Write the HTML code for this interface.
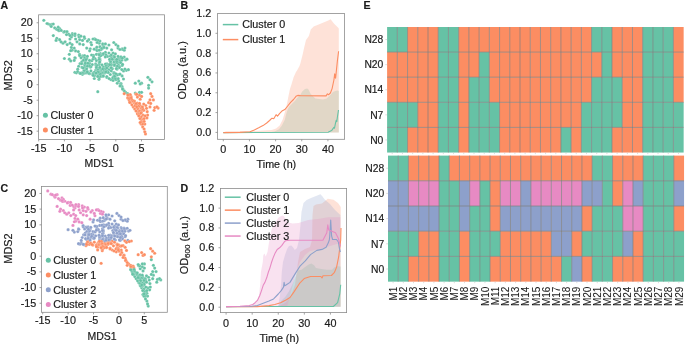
<!DOCTYPE html>
<html><head><meta charset="utf-8"><style>
html,body{margin:0;padding:0;background:#fff;}
body{width:685px;height:345px;overflow:hidden;}
svg{display:block;will-change:transform;}
text{font-family:"Liberation Sans", sans-serif;stroke:#1a1a1a;stroke-width:0.18px;}
</style></head><body>
<svg width="685" height="345" viewBox="0 0 685 345" font-family='"Liberation Sans", sans-serif' fill="#1a1a1a">
<rect width="685" height="345" fill="#fff"/>
<text x="0.50" y="8.60" font-size="10.6" text-anchor="start" font-weight="bold" >A</text>
<text x="180.50" y="9.00" font-size="10.6" text-anchor="start" font-weight="bold" >B</text>
<text x="0.60" y="191.60" font-size="10.6" text-anchor="start" font-weight="bold" >C</text>
<text x="180.50" y="192.00" font-size="10.6" text-anchor="start" font-weight="bold" >D</text>
<text x="363.60" y="8.70" font-size="10.6" text-anchor="start" font-weight="bold" >E</text>
<circle cx="117.41" cy="67.82" r="1.6" fill="#66c2a5" stroke="#ffffff" stroke-width="0.3" stroke-opacity="0.6"/>
<circle cx="122.10" cy="86.70" r="1.6" fill="#66c2a5" stroke="#ffffff" stroke-width="0.3" stroke-opacity="0.6"/>
<circle cx="107.50" cy="56.40" r="1.6" fill="#66c2a5" stroke="#ffffff" stroke-width="0.3" stroke-opacity="0.6"/>
<circle cx="98.52" cy="70.46" r="1.6" fill="#66c2a5" stroke="#ffffff" stroke-width="0.3" stroke-opacity="0.6"/>
<circle cx="142.70" cy="126.90" r="1.6" fill="#fc8d62" stroke="#ffffff" stroke-width="0.3" stroke-opacity="0.6"/>
<circle cx="87.40" cy="71.60" r="1.6" fill="#66c2a5" stroke="#ffffff" stroke-width="0.3" stroke-opacity="0.6"/>
<circle cx="70.00" cy="39.00" r="1.6" fill="#66c2a5" stroke="#ffffff" stroke-width="0.3" stroke-opacity="0.6"/>
<circle cx="122.10" cy="48.80" r="1.6" fill="#66c2a5" stroke="#ffffff" stroke-width="0.3" stroke-opacity="0.6"/>
<circle cx="110.98" cy="63.90" r="1.6" fill="#66c2a5" stroke="#ffffff" stroke-width="0.3" stroke-opacity="0.6"/>
<circle cx="74.90" cy="35.60" r="1.6" fill="#66c2a5" stroke="#ffffff" stroke-width="0.3" stroke-opacity="0.6"/>
<circle cx="125.60" cy="92.30" r="1.6" fill="#66c2a5" stroke="#ffffff" stroke-width="0.3" stroke-opacity="0.6"/>
<circle cx="99.90" cy="59.00" r="1.6" fill="#66c2a5" stroke="#ffffff" stroke-width="0.3" stroke-opacity="0.6"/>
<circle cx="116.02" cy="60.57" r="1.6" fill="#66c2a5" stroke="#ffffff" stroke-width="0.3" stroke-opacity="0.6"/>
<circle cx="118.00" cy="48.10" r="1.6" fill="#66c2a5" stroke="#ffffff" stroke-width="0.3" stroke-opacity="0.6"/>
<circle cx="93.37" cy="55.31" r="1.6" fill="#66c2a5" stroke="#ffffff" stroke-width="0.3" stroke-opacity="0.6"/>
<circle cx="103.01" cy="47.99" r="1.6" fill="#66c2a5" stroke="#ffffff" stroke-width="0.3" stroke-opacity="0.6"/>
<circle cx="124.20" cy="57.10" r="1.6" fill="#66c2a5" stroke="#ffffff" stroke-width="0.3" stroke-opacity="0.6"/>
<circle cx="111.70" cy="57.10" r="1.6" fill="#66c2a5" stroke="#ffffff" stroke-width="0.3" stroke-opacity="0.6"/>
<circle cx="129.82" cy="101.59" r="1.6" fill="#fc8d62" stroke="#ffffff" stroke-width="0.3" stroke-opacity="0.6"/>
<circle cx="67.20" cy="44.60" r="1.6" fill="#66c2a5" stroke="#ffffff" stroke-width="0.3" stroke-opacity="0.6"/>
<circle cx="63.70" cy="32.10" r="1.6" fill="#66c2a5" stroke="#ffffff" stroke-width="0.3" stroke-opacity="0.6"/>
<circle cx="113.81" cy="73.39" r="1.6" fill="#66c2a5" stroke="#ffffff" stroke-width="0.3" stroke-opacity="0.6"/>
<circle cx="99.90" cy="46.70" r="1.6" fill="#66c2a5" stroke="#ffffff" stroke-width="0.3" stroke-opacity="0.6"/>
<circle cx="116.09" cy="62.97" r="1.6" fill="#66c2a5" stroke="#ffffff" stroke-width="0.3" stroke-opacity="0.6"/>
<circle cx="137.20" cy="103.20" r="1.6" fill="#fc8d62" stroke="#ffffff" stroke-width="0.3" stroke-opacity="0.6"/>
<circle cx="110.35" cy="56.12" r="1.6" fill="#66c2a5" stroke="#ffffff" stroke-width="0.3" stroke-opacity="0.6"/>
<circle cx="140.02" cy="106.48" r="1.6" fill="#fc8d62" stroke="#ffffff" stroke-width="0.3" stroke-opacity="0.6"/>
<circle cx="79.59" cy="54.38" r="1.6" fill="#66c2a5" stroke="#ffffff" stroke-width="0.3" stroke-opacity="0.6"/>
<circle cx="150.00" cy="99.90" r="1.6" fill="#fc8d62" stroke="#ffffff" stroke-width="0.3" stroke-opacity="0.6"/>
<circle cx="146.90" cy="117.90" r="1.6" fill="#fc8d62" stroke="#ffffff" stroke-width="0.3" stroke-opacity="0.6"/>
<circle cx="130.50" cy="95.00" r="1.6" fill="#fc8d62" stroke="#ffffff" stroke-width="0.3" stroke-opacity="0.6"/>
<circle cx="95.70" cy="70.30" r="1.6" fill="#66c2a5" stroke="#ffffff" stroke-width="0.3" stroke-opacity="0.6"/>
<circle cx="69.30" cy="59.20" r="1.6" fill="#66c2a5" stroke="#ffffff" stroke-width="0.3" stroke-opacity="0.6"/>
<circle cx="153.40" cy="99.90" r="1.6" fill="#fc8d62" stroke="#ffffff" stroke-width="0.3" stroke-opacity="0.6"/>
<circle cx="82.50" cy="74.30" r="1.6" fill="#66c2a5" stroke="#ffffff" stroke-width="0.3" stroke-opacity="0.6"/>
<circle cx="91.78" cy="60.73" r="1.6" fill="#66c2a5" stroke="#ffffff" stroke-width="0.3" stroke-opacity="0.6"/>
<circle cx="78.67" cy="66.25" r="1.6" fill="#66c2a5" stroke="#ffffff" stroke-width="0.3" stroke-opacity="0.6"/>
<circle cx="128.40" cy="95.70" r="1.6" fill="#fc8d62" stroke="#ffffff" stroke-width="0.3" stroke-opacity="0.6"/>
<circle cx="133.30" cy="106.90" r="1.6" fill="#fc8d62" stroke="#ffffff" stroke-width="0.3" stroke-opacity="0.6"/>
<circle cx="77.00" cy="41.80" r="1.6" fill="#66c2a5" stroke="#ffffff" stroke-width="0.3" stroke-opacity="0.6"/>
<circle cx="81.80" cy="61.80" r="1.6" fill="#66c2a5" stroke="#ffffff" stroke-width="0.3" stroke-opacity="0.6"/>
<circle cx="143.00" cy="115.20" r="1.6" fill="#fc8d62" stroke="#ffffff" stroke-width="0.3" stroke-opacity="0.6"/>
<circle cx="100.42" cy="53.68" r="1.6" fill="#66c2a5" stroke="#ffffff" stroke-width="0.3" stroke-opacity="0.6"/>
<circle cx="63.00" cy="43.20" r="1.6" fill="#66c2a5" stroke="#ffffff" stroke-width="0.3" stroke-opacity="0.6"/>
<circle cx="125.60" cy="59.90" r="1.6" fill="#66c2a5" stroke="#ffffff" stroke-width="0.3" stroke-opacity="0.6"/>
<circle cx="127.70" cy="97.80" r="1.6" fill="#fc8d62" stroke="#ffffff" stroke-width="0.3" stroke-opacity="0.6"/>
<circle cx="56.80" cy="38.30" r="1.6" fill="#66c2a5" stroke="#ffffff" stroke-width="0.3" stroke-opacity="0.6"/>
<circle cx="79.70" cy="43.90" r="1.6" fill="#66c2a5" stroke="#ffffff" stroke-width="0.3" stroke-opacity="0.6"/>
<circle cx="113.10" cy="59.20" r="1.6" fill="#66c2a5" stroke="#ffffff" stroke-width="0.3" stroke-opacity="0.6"/>
<circle cx="118.56" cy="65.21" r="1.6" fill="#66c2a5" stroke="#ffffff" stroke-width="0.3" stroke-opacity="0.6"/>
<circle cx="111.57" cy="58.25" r="1.6" fill="#66c2a5" stroke="#ffffff" stroke-width="0.3" stroke-opacity="0.6"/>
<circle cx="75.60" cy="39.00" r="1.6" fill="#66c2a5" stroke="#ffffff" stroke-width="0.3" stroke-opacity="0.6"/>
<circle cx="92.30" cy="64.60" r="1.6" fill="#66c2a5" stroke="#ffffff" stroke-width="0.3" stroke-opacity="0.6"/>
<circle cx="77.73" cy="69.16" r="1.6" fill="#66c2a5" stroke="#ffffff" stroke-width="0.3" stroke-opacity="0.6"/>
<circle cx="86.00" cy="73.00" r="1.6" fill="#66c2a5" stroke="#ffffff" stroke-width="0.3" stroke-opacity="0.6"/>
<circle cx="139.50" cy="95.19" r="1.6" fill="#fc8d62" stroke="#ffffff" stroke-width="0.3" stroke-opacity="0.6"/>
<circle cx="144.10" cy="129.00" r="1.6" fill="#fc8d62" stroke="#ffffff" stroke-width="0.3" stroke-opacity="0.6"/>
<circle cx="106.92" cy="77.48" r="1.6" fill="#66c2a5" stroke="#ffffff" stroke-width="0.3" stroke-opacity="0.6"/>
<circle cx="70.70" cy="60.90" r="1.6" fill="#66c2a5" stroke="#ffffff" stroke-width="0.3" stroke-opacity="0.6"/>
<circle cx="142.00" cy="124.10" r="1.6" fill="#fc8d62" stroke="#ffffff" stroke-width="0.3" stroke-opacity="0.6"/>
<circle cx="114.03" cy="72.69" r="1.6" fill="#66c2a5" stroke="#ffffff" stroke-width="0.3" stroke-opacity="0.6"/>
<circle cx="84.60" cy="38.30" r="1.6" fill="#66c2a5" stroke="#ffffff" stroke-width="0.3" stroke-opacity="0.6"/>
<circle cx="110.89" cy="79.55" r="1.6" fill="#66c2a5" stroke="#ffffff" stroke-width="0.3" stroke-opacity="0.6"/>
<circle cx="65.10" cy="41.80" r="1.6" fill="#66c2a5" stroke="#ffffff" stroke-width="0.3" stroke-opacity="0.6"/>
<circle cx="84.58" cy="67.01" r="1.6" fill="#66c2a5" stroke="#ffffff" stroke-width="0.3" stroke-opacity="0.6"/>
<circle cx="105.18" cy="71.66" r="1.6" fill="#66c2a5" stroke="#ffffff" stroke-width="0.3" stroke-opacity="0.6"/>
<circle cx="82.66" cy="55.93" r="1.6" fill="#66c2a5" stroke="#ffffff" stroke-width="0.3" stroke-opacity="0.6"/>
<circle cx="99.67" cy="76.22" r="1.6" fill="#66c2a5" stroke="#ffffff" stroke-width="0.3" stroke-opacity="0.6"/>
<circle cx="79.70" cy="55.70" r="1.6" fill="#66c2a5" stroke="#ffffff" stroke-width="0.3" stroke-opacity="0.6"/>
<circle cx="72.29" cy="33.67" r="1.6" fill="#66c2a5" stroke="#ffffff" stroke-width="0.3" stroke-opacity="0.6"/>
<circle cx="86.70" cy="48.10" r="1.6" fill="#66c2a5" stroke="#ffffff" stroke-width="0.3" stroke-opacity="0.6"/>
<circle cx="90.20" cy="48.80" r="1.6" fill="#66c2a5" stroke="#ffffff" stroke-width="0.3" stroke-opacity="0.6"/>
<circle cx="104.70" cy="73.10" r="1.6" fill="#66c2a5" stroke="#ffffff" stroke-width="0.3" stroke-opacity="0.6"/>
<circle cx="51.90" cy="24.40" r="1.6" fill="#66c2a5" stroke="#ffffff" stroke-width="0.3" stroke-opacity="0.6"/>
<circle cx="115.90" cy="79.70" r="1.6" fill="#66c2a5" stroke="#ffffff" stroke-width="0.3" stroke-opacity="0.6"/>
<circle cx="138.10" cy="109.00" r="1.6" fill="#fc8d62" stroke="#ffffff" stroke-width="0.3" stroke-opacity="0.6"/>
<circle cx="101.30" cy="71.70" r="1.6" fill="#66c2a5" stroke="#ffffff" stroke-width="0.3" stroke-opacity="0.6"/>
<circle cx="108.90" cy="69.70" r="1.6" fill="#66c2a5" stroke="#ffffff" stroke-width="0.3" stroke-opacity="0.6"/>
<circle cx="75.60" cy="50.90" r="1.6" fill="#66c2a5" stroke="#ffffff" stroke-width="0.3" stroke-opacity="0.6"/>
<circle cx="152.00" cy="81.80" r="1.6" fill="#66c2a5" stroke="#ffffff" stroke-width="0.3" stroke-opacity="0.6"/>
<circle cx="141.60" cy="83.20" r="1.6" fill="#66c2a5" stroke="#ffffff" stroke-width="0.3" stroke-opacity="0.6"/>
<circle cx="117.13" cy="69.06" r="1.6" fill="#66c2a5" stroke="#ffffff" stroke-width="0.3" stroke-opacity="0.6"/>
<circle cx="74.20" cy="48.10" r="1.6" fill="#66c2a5" stroke="#ffffff" stroke-width="0.3" stroke-opacity="0.6"/>
<circle cx="111.34" cy="54.92" r="1.6" fill="#66c2a5" stroke="#ffffff" stroke-width="0.3" stroke-opacity="0.6"/>
<circle cx="118.70" cy="74.50" r="1.6" fill="#66c2a5" stroke="#ffffff" stroke-width="0.3" stroke-opacity="0.6"/>
<circle cx="107.14" cy="71.72" r="1.6" fill="#66c2a5" stroke="#ffffff" stroke-width="0.3" stroke-opacity="0.6"/>
<circle cx="72.23" cy="34.95" r="1.6" fill="#66c2a5" stroke="#ffffff" stroke-width="0.3" stroke-opacity="0.6"/>
<circle cx="119.30" cy="59.90" r="1.6" fill="#66c2a5" stroke="#ffffff" stroke-width="0.3" stroke-opacity="0.6"/>
<circle cx="94.30" cy="78.50" r="1.6" fill="#66c2a5" stroke="#ffffff" stroke-width="0.3" stroke-opacity="0.6"/>
<circle cx="113.80" cy="62.00" r="1.6" fill="#66c2a5" stroke="#ffffff" stroke-width="0.3" stroke-opacity="0.6"/>
<circle cx="90.31" cy="67.12" r="1.6" fill="#66c2a5" stroke="#ffffff" stroke-width="0.3" stroke-opacity="0.6"/>
<circle cx="50.50" cy="24.90" r="1.6" fill="#66c2a5" stroke="#ffffff" stroke-width="0.3" stroke-opacity="0.6"/>
<circle cx="144.80" cy="124.10" r="1.6" fill="#fc8d62" stroke="#ffffff" stroke-width="0.3" stroke-opacity="0.6"/>
<circle cx="141.04" cy="124.02" r="1.6" fill="#fc8d62" stroke="#ffffff" stroke-width="0.3" stroke-opacity="0.6"/>
<circle cx="134.00" cy="102.70" r="1.6" fill="#fc8d62" stroke="#ffffff" stroke-width="0.3" stroke-opacity="0.6"/>
<circle cx="111.26" cy="67.70" r="1.6" fill="#66c2a5" stroke="#ffffff" stroke-width="0.3" stroke-opacity="0.6"/>
<circle cx="117.30" cy="74.90" r="1.6" fill="#66c2a5" stroke="#ffffff" stroke-width="0.3" stroke-opacity="0.6"/>
<circle cx="154.10" cy="110.30" r="1.6" fill="#fc8d62" stroke="#ffffff" stroke-width="0.3" stroke-opacity="0.6"/>
<circle cx="102.73" cy="73.19" r="1.6" fill="#66c2a5" stroke="#ffffff" stroke-width="0.3" stroke-opacity="0.6"/>
<circle cx="142.02" cy="119.49" r="1.6" fill="#fc8d62" stroke="#ffffff" stroke-width="0.3" stroke-opacity="0.6"/>
<circle cx="85.40" cy="70.08" r="1.6" fill="#66c2a5" stroke="#ffffff" stroke-width="0.3" stroke-opacity="0.6"/>
<circle cx="138.21" cy="114.07" r="1.6" fill="#fc8d62" stroke="#ffffff" stroke-width="0.3" stroke-opacity="0.6"/>
<circle cx="122.66" cy="49.40" r="1.6" fill="#66c2a5" stroke="#ffffff" stroke-width="0.3" stroke-opacity="0.6"/>
<circle cx="111.60" cy="49.79" r="1.6" fill="#66c2a5" stroke="#ffffff" stroke-width="0.3" stroke-opacity="0.6"/>
<circle cx="130.50" cy="102.70" r="1.6" fill="#fc8d62" stroke="#ffffff" stroke-width="0.3" stroke-opacity="0.6"/>
<circle cx="100.97" cy="49.67" r="1.6" fill="#66c2a5" stroke="#ffffff" stroke-width="0.3" stroke-opacity="0.6"/>
<circle cx="68.60" cy="34.20" r="1.6" fill="#66c2a5" stroke="#ffffff" stroke-width="0.3" stroke-opacity="0.6"/>
<circle cx="127.94" cy="98.07" r="1.6" fill="#fc8d62" stroke="#ffffff" stroke-width="0.3" stroke-opacity="0.6"/>
<circle cx="83.90" cy="73.16" r="1.6" fill="#66c2a5" stroke="#ffffff" stroke-width="0.3" stroke-opacity="0.6"/>
<circle cx="119.36" cy="62.20" r="1.6" fill="#66c2a5" stroke="#ffffff" stroke-width="0.3" stroke-opacity="0.6"/>
<circle cx="113.10" cy="80.40" r="1.6" fill="#66c2a5" stroke="#ffffff" stroke-width="0.3" stroke-opacity="0.6"/>
<circle cx="135.30" cy="83.20" r="1.6" fill="#66c2a5" stroke="#ffffff" stroke-width="0.3" stroke-opacity="0.6"/>
<circle cx="53.30" cy="35.60" r="1.6" fill="#66c2a5" stroke="#ffffff" stroke-width="0.3" stroke-opacity="0.6"/>
<circle cx="98.95" cy="79.34" r="1.6" fill="#66c2a5" stroke="#ffffff" stroke-width="0.3" stroke-opacity="0.6"/>
<circle cx="88.34" cy="65.03" r="1.6" fill="#66c2a5" stroke="#ffffff" stroke-width="0.3" stroke-opacity="0.6"/>
<circle cx="94.67" cy="74.94" r="1.6" fill="#66c2a5" stroke="#ffffff" stroke-width="0.3" stroke-opacity="0.6"/>
<circle cx="95.71" cy="72.34" r="1.6" fill="#66c2a5" stroke="#ffffff" stroke-width="0.3" stroke-opacity="0.6"/>
<circle cx="75.23" cy="58.10" r="1.6" fill="#66c2a5" stroke="#ffffff" stroke-width="0.3" stroke-opacity="0.6"/>
<circle cx="114.06" cy="56.07" r="1.6" fill="#66c2a5" stroke="#ffffff" stroke-width="0.3" stroke-opacity="0.6"/>
<circle cx="97.78" cy="76.03" r="1.6" fill="#66c2a5" stroke="#ffffff" stroke-width="0.3" stroke-opacity="0.6"/>
<circle cx="83.70" cy="56.58" r="1.6" fill="#66c2a5" stroke="#ffffff" stroke-width="0.3" stroke-opacity="0.6"/>
<circle cx="145.80" cy="105.50" r="1.6" fill="#fc8d62" stroke="#ffffff" stroke-width="0.3" stroke-opacity="0.6"/>
<circle cx="94.98" cy="73.55" r="1.6" fill="#66c2a5" stroke="#ffffff" stroke-width="0.3" stroke-opacity="0.6"/>
<circle cx="101.15" cy="69.51" r="1.6" fill="#66c2a5" stroke="#ffffff" stroke-width="0.3" stroke-opacity="0.6"/>
<circle cx="70.00" cy="43.20" r="1.6" fill="#66c2a5" stroke="#ffffff" stroke-width="0.3" stroke-opacity="0.6"/>
<circle cx="141.22" cy="116.97" r="1.6" fill="#fc8d62" stroke="#ffffff" stroke-width="0.3" stroke-opacity="0.6"/>
<circle cx="113.81" cy="76.18" r="1.6" fill="#66c2a5" stroke="#ffffff" stroke-width="0.3" stroke-opacity="0.6"/>
<circle cx="137.20" cy="111.60" r="1.6" fill="#fc8d62" stroke="#ffffff" stroke-width="0.3" stroke-opacity="0.6"/>
<circle cx="132.26" cy="101.17" r="1.6" fill="#fc8d62" stroke="#ffffff" stroke-width="0.3" stroke-opacity="0.6"/>
<circle cx="85.57" cy="63.48" r="1.6" fill="#66c2a5" stroke="#ffffff" stroke-width="0.3" stroke-opacity="0.6"/>
<circle cx="120.32" cy="60.81" r="1.6" fill="#66c2a5" stroke="#ffffff" stroke-width="0.3" stroke-opacity="0.6"/>
<circle cx="152.00" cy="96.40" r="1.6" fill="#fc8d62" stroke="#ffffff" stroke-width="0.3" stroke-opacity="0.6"/>
<circle cx="147.60" cy="115.10" r="1.6" fill="#fc8d62" stroke="#ffffff" stroke-width="0.3" stroke-opacity="0.6"/>
<circle cx="126.30" cy="70.30" r="1.6" fill="#66c2a5" stroke="#ffffff" stroke-width="0.3" stroke-opacity="0.6"/>
<circle cx="89.50" cy="73.70" r="1.6" fill="#66c2a5" stroke="#ffffff" stroke-width="0.3" stroke-opacity="0.6"/>
<circle cx="110.30" cy="61.30" r="1.6" fill="#66c2a5" stroke="#ffffff" stroke-width="0.3" stroke-opacity="0.6"/>
<circle cx="116.72" cy="68.84" r="1.6" fill="#66c2a5" stroke="#ffffff" stroke-width="0.3" stroke-opacity="0.6"/>
<circle cx="84.60" cy="55.70" r="1.6" fill="#66c2a5" stroke="#ffffff" stroke-width="0.3" stroke-opacity="0.6"/>
<circle cx="85.08" cy="58.50" r="1.6" fill="#66c2a5" stroke="#ffffff" stroke-width="0.3" stroke-opacity="0.6"/>
<circle cx="79.70" cy="39.70" r="1.6" fill="#66c2a5" stroke="#ffffff" stroke-width="0.3" stroke-opacity="0.6"/>
<circle cx="147.20" cy="111.70" r="1.6" fill="#fc8d62" stroke="#ffffff" stroke-width="0.3" stroke-opacity="0.6"/>
<circle cx="84.67" cy="64.73" r="1.6" fill="#66c2a5" stroke="#ffffff" stroke-width="0.3" stroke-opacity="0.6"/>
<circle cx="107.01" cy="63.86" r="1.6" fill="#66c2a5" stroke="#ffffff" stroke-width="0.3" stroke-opacity="0.6"/>
<circle cx="119.88" cy="49.49" r="1.6" fill="#66c2a5" stroke="#ffffff" stroke-width="0.3" stroke-opacity="0.6"/>
<circle cx="107.98" cy="64.72" r="1.6" fill="#66c2a5" stroke="#ffffff" stroke-width="0.3" stroke-opacity="0.6"/>
<circle cx="105.40" cy="52.30" r="1.6" fill="#66c2a5" stroke="#ffffff" stroke-width="0.3" stroke-opacity="0.6"/>
<circle cx="89.57" cy="63.29" r="1.6" fill="#66c2a5" stroke="#ffffff" stroke-width="0.3" stroke-opacity="0.6"/>
<circle cx="54.70" cy="27.90" r="1.6" fill="#66c2a5" stroke="#ffffff" stroke-width="0.3" stroke-opacity="0.6"/>
<circle cx="108.00" cy="66.27" r="1.6" fill="#66c2a5" stroke="#ffffff" stroke-width="0.3" stroke-opacity="0.6"/>
<circle cx="102.17" cy="72.82" r="1.6" fill="#66c2a5" stroke="#ffffff" stroke-width="0.3" stroke-opacity="0.6"/>
<circle cx="141.14" cy="108.62" r="1.6" fill="#fc8d62" stroke="#ffffff" stroke-width="0.3" stroke-opacity="0.6"/>
<circle cx="114.50" cy="73.50" r="1.6" fill="#66c2a5" stroke="#ffffff" stroke-width="0.3" stroke-opacity="0.6"/>
<circle cx="110.54" cy="61.69" r="1.6" fill="#66c2a5" stroke="#ffffff" stroke-width="0.3" stroke-opacity="0.6"/>
<circle cx="96.40" cy="54.30" r="1.6" fill="#66c2a5" stroke="#ffffff" stroke-width="0.3" stroke-opacity="0.6"/>
<circle cx="113.10" cy="53.00" r="1.6" fill="#66c2a5" stroke="#ffffff" stroke-width="0.3" stroke-opacity="0.6"/>
<circle cx="154.80" cy="107.60" r="1.6" fill="#fc8d62" stroke="#ffffff" stroke-width="0.3" stroke-opacity="0.6"/>
<circle cx="78.68" cy="35.04" r="1.6" fill="#66c2a5" stroke="#ffffff" stroke-width="0.3" stroke-opacity="0.6"/>
<circle cx="122.80" cy="88.80" r="1.6" fill="#66c2a5" stroke="#ffffff" stroke-width="0.3" stroke-opacity="0.6"/>
<circle cx="140.20" cy="99.20" r="1.6" fill="#fc8d62" stroke="#ffffff" stroke-width="0.3" stroke-opacity="0.6"/>
<circle cx="48.40" cy="24.00" r="1.6" fill="#66c2a5" stroke="#ffffff" stroke-width="0.3" stroke-opacity="0.6"/>
<circle cx="139.33" cy="114.04" r="1.6" fill="#fc8d62" stroke="#ffffff" stroke-width="0.3" stroke-opacity="0.6"/>
<circle cx="74.90" cy="72.30" r="1.6" fill="#66c2a5" stroke="#ffffff" stroke-width="0.3" stroke-opacity="0.6"/>
<circle cx="96.33" cy="68.91" r="1.6" fill="#66c2a5" stroke="#ffffff" stroke-width="0.3" stroke-opacity="0.6"/>
<circle cx="99.20" cy="43.20" r="1.6" fill="#66c2a5" stroke="#ffffff" stroke-width="0.3" stroke-opacity="0.6"/>
<circle cx="111.70" cy="64.80" r="1.6" fill="#66c2a5" stroke="#ffffff" stroke-width="0.3" stroke-opacity="0.6"/>
<circle cx="96.40" cy="49.50" r="1.6" fill="#66c2a5" stroke="#ffffff" stroke-width="0.3" stroke-opacity="0.6"/>
<circle cx="86.70" cy="68.80" r="1.6" fill="#66c2a5" stroke="#ffffff" stroke-width="0.3" stroke-opacity="0.6"/>
<circle cx="141.30" cy="121.30" r="1.6" fill="#fc8d62" stroke="#ffffff" stroke-width="0.3" stroke-opacity="0.6"/>
<circle cx="137.73" cy="108.73" r="1.6" fill="#fc8d62" stroke="#ffffff" stroke-width="0.3" stroke-opacity="0.6"/>
<circle cx="84.93" cy="58.03" r="1.6" fill="#66c2a5" stroke="#ffffff" stroke-width="0.3" stroke-opacity="0.6"/>
<circle cx="85.41" cy="62.15" r="1.6" fill="#66c2a5" stroke="#ffffff" stroke-width="0.3" stroke-opacity="0.6"/>
<circle cx="99.90" cy="41.10" r="1.6" fill="#66c2a5" stroke="#ffffff" stroke-width="0.3" stroke-opacity="0.6"/>
<circle cx="140.00" cy="105.30" r="1.6" fill="#fc8d62" stroke="#ffffff" stroke-width="0.3" stroke-opacity="0.6"/>
<circle cx="94.30" cy="75.70" r="1.6" fill="#66c2a5" stroke="#ffffff" stroke-width="0.3" stroke-opacity="0.6"/>
<circle cx="137.40" cy="113.80" r="1.6" fill="#fc8d62" stroke="#ffffff" stroke-width="0.3" stroke-opacity="0.6"/>
<circle cx="90.90" cy="42.50" r="1.6" fill="#66c2a5" stroke="#ffffff" stroke-width="0.3" stroke-opacity="0.6"/>
<circle cx="96.40" cy="73.00" r="1.6" fill="#66c2a5" stroke="#ffffff" stroke-width="0.3" stroke-opacity="0.6"/>
<circle cx="138.80" cy="81.10" r="1.6" fill="#66c2a5" stroke="#ffffff" stroke-width="0.3" stroke-opacity="0.6"/>
<circle cx="106.80" cy="48.10" r="1.6" fill="#66c2a5" stroke="#ffffff" stroke-width="0.3" stroke-opacity="0.6"/>
<circle cx="148.60" cy="88.10" r="1.6" fill="#66c2a5" stroke="#ffffff" stroke-width="0.3" stroke-opacity="0.6"/>
<circle cx="59.60" cy="28.60" r="1.6" fill="#66c2a5" stroke="#ffffff" stroke-width="0.3" stroke-opacity="0.6"/>
<circle cx="90.90" cy="66.70" r="1.6" fill="#66c2a5" stroke="#ffffff" stroke-width="0.3" stroke-opacity="0.6"/>
<circle cx="86.70" cy="58.50" r="1.6" fill="#66c2a5" stroke="#ffffff" stroke-width="0.3" stroke-opacity="0.6"/>
<circle cx="113.76" cy="64.75" r="1.6" fill="#66c2a5" stroke="#ffffff" stroke-width="0.3" stroke-opacity="0.6"/>
<circle cx="107.93" cy="72.28" r="1.6" fill="#66c2a5" stroke="#ffffff" stroke-width="0.3" stroke-opacity="0.6"/>
<circle cx="58.90" cy="30.70" r="1.6" fill="#66c2a5" stroke="#ffffff" stroke-width="0.3" stroke-opacity="0.6"/>
<circle cx="88.80" cy="63.90" r="1.6" fill="#66c2a5" stroke="#ffffff" stroke-width="0.3" stroke-opacity="0.6"/>
<circle cx="82.50" cy="40.40" r="1.6" fill="#66c2a5" stroke="#ffffff" stroke-width="0.3" stroke-opacity="0.6"/>
<circle cx="108.20" cy="72.40" r="1.6" fill="#66c2a5" stroke="#ffffff" stroke-width="0.3" stroke-opacity="0.6"/>
<circle cx="118.86" cy="57.45" r="1.6" fill="#66c2a5" stroke="#ffffff" stroke-width="0.3" stroke-opacity="0.6"/>
<circle cx="124.20" cy="90.90" r="1.6" fill="#66c2a5" stroke="#ffffff" stroke-width="0.3" stroke-opacity="0.6"/>
<circle cx="130.90" cy="96.30" r="1.6" fill="#fc8d62" stroke="#ffffff" stroke-width="0.3" stroke-opacity="0.6"/>
<circle cx="137.40" cy="97.10" r="1.6" fill="#fc8d62" stroke="#ffffff" stroke-width="0.3" stroke-opacity="0.6"/>
<circle cx="117.30" cy="83.20" r="1.6" fill="#66c2a5" stroke="#ffffff" stroke-width="0.3" stroke-opacity="0.6"/>
<circle cx="105.89" cy="54.93" r="1.6" fill="#66c2a5" stroke="#ffffff" stroke-width="0.3" stroke-opacity="0.6"/>
<circle cx="101.46" cy="76.11" r="1.6" fill="#66c2a5" stroke="#ffffff" stroke-width="0.3" stroke-opacity="0.6"/>
<circle cx="104.28" cy="70.75" r="1.6" fill="#66c2a5" stroke="#ffffff" stroke-width="0.3" stroke-opacity="0.6"/>
<circle cx="131.90" cy="104.80" r="1.6" fill="#fc8d62" stroke="#ffffff" stroke-width="0.3" stroke-opacity="0.6"/>
<circle cx="97.80" cy="40.40" r="1.6" fill="#66c2a5" stroke="#ffffff" stroke-width="0.3" stroke-opacity="0.6"/>
<circle cx="99.82" cy="60.24" r="1.6" fill="#66c2a5" stroke="#ffffff" stroke-width="0.3" stroke-opacity="0.6"/>
<circle cx="103.04" cy="45.04" r="1.6" fill="#66c2a5" stroke="#ffffff" stroke-width="0.3" stroke-opacity="0.6"/>
<circle cx="99.20" cy="75.20" r="1.6" fill="#66c2a5" stroke="#ffffff" stroke-width="0.3" stroke-opacity="0.6"/>
<circle cx="109.73" cy="64.66" r="1.6" fill="#66c2a5" stroke="#ffffff" stroke-width="0.3" stroke-opacity="0.6"/>
<circle cx="158.10" cy="108.10" r="1.6" fill="#fc8d62" stroke="#ffffff" stroke-width="0.3" stroke-opacity="0.6"/>
<circle cx="79.00" cy="37.00" r="1.6" fill="#66c2a5" stroke="#ffffff" stroke-width="0.3" stroke-opacity="0.6"/>
<circle cx="119.52" cy="66.83" r="1.6" fill="#66c2a5" stroke="#ffffff" stroke-width="0.3" stroke-opacity="0.6"/>
<circle cx="123.50" cy="71.00" r="1.6" fill="#66c2a5" stroke="#ffffff" stroke-width="0.3" stroke-opacity="0.6"/>
<circle cx="83.90" cy="70.90" r="1.6" fill="#66c2a5" stroke="#ffffff" stroke-width="0.3" stroke-opacity="0.6"/>
<circle cx="106.80" cy="76.60" r="1.6" fill="#66c2a5" stroke="#ffffff" stroke-width="0.3" stroke-opacity="0.6"/>
<circle cx="98.43" cy="73.82" r="1.6" fill="#66c2a5" stroke="#ffffff" stroke-width="0.3" stroke-opacity="0.6"/>
<circle cx="142.73" cy="122.62" r="1.6" fill="#fc8d62" stroke="#ffffff" stroke-width="0.3" stroke-opacity="0.6"/>
<circle cx="127.70" cy="93.70" r="1.6" fill="#66c2a5" stroke="#ffffff" stroke-width="0.3" stroke-opacity="0.6"/>
<circle cx="103.30" cy="66.90" r="1.6" fill="#66c2a5" stroke="#ffffff" stroke-width="0.3" stroke-opacity="0.6"/>
<circle cx="150.70" cy="93.70" r="1.6" fill="#fc8d62" stroke="#ffffff" stroke-width="0.3" stroke-opacity="0.6"/>
<circle cx="138.92" cy="113.09" r="1.6" fill="#fc8d62" stroke="#ffffff" stroke-width="0.3" stroke-opacity="0.6"/>
<circle cx="75.08" cy="33.79" r="1.6" fill="#66c2a5" stroke="#ffffff" stroke-width="0.3" stroke-opacity="0.6"/>
<circle cx="96.13" cy="70.06" r="1.6" fill="#66c2a5" stroke="#ffffff" stroke-width="0.3" stroke-opacity="0.6"/>
<circle cx="98.68" cy="54.00" r="1.6" fill="#66c2a5" stroke="#ffffff" stroke-width="0.3" stroke-opacity="0.6"/>
<circle cx="108.90" cy="53.00" r="1.6" fill="#66c2a5" stroke="#ffffff" stroke-width="0.3" stroke-opacity="0.6"/>
<circle cx="99.20" cy="69.70" r="1.6" fill="#66c2a5" stroke="#ffffff" stroke-width="0.3" stroke-opacity="0.6"/>
<circle cx="97.80" cy="72.40" r="1.6" fill="#66c2a5" stroke="#ffffff" stroke-width="0.3" stroke-opacity="0.6"/>
<circle cx="99.20" cy="77.80" r="1.6" fill="#66c2a5" stroke="#ffffff" stroke-width="0.3" stroke-opacity="0.6"/>
<circle cx="148.60" cy="102.70" r="1.6" fill="#fc8d62" stroke="#ffffff" stroke-width="0.3" stroke-opacity="0.6"/>
<circle cx="82.07" cy="67.42" r="1.6" fill="#66c2a5" stroke="#ffffff" stroke-width="0.3" stroke-opacity="0.6"/>
<circle cx="99.20" cy="57.80" r="1.6" fill="#66c2a5" stroke="#ffffff" stroke-width="0.3" stroke-opacity="0.6"/>
<circle cx="99.06" cy="68.43" r="1.6" fill="#66c2a5" stroke="#ffffff" stroke-width="0.3" stroke-opacity="0.6"/>
<circle cx="129.70" cy="100.72" r="1.6" fill="#fc8d62" stroke="#ffffff" stroke-width="0.3" stroke-opacity="0.6"/>
<circle cx="74.90" cy="57.80" r="1.6" fill="#66c2a5" stroke="#ffffff" stroke-width="0.3" stroke-opacity="0.6"/>
<circle cx="102.56" cy="54.71" r="1.6" fill="#66c2a5" stroke="#ffffff" stroke-width="0.3" stroke-opacity="0.6"/>
<circle cx="124.26" cy="50.16" r="1.6" fill="#66c2a5" stroke="#ffffff" stroke-width="0.3" stroke-opacity="0.6"/>
<circle cx="111.31" cy="70.90" r="1.6" fill="#66c2a5" stroke="#ffffff" stroke-width="0.3" stroke-opacity="0.6"/>
<circle cx="83.06" cy="72.99" r="1.6" fill="#66c2a5" stroke="#ffffff" stroke-width="0.3" stroke-opacity="0.6"/>
<circle cx="130.06" cy="94.56" r="1.6" fill="#fc8d62" stroke="#ffffff" stroke-width="0.3" stroke-opacity="0.6"/>
<circle cx="124.90" cy="69.00" r="1.6" fill="#66c2a5" stroke="#ffffff" stroke-width="0.3" stroke-opacity="0.6"/>
<circle cx="94.20" cy="72.36" r="1.6" fill="#66c2a5" stroke="#ffffff" stroke-width="0.3" stroke-opacity="0.6"/>
<circle cx="56.10" cy="40.40" r="1.6" fill="#66c2a5" stroke="#ffffff" stroke-width="0.3" stroke-opacity="0.6"/>
<circle cx="115.90" cy="59.90" r="1.6" fill="#66c2a5" stroke="#ffffff" stroke-width="0.3" stroke-opacity="0.6"/>
<circle cx="141.36" cy="111.03" r="1.6" fill="#fc8d62" stroke="#ffffff" stroke-width="0.3" stroke-opacity="0.6"/>
<circle cx="103.69" cy="46.97" r="1.6" fill="#66c2a5" stroke="#ffffff" stroke-width="0.3" stroke-opacity="0.6"/>
<circle cx="76.39" cy="72.79" r="1.6" fill="#66c2a5" stroke="#ffffff" stroke-width="0.3" stroke-opacity="0.6"/>
<circle cx="71.40" cy="37.00" r="1.6" fill="#66c2a5" stroke="#ffffff" stroke-width="0.3" stroke-opacity="0.6"/>
<circle cx="121.04" cy="83.53" r="1.6" fill="#66c2a5" stroke="#ffffff" stroke-width="0.3" stroke-opacity="0.6"/>
<circle cx="118.00" cy="56.40" r="1.6" fill="#66c2a5" stroke="#ffffff" stroke-width="0.3" stroke-opacity="0.6"/>
<circle cx="108.90" cy="45.00" r="1.6" fill="#66c2a5" stroke="#ffffff" stroke-width="0.3" stroke-opacity="0.6"/>
<circle cx="117.30" cy="62.70" r="1.6" fill="#66c2a5" stroke="#ffffff" stroke-width="0.3" stroke-opacity="0.6"/>
<circle cx="64.40" cy="58.50" r="1.6" fill="#66c2a5" stroke="#ffffff" stroke-width="0.3" stroke-opacity="0.6"/>
<circle cx="139.50" cy="111.00" r="1.6" fill="#fc8d62" stroke="#ffffff" stroke-width="0.3" stroke-opacity="0.6"/>
<circle cx="127.85" cy="95.05" r="1.6" fill="#fc8d62" stroke="#ffffff" stroke-width="0.3" stroke-opacity="0.6"/>
<circle cx="134.40" cy="101.10" r="1.6" fill="#fc8d62" stroke="#ffffff" stroke-width="0.3" stroke-opacity="0.6"/>
<circle cx="91.55" cy="44.76" r="1.6" fill="#66c2a5" stroke="#ffffff" stroke-width="0.3" stroke-opacity="0.6"/>
<circle cx="139.69" cy="113.86" r="1.6" fill="#fc8d62" stroke="#ffffff" stroke-width="0.3" stroke-opacity="0.6"/>
<circle cx="115.40" cy="53.86" r="1.6" fill="#66c2a5" stroke="#ffffff" stroke-width="0.3" stroke-opacity="0.6"/>
<circle cx="134.70" cy="109.00" r="1.6" fill="#fc8d62" stroke="#ffffff" stroke-width="0.3" stroke-opacity="0.6"/>
<circle cx="53.30" cy="24.00" r="1.6" fill="#66c2a5" stroke="#ffffff" stroke-width="0.3" stroke-opacity="0.6"/>
<circle cx="109.57" cy="59.38" r="1.6" fill="#66c2a5" stroke="#ffffff" stroke-width="0.3" stroke-opacity="0.6"/>
<circle cx="96.40" cy="60.60" r="1.6" fill="#66c2a5" stroke="#ffffff" stroke-width="0.3" stroke-opacity="0.6"/>
<circle cx="74.20" cy="60.40" r="1.6" fill="#66c2a5" stroke="#ffffff" stroke-width="0.3" stroke-opacity="0.6"/>
<circle cx="148.60" cy="85.30" r="1.6" fill="#66c2a5" stroke="#ffffff" stroke-width="0.3" stroke-opacity="0.6"/>
<circle cx="88.63" cy="73.22" r="1.6" fill="#66c2a5" stroke="#ffffff" stroke-width="0.3" stroke-opacity="0.6"/>
<circle cx="97.80" cy="76.40" r="1.6" fill="#66c2a5" stroke="#ffffff" stroke-width="0.3" stroke-opacity="0.6"/>
<circle cx="94.19" cy="49.22" r="1.6" fill="#66c2a5" stroke="#ffffff" stroke-width="0.3" stroke-opacity="0.6"/>
<circle cx="89.42" cy="65.91" r="1.6" fill="#66c2a5" stroke="#ffffff" stroke-width="0.3" stroke-opacity="0.6"/>
<circle cx="127.00" cy="59.20" r="1.6" fill="#66c2a5" stroke="#ffffff" stroke-width="0.3" stroke-opacity="0.6"/>
<circle cx="138.80" cy="115.90" r="1.6" fill="#fc8d62" stroke="#ffffff" stroke-width="0.3" stroke-opacity="0.6"/>
<circle cx="122.10" cy="75.90" r="1.6" fill="#66c2a5" stroke="#ffffff" stroke-width="0.3" stroke-opacity="0.6"/>
<circle cx="122.10" cy="65.50" r="1.6" fill="#66c2a5" stroke="#ffffff" stroke-width="0.3" stroke-opacity="0.6"/>
<circle cx="115.90" cy="44.60" r="1.6" fill="#66c2a5" stroke="#ffffff" stroke-width="0.3" stroke-opacity="0.6"/>
<circle cx="99.18" cy="59.37" r="1.6" fill="#66c2a5" stroke="#ffffff" stroke-width="0.3" stroke-opacity="0.6"/>
<circle cx="97.03" cy="50.54" r="1.6" fill="#66c2a5" stroke="#ffffff" stroke-width="0.3" stroke-opacity="0.6"/>
<circle cx="123.50" cy="79.00" r="1.6" fill="#66c2a5" stroke="#ffffff" stroke-width="0.3" stroke-opacity="0.6"/>
<circle cx="101.88" cy="48.44" r="1.6" fill="#66c2a5" stroke="#ffffff" stroke-width="0.3" stroke-opacity="0.6"/>
<circle cx="106.10" cy="70.30" r="1.6" fill="#66c2a5" stroke="#ffffff" stroke-width="0.3" stroke-opacity="0.6"/>
<circle cx="132.60" cy="100.60" r="1.6" fill="#fc8d62" stroke="#ffffff" stroke-width="0.3" stroke-opacity="0.6"/>
<circle cx="94.66" cy="38.79" r="1.6" fill="#66c2a5" stroke="#ffffff" stroke-width="0.3" stroke-opacity="0.6"/>
<circle cx="105.40" cy="64.10" r="1.6" fill="#66c2a5" stroke="#ffffff" stroke-width="0.3" stroke-opacity="0.6"/>
<circle cx="145.10" cy="115.90" r="1.6" fill="#fc8d62" stroke="#ffffff" stroke-width="0.3" stroke-opacity="0.6"/>
<circle cx="100.60" cy="55.70" r="1.6" fill="#66c2a5" stroke="#ffffff" stroke-width="0.3" stroke-opacity="0.6"/>
<circle cx="114.50" cy="57.10" r="1.6" fill="#66c2a5" stroke="#ffffff" stroke-width="0.3" stroke-opacity="0.6"/>
<circle cx="112.24" cy="68.71" r="1.6" fill="#66c2a5" stroke="#ffffff" stroke-width="0.3" stroke-opacity="0.6"/>
<circle cx="104.97" cy="72.17" r="1.6" fill="#66c2a5" stroke="#ffffff" stroke-width="0.3" stroke-opacity="0.6"/>
<circle cx="97.49" cy="70.36" r="1.6" fill="#66c2a5" stroke="#ffffff" stroke-width="0.3" stroke-opacity="0.6"/>
<circle cx="122.52" cy="89.04" r="1.6" fill="#66c2a5" stroke="#ffffff" stroke-width="0.3" stroke-opacity="0.6"/>
<circle cx="115.90" cy="73.80" r="1.6" fill="#66c2a5" stroke="#ffffff" stroke-width="0.3" stroke-opacity="0.6"/>
<circle cx="115.18" cy="77.39" r="1.6" fill="#66c2a5" stroke="#ffffff" stroke-width="0.3" stroke-opacity="0.6"/>
<circle cx="87.40" cy="56.30" r="1.6" fill="#66c2a5" stroke="#ffffff" stroke-width="0.3" stroke-opacity="0.6"/>
<circle cx="141.33" cy="112.61" r="1.6" fill="#fc8d62" stroke="#ffffff" stroke-width="0.3" stroke-opacity="0.6"/>
<circle cx="90.90" cy="70.90" r="1.6" fill="#66c2a5" stroke="#ffffff" stroke-width="0.3" stroke-opacity="0.6"/>
<circle cx="99.20" cy="64.60" r="1.6" fill="#66c2a5" stroke="#ffffff" stroke-width="0.3" stroke-opacity="0.6"/>
<circle cx="120.70" cy="83.90" r="1.6" fill="#66c2a5" stroke="#ffffff" stroke-width="0.3" stroke-opacity="0.6"/>
<circle cx="121.83" cy="60.17" r="1.6" fill="#66c2a5" stroke="#ffffff" stroke-width="0.3" stroke-opacity="0.6"/>
<circle cx="80.08" cy="63.54" r="1.6" fill="#66c2a5" stroke="#ffffff" stroke-width="0.3" stroke-opacity="0.6"/>
<circle cx="121.40" cy="57.80" r="1.6" fill="#66c2a5" stroke="#ffffff" stroke-width="0.3" stroke-opacity="0.6"/>
<circle cx="97.10" cy="42.50" r="1.6" fill="#66c2a5" stroke="#ffffff" stroke-width="0.3" stroke-opacity="0.6"/>
<circle cx="98.44" cy="72.74" r="1.6" fill="#66c2a5" stroke="#ffffff" stroke-width="0.3" stroke-opacity="0.6"/>
<circle cx="81.58" cy="63.73" r="1.6" fill="#66c2a5" stroke="#ffffff" stroke-width="0.3" stroke-opacity="0.6"/>
<circle cx="129.10" cy="99.90" r="1.6" fill="#fc8d62" stroke="#ffffff" stroke-width="0.3" stroke-opacity="0.6"/>
<circle cx="109.11" cy="78.56" r="1.6" fill="#66c2a5" stroke="#ffffff" stroke-width="0.3" stroke-opacity="0.6"/>
<circle cx="113.80" cy="42.50" r="1.6" fill="#66c2a5" stroke="#ffffff" stroke-width="0.3" stroke-opacity="0.6"/>
<circle cx="120.67" cy="85.18" r="1.6" fill="#66c2a5" stroke="#ffffff" stroke-width="0.3" stroke-opacity="0.6"/>
<circle cx="100.97" cy="73.86" r="1.6" fill="#66c2a5" stroke="#ffffff" stroke-width="0.3" stroke-opacity="0.6"/>
<circle cx="93.00" cy="39.00" r="1.6" fill="#66c2a5" stroke="#ffffff" stroke-width="0.3" stroke-opacity="0.6"/>
<circle cx="72.10" cy="50.20" r="1.6" fill="#66c2a5" stroke="#ffffff" stroke-width="0.3" stroke-opacity="0.6"/>
<circle cx="99.20" cy="62.70" r="1.6" fill="#66c2a5" stroke="#ffffff" stroke-width="0.3" stroke-opacity="0.6"/>
<circle cx="150.70" cy="103.40" r="1.6" fill="#fc8d62" stroke="#ffffff" stroke-width="0.3" stroke-opacity="0.6"/>
<circle cx="116.75" cy="61.48" r="1.6" fill="#66c2a5" stroke="#ffffff" stroke-width="0.3" stroke-opacity="0.6"/>
<circle cx="100.86" cy="76.16" r="1.6" fill="#66c2a5" stroke="#ffffff" stroke-width="0.3" stroke-opacity="0.6"/>
<circle cx="70.00" cy="35.60" r="1.6" fill="#66c2a5" stroke="#ffffff" stroke-width="0.3" stroke-opacity="0.6"/>
<circle cx="112.82" cy="77.65" r="1.6" fill="#66c2a5" stroke="#ffffff" stroke-width="0.3" stroke-opacity="0.6"/>
<circle cx="139.50" cy="92.30" r="1.6" fill="#66c2a5" stroke="#ffffff" stroke-width="0.3" stroke-opacity="0.6"/>
<circle cx="120.70" cy="62.70" r="1.6" fill="#66c2a5" stroke="#ffffff" stroke-width="0.3" stroke-opacity="0.6"/>
<circle cx="116.81" cy="59.43" r="1.6" fill="#66c2a5" stroke="#ffffff" stroke-width="0.3" stroke-opacity="0.6"/>
<circle cx="56.68" cy="29.36" r="1.6" fill="#66c2a5" stroke="#ffffff" stroke-width="0.3" stroke-opacity="0.6"/>
<circle cx="112.22" cy="59.27" r="1.6" fill="#66c2a5" stroke="#ffffff" stroke-width="0.3" stroke-opacity="0.6"/>
<circle cx="89.50" cy="60.40" r="1.6" fill="#66c2a5" stroke="#ffffff" stroke-width="0.3" stroke-opacity="0.6"/>
<circle cx="128.40" cy="69.70" r="1.6" fill="#66c2a5" stroke="#ffffff" stroke-width="0.3" stroke-opacity="0.6"/>
<circle cx="104.00" cy="47.40" r="1.6" fill="#66c2a5" stroke="#ffffff" stroke-width="0.3" stroke-opacity="0.6"/>
<circle cx="143.70" cy="110.30" r="1.6" fill="#fc8d62" stroke="#ffffff" stroke-width="0.3" stroke-opacity="0.6"/>
<circle cx="95.70" cy="39.70" r="1.6" fill="#66c2a5" stroke="#ffffff" stroke-width="0.3" stroke-opacity="0.6"/>
<circle cx="69.30" cy="54.30" r="1.6" fill="#66c2a5" stroke="#ffffff" stroke-width="0.3" stroke-opacity="0.6"/>
<circle cx="135.30" cy="104.80" r="1.6" fill="#fc8d62" stroke="#ffffff" stroke-width="0.3" stroke-opacity="0.6"/>
<circle cx="88.80" cy="39.70" r="1.6" fill="#66c2a5" stroke="#ffffff" stroke-width="0.3" stroke-opacity="0.6"/>
<circle cx="85.30" cy="63.20" r="1.6" fill="#66c2a5" stroke="#ffffff" stroke-width="0.3" stroke-opacity="0.6"/>
<circle cx="120.94" cy="56.90" r="1.6" fill="#66c2a5" stroke="#ffffff" stroke-width="0.3" stroke-opacity="0.6"/>
<circle cx="136.00" cy="111.00" r="1.6" fill="#fc8d62" stroke="#ffffff" stroke-width="0.3" stroke-opacity="0.6"/>
<circle cx="142.55" cy="124.00" r="1.6" fill="#fc8d62" stroke="#ffffff" stroke-width="0.3" stroke-opacity="0.6"/>
<circle cx="105.91" cy="66.14" r="1.6" fill="#66c2a5" stroke="#ffffff" stroke-width="0.3" stroke-opacity="0.6"/>
<circle cx="97.35" cy="70.23" r="1.6" fill="#66c2a5" stroke="#ffffff" stroke-width="0.3" stroke-opacity="0.6"/>
<circle cx="141.30" cy="108.10" r="1.6" fill="#fc8d62" stroke="#ffffff" stroke-width="0.3" stroke-opacity="0.6"/>
<circle cx="61.00" cy="41.80" r="1.6" fill="#66c2a5" stroke="#ffffff" stroke-width="0.3" stroke-opacity="0.6"/>
<circle cx="135.30" cy="93.00" r="1.6" fill="#66c2a5" stroke="#ffffff" stroke-width="0.3" stroke-opacity="0.6"/>
<circle cx="142.55" cy="107.47" r="1.6" fill="#fc8d62" stroke="#ffffff" stroke-width="0.3" stroke-opacity="0.6"/>
<circle cx="145.50" cy="133.90" r="1.6" fill="#fc8d62" stroke="#ffffff" stroke-width="0.3" stroke-opacity="0.6"/>
<circle cx="144.10" cy="121.30" r="1.6" fill="#fc8d62" stroke="#ffffff" stroke-width="0.3" stroke-opacity="0.6"/>
<circle cx="114.50" cy="65.50" r="1.6" fill="#66c2a5" stroke="#ffffff" stroke-width="0.3" stroke-opacity="0.6"/>
<circle cx="111.00" cy="67.80" r="1.6" fill="#66c2a5" stroke="#ffffff" stroke-width="0.3" stroke-opacity="0.6"/>
<circle cx="97.74" cy="69.18" r="1.6" fill="#66c2a5" stroke="#ffffff" stroke-width="0.3" stroke-opacity="0.6"/>
<circle cx="118.70" cy="81.10" r="1.6" fill="#66c2a5" stroke="#ffffff" stroke-width="0.3" stroke-opacity="0.6"/>
<circle cx="97.80" cy="91.70" r="1.6" fill="#66c2a5" stroke="#ffffff" stroke-width="0.3" stroke-opacity="0.6"/>
<circle cx="43.80" cy="20.30" r="1.6" fill="#66c2a5" stroke="#ffffff" stroke-width="0.3" stroke-opacity="0.6"/>
<circle cx="135.76" cy="94.06" r="1.6" fill="#fc8d62" stroke="#ffffff" stroke-width="0.3" stroke-opacity="0.6"/>
<circle cx="95.00" cy="58.50" r="1.6" fill="#66c2a5" stroke="#ffffff" stroke-width="0.3" stroke-opacity="0.6"/>
<circle cx="99.90" cy="73.70" r="1.6" fill="#66c2a5" stroke="#ffffff" stroke-width="0.3" stroke-opacity="0.6"/>
<circle cx="141.60" cy="92.30" r="1.6" fill="#66c2a5" stroke="#ffffff" stroke-width="0.3" stroke-opacity="0.6"/>
<circle cx="120.00" cy="86.00" r="1.6" fill="#66c2a5" stroke="#ffffff" stroke-width="0.3" stroke-opacity="0.6"/>
<circle cx="105.32" cy="56.94" r="1.6" fill="#66c2a5" stroke="#ffffff" stroke-width="0.3" stroke-opacity="0.6"/>
<circle cx="140.90" cy="113.10" r="1.6" fill="#fc8d62" stroke="#ffffff" stroke-width="0.3" stroke-opacity="0.6"/>
<circle cx="77.70" cy="71.60" r="1.6" fill="#66c2a5" stroke="#ffffff" stroke-width="0.3" stroke-opacity="0.6"/>
<circle cx="105.41" cy="68.63" r="1.6" fill="#66c2a5" stroke="#ffffff" stroke-width="0.3" stroke-opacity="0.6"/>
<circle cx="141.60" cy="96.40" r="1.6" fill="#fc8d62" stroke="#ffffff" stroke-width="0.3" stroke-opacity="0.6"/>
<circle cx="118.20" cy="78.70" r="1.6" fill="#66c2a5" stroke="#ffffff" stroke-width="0.3" stroke-opacity="0.6"/>
<circle cx="64.66" cy="31.54" r="1.6" fill="#66c2a5" stroke="#ffffff" stroke-width="0.3" stroke-opacity="0.6"/>
<circle cx="47.00" cy="23.50" r="1.6" fill="#66c2a5" stroke="#ffffff" stroke-width="0.3" stroke-opacity="0.6"/>
<circle cx="103.30" cy="53.70" r="1.6" fill="#66c2a5" stroke="#ffffff" stroke-width="0.3" stroke-opacity="0.6"/>
<circle cx="66.50" cy="34.60" r="1.6" fill="#66c2a5" stroke="#ffffff" stroke-width="0.3" stroke-opacity="0.6"/>
<circle cx="105.96" cy="71.97" r="1.6" fill="#66c2a5" stroke="#ffffff" stroke-width="0.3" stroke-opacity="0.6"/>
<circle cx="144.10" cy="118.60" r="1.6" fill="#fc8d62" stroke="#ffffff" stroke-width="0.3" stroke-opacity="0.6"/>
<circle cx="84.20" cy="36.81" r="1.6" fill="#66c2a5" stroke="#ffffff" stroke-width="0.3" stroke-opacity="0.6"/>
<circle cx="137.29" cy="105.30" r="1.6" fill="#fc8d62" stroke="#ffffff" stroke-width="0.3" stroke-opacity="0.6"/>
<circle cx="150.00" cy="79.70" r="1.6" fill="#66c2a5" stroke="#ffffff" stroke-width="0.3" stroke-opacity="0.6"/>
<circle cx="81.10" cy="57.80" r="1.6" fill="#66c2a5" stroke="#ffffff" stroke-width="0.3" stroke-opacity="0.6"/>
<circle cx="95.70" cy="63.90" r="1.6" fill="#66c2a5" stroke="#ffffff" stroke-width="0.3" stroke-opacity="0.6"/>
<circle cx="80.87" cy="36.21" r="1.6" fill="#66c2a5" stroke="#ffffff" stroke-width="0.3" stroke-opacity="0.6"/>
<circle cx="131.60" cy="99.23" r="1.6" fill="#fc8d62" stroke="#ffffff" stroke-width="0.3" stroke-opacity="0.6"/>
<circle cx="93.04" cy="74.25" r="1.6" fill="#66c2a5" stroke="#ffffff" stroke-width="0.3" stroke-opacity="0.6"/>
<circle cx="102.70" cy="43.90" r="1.6" fill="#66c2a5" stroke="#ffffff" stroke-width="0.3" stroke-opacity="0.6"/>
<circle cx="140.20" cy="83.90" r="1.6" fill="#66c2a5" stroke="#ffffff" stroke-width="0.3" stroke-opacity="0.6"/>
<circle cx="99.20" cy="54.90" r="1.6" fill="#66c2a5" stroke="#ffffff" stroke-width="0.3" stroke-opacity="0.6"/>
<circle cx="89.64" cy="50.84" r="1.6" fill="#66c2a5" stroke="#ffffff" stroke-width="0.3" stroke-opacity="0.6"/>
<circle cx="118.00" cy="46.00" r="1.6" fill="#66c2a5" stroke="#ffffff" stroke-width="0.3" stroke-opacity="0.6"/>
<circle cx="83.20" cy="44.60" r="1.6" fill="#66c2a5" stroke="#ffffff" stroke-width="0.3" stroke-opacity="0.6"/>
<circle cx="96.07" cy="65.42" r="1.6" fill="#66c2a5" stroke="#ffffff" stroke-width="0.3" stroke-opacity="0.6"/>
<circle cx="138.78" cy="106.25" r="1.6" fill="#fc8d62" stroke="#ffffff" stroke-width="0.3" stroke-opacity="0.6"/>
<circle cx="142.70" cy="108.88" r="1.6" fill="#fc8d62" stroke="#ffffff" stroke-width="0.3" stroke-opacity="0.6"/>
<circle cx="97.10" cy="65.50" r="1.6" fill="#66c2a5" stroke="#ffffff" stroke-width="0.3" stroke-opacity="0.6"/>
<circle cx="103.07" cy="76.27" r="1.6" fill="#66c2a5" stroke="#ffffff" stroke-width="0.3" stroke-opacity="0.6"/>
<circle cx="139.90" cy="118.60" r="1.6" fill="#fc8d62" stroke="#ffffff" stroke-width="0.3" stroke-opacity="0.6"/>
<circle cx="99.77" cy="61.97" r="1.6" fill="#66c2a5" stroke="#ffffff" stroke-width="0.3" stroke-opacity="0.6"/>
<circle cx="66.97" cy="31.60" r="1.6" fill="#66c2a5" stroke="#ffffff" stroke-width="0.3" stroke-opacity="0.6"/>
<circle cx="135.18" cy="105.86" r="1.6" fill="#fc8d62" stroke="#ffffff" stroke-width="0.3" stroke-opacity="0.6"/>
<circle cx="114.48" cy="64.97" r="1.6" fill="#66c2a5" stroke="#ffffff" stroke-width="0.3" stroke-opacity="0.6"/>
<circle cx="129.50" cy="98.40" r="1.6" fill="#fc8d62" stroke="#ffffff" stroke-width="0.3" stroke-opacity="0.6"/>
<circle cx="58.20" cy="27.20" r="1.6" fill="#66c2a5" stroke="#ffffff" stroke-width="0.3" stroke-opacity="0.6"/>
<circle cx="136.07" cy="103.63" r="1.6" fill="#fc8d62" stroke="#ffffff" stroke-width="0.3" stroke-opacity="0.6"/>
<circle cx="78.30" cy="51.60" r="1.6" fill="#66c2a5" stroke="#ffffff" stroke-width="0.3" stroke-opacity="0.6"/>
<circle cx="93.00" cy="73.70" r="1.6" fill="#66c2a5" stroke="#ffffff" stroke-width="0.3" stroke-opacity="0.6"/>
<circle cx="119.30" cy="67.60" r="1.6" fill="#66c2a5" stroke="#ffffff" stroke-width="0.3" stroke-opacity="0.6"/>
<circle cx="81.85" cy="72.88" r="1.6" fill="#66c2a5" stroke="#ffffff" stroke-width="0.3" stroke-opacity="0.6"/>
<circle cx="91.60" cy="55.00" r="1.6" fill="#66c2a5" stroke="#ffffff" stroke-width="0.3" stroke-opacity="0.6"/>
<circle cx="156.90" cy="106.90" r="1.6" fill="#fc8d62" stroke="#ffffff" stroke-width="0.3" stroke-opacity="0.6"/>
<circle cx="83.52" cy="60.18" r="1.6" fill="#66c2a5" stroke="#ffffff" stroke-width="0.3" stroke-opacity="0.6"/>
<circle cx="87.18" cy="71.92" r="1.6" fill="#66c2a5" stroke="#ffffff" stroke-width="0.3" stroke-opacity="0.6"/>
<circle cx="96.40" cy="67.40" r="1.6" fill="#66c2a5" stroke="#ffffff" stroke-width="0.3" stroke-opacity="0.6"/>
<circle cx="96.81" cy="47.19" r="1.6" fill="#66c2a5" stroke="#ffffff" stroke-width="0.3" stroke-opacity="0.6"/>
<circle cx="136.70" cy="106.90" r="1.6" fill="#fc8d62" stroke="#ffffff" stroke-width="0.3" stroke-opacity="0.6"/>
<circle cx="83.20" cy="68.10" r="1.6" fill="#66c2a5" stroke="#ffffff" stroke-width="0.3" stroke-opacity="0.6"/>
<circle cx="61.18" cy="30.44" r="1.6" fill="#66c2a5" stroke="#ffffff" stroke-width="0.3" stroke-opacity="0.6"/>
<circle cx="115.23" cy="78.58" r="1.6" fill="#66c2a5" stroke="#ffffff" stroke-width="0.3" stroke-opacity="0.6"/>
<circle cx="102.70" cy="69.00" r="1.6" fill="#66c2a5" stroke="#ffffff" stroke-width="0.3" stroke-opacity="0.6"/>
<circle cx="144.80" cy="131.80" r="1.6" fill="#fc8d62" stroke="#ffffff" stroke-width="0.3" stroke-opacity="0.6"/>
<circle cx="99.20" cy="50.20" r="1.6" fill="#66c2a5" stroke="#ffffff" stroke-width="0.3" stroke-opacity="0.6"/>
<circle cx="114.63" cy="76.30" r="1.6" fill="#66c2a5" stroke="#ffffff" stroke-width="0.3" stroke-opacity="0.6"/>
<circle cx="93.00" cy="59.00" r="1.6" fill="#66c2a5" stroke="#ffffff" stroke-width="0.3" stroke-opacity="0.6"/>
<circle cx="87.85" cy="63.18" r="1.6" fill="#66c2a5" stroke="#ffffff" stroke-width="0.3" stroke-opacity="0.6"/>
<circle cx="59.60" cy="39.70" r="1.6" fill="#66c2a5" stroke="#ffffff" stroke-width="0.3" stroke-opacity="0.6"/>
<circle cx="97.99" cy="70.04" r="1.6" fill="#66c2a5" stroke="#ffffff" stroke-width="0.3" stroke-opacity="0.6"/>
<circle cx="51.20" cy="26.50" r="1.6" fill="#66c2a5" stroke="#ffffff" stroke-width="0.3" stroke-opacity="0.6"/>
<circle cx="105.40" cy="43.90" r="1.6" fill="#66c2a5" stroke="#ffffff" stroke-width="0.3" stroke-opacity="0.6"/>
<circle cx="93.09" cy="75.28" r="1.6" fill="#66c2a5" stroke="#ffffff" stroke-width="0.3" stroke-opacity="0.6"/>
<circle cx="106.88" cy="68.00" r="1.6" fill="#66c2a5" stroke="#ffffff" stroke-width="0.3" stroke-opacity="0.6"/>
<circle cx="79.70" cy="73.00" r="1.6" fill="#66c2a5" stroke="#ffffff" stroke-width="0.3" stroke-opacity="0.6"/>
<circle cx="131.20" cy="97.80" r="1.6" fill="#fc8d62" stroke="#ffffff" stroke-width="0.3" stroke-opacity="0.6"/>
<circle cx="142.30" cy="106.90" r="1.6" fill="#fc8d62" stroke="#ffffff" stroke-width="0.3" stroke-opacity="0.6"/>
<circle cx="122.28" cy="58.14" r="1.6" fill="#66c2a5" stroke="#ffffff" stroke-width="0.3" stroke-opacity="0.6"/>
<circle cx="70.70" cy="50.70" r="1.6" fill="#66c2a5" stroke="#ffffff" stroke-width="0.3" stroke-opacity="0.6"/>
<circle cx="120.00" cy="74.20" r="1.6" fill="#66c2a5" stroke="#ffffff" stroke-width="0.3" stroke-opacity="0.6"/>
<circle cx="124.90" cy="48.10" r="1.6" fill="#66c2a5" stroke="#ffffff" stroke-width="0.3" stroke-opacity="0.6"/>
<circle cx="98.72" cy="72.04" r="1.6" fill="#66c2a5" stroke="#ffffff" stroke-width="0.3" stroke-opacity="0.6"/>
<circle cx="141.25" cy="121.96" r="1.6" fill="#fc8d62" stroke="#ffffff" stroke-width="0.3" stroke-opacity="0.6"/>
<circle cx="117.30" cy="66.20" r="1.6" fill="#66c2a5" stroke="#ffffff" stroke-width="0.3" stroke-opacity="0.6"/>
<circle cx="121.83" cy="69.55" r="1.6" fill="#66c2a5" stroke="#ffffff" stroke-width="0.3" stroke-opacity="0.6"/>
<circle cx="97.91" cy="72.04" r="1.6" fill="#66c2a5" stroke="#ffffff" stroke-width="0.3" stroke-opacity="0.6"/>
<circle cx="80.36" cy="73.39" r="1.6" fill="#66c2a5" stroke="#ffffff" stroke-width="0.3" stroke-opacity="0.6"/>
<circle cx="87.40" cy="41.10" r="1.6" fill="#66c2a5" stroke="#ffffff" stroke-width="0.3" stroke-opacity="0.6"/>
<circle cx="146.50" cy="108.30" r="1.6" fill="#fc8d62" stroke="#ffffff" stroke-width="0.3" stroke-opacity="0.6"/>
<circle cx="99.90" cy="67.40" r="1.6" fill="#66c2a5" stroke="#ffffff" stroke-width="0.3" stroke-opacity="0.6"/>
<circle cx="124.20" cy="93.70" r="1.6" fill="#fc8d62" stroke="#ffffff" stroke-width="0.3" stroke-opacity="0.6"/>
<circle cx="93.52" cy="56.97" r="1.6" fill="#66c2a5" stroke="#ffffff" stroke-width="0.3" stroke-opacity="0.6"/>
<circle cx="71.40" cy="47.40" r="1.6" fill="#66c2a5" stroke="#ffffff" stroke-width="0.3" stroke-opacity="0.6"/>
<circle cx="96.10" cy="73.07" r="1.6" fill="#66c2a5" stroke="#ffffff" stroke-width="0.3" stroke-opacity="0.6"/>
<circle cx="58.25" cy="29.84" r="1.6" fill="#66c2a5" stroke="#ffffff" stroke-width="0.3" stroke-opacity="0.6"/>
<circle cx="122.58" cy="64.46" r="1.6" fill="#66c2a5" stroke="#ffffff" stroke-width="0.3" stroke-opacity="0.6"/>
<circle cx="116.33" cy="68.58" r="1.6" fill="#66c2a5" stroke="#ffffff" stroke-width="0.3" stroke-opacity="0.6"/>
<circle cx="143.70" cy="104.10" r="1.6" fill="#fc8d62" stroke="#ffffff" stroke-width="0.3" stroke-opacity="0.6"/>
<circle cx="110.30" cy="74.50" r="1.6" fill="#66c2a5" stroke="#ffffff" stroke-width="0.3" stroke-opacity="0.6"/>
<circle cx="102.00" cy="64.80" r="1.6" fill="#66c2a5" stroke="#ffffff" stroke-width="0.3" stroke-opacity="0.6"/>
<circle cx="150.00" cy="106.90" r="1.6" fill="#fc8d62" stroke="#ffffff" stroke-width="0.3" stroke-opacity="0.6"/>
<circle cx="136.70" cy="94.30" r="1.6" fill="#fc8d62" stroke="#ffffff" stroke-width="0.3" stroke-opacity="0.6"/>
<circle cx="103.30" cy="75.90" r="1.6" fill="#66c2a5" stroke="#ffffff" stroke-width="0.3" stroke-opacity="0.6"/>
<circle cx="86.00" cy="59.70" r="1.6" fill="#66c2a5" stroke="#ffffff" stroke-width="0.3" stroke-opacity="0.6"/>
<circle cx="140.14" cy="122.49" r="1.6" fill="#fc8d62" stroke="#ffffff" stroke-width="0.3" stroke-opacity="0.6"/>
<circle cx="72.10" cy="44.60" r="1.6" fill="#66c2a5" stroke="#ffffff" stroke-width="0.3" stroke-opacity="0.6"/>
<circle cx="129.77" cy="102.44" r="1.6" fill="#fc8d62" stroke="#ffffff" stroke-width="0.3" stroke-opacity="0.6"/>
<circle cx="147.90" cy="77.30" r="1.6" fill="#66c2a5" stroke="#ffffff" stroke-width="0.3" stroke-opacity="0.6"/>
<circle cx="87.39" cy="66.19" r="1.6" fill="#66c2a5" stroke="#ffffff" stroke-width="0.3" stroke-opacity="0.6"/>
<circle cx="139.50" cy="103.40" r="1.6" fill="#fc8d62" stroke="#ffffff" stroke-width="0.3" stroke-opacity="0.6"/>
<rect x="38.60" y="14.80" width="125.90" height="124.60" fill="none" stroke="#8c8c8c" stroke-width="0.8"/>
<line x1="38.70" y1="139.40" x2="38.70" y2="141.40" stroke="#8c8c8c" stroke-width="0.8"/>
<text x="38.70" y="152.30" font-size="10.8" text-anchor="middle" font-weight="normal" >-15</text>
<line x1="64.40" y1="139.40" x2="64.40" y2="141.40" stroke="#8c8c8c" stroke-width="0.8"/>
<text x="64.40" y="152.30" font-size="10.8" text-anchor="middle" font-weight="normal" >-10</text>
<line x1="90.10" y1="139.40" x2="90.10" y2="141.40" stroke="#8c8c8c" stroke-width="0.8"/>
<text x="90.10" y="152.30" font-size="10.8" text-anchor="middle" font-weight="normal" >-5</text>
<line x1="115.80" y1="139.40" x2="115.80" y2="141.40" stroke="#8c8c8c" stroke-width="0.8"/>
<text x="115.80" y="152.30" font-size="10.8" text-anchor="middle" font-weight="normal" >0</text>
<line x1="141.50" y1="139.40" x2="141.50" y2="141.40" stroke="#8c8c8c" stroke-width="0.8"/>
<text x="141.50" y="152.30" font-size="10.8" text-anchor="middle" font-weight="normal" >5</text>
<line x1="36.60" y1="22.76" x2="38.60" y2="22.76" stroke="#8c8c8c" stroke-width="0.8"/>
<text x="32.80" y="26.26" font-size="10.8" text-anchor="end" font-weight="normal" >20</text>
<line x1="36.60" y1="38.25" x2="38.60" y2="38.25" stroke="#8c8c8c" stroke-width="0.8"/>
<text x="32.80" y="41.75" font-size="10.8" text-anchor="end" font-weight="normal" >15</text>
<line x1="36.60" y1="53.73" x2="38.60" y2="53.73" stroke="#8c8c8c" stroke-width="0.8"/>
<text x="32.80" y="57.23" font-size="10.8" text-anchor="end" font-weight="normal" >10</text>
<line x1="36.60" y1="69.22" x2="38.60" y2="69.22" stroke="#8c8c8c" stroke-width="0.8"/>
<text x="32.80" y="72.72" font-size="10.8" text-anchor="end" font-weight="normal" >5</text>
<line x1="36.60" y1="84.70" x2="38.60" y2="84.70" stroke="#8c8c8c" stroke-width="0.8"/>
<text x="32.80" y="88.20" font-size="10.8" text-anchor="end" font-weight="normal" >0</text>
<line x1="36.60" y1="100.19" x2="38.60" y2="100.19" stroke="#8c8c8c" stroke-width="0.8"/>
<text x="32.80" y="103.69" font-size="10.8" text-anchor="end" font-weight="normal" >-5</text>
<line x1="36.60" y1="115.67" x2="38.60" y2="115.67" stroke="#8c8c8c" stroke-width="0.8"/>
<text x="32.80" y="119.17" font-size="10.8" text-anchor="end" font-weight="normal" >-10</text>
<line x1="36.60" y1="131.16" x2="38.60" y2="131.16" stroke="#8c8c8c" stroke-width="0.8"/>
<text x="32.80" y="134.66" font-size="10.8" text-anchor="end" font-weight="normal" >-15</text>
<text x="99.20" y="166.80" font-size="10.5" text-anchor="middle" font-weight="normal" >MDS1</text>
<text transform="translate(11.7,75.3) rotate(-90)" font-size="10.9" text-anchor="middle">MDS2</text>
<circle cx="45.4" cy="115.2" r="2.5" fill="#66c2a5"/>
<circle cx="45.4" cy="130.1" r="2.5" fill="#fc8d62"/>
<text x="50.40" y="119.00" font-size="10.75" text-anchor="start" font-weight="normal" >Cluster 0</text>
<text x="50.40" y="133.90" font-size="10.75" text-anchor="start" font-weight="normal" >Cluster 1</text>
<circle cx="102.25" cy="250.77" r="1.6" fill="#fc8d62" stroke="#ffffff" stroke-width="0.3" stroke-opacity="0.6"/>
<circle cx="97.65" cy="249.92" r="1.6" fill="#fc8d62" stroke="#ffffff" stroke-width="0.3" stroke-opacity="0.6"/>
<circle cx="138.63" cy="265.68" r="1.6" fill="#66c2a5" stroke="#ffffff" stroke-width="0.3" stroke-opacity="0.6"/>
<circle cx="107.24" cy="218.42" r="1.6" fill="#8da0cb" stroke="#ffffff" stroke-width="0.3" stroke-opacity="0.6"/>
<circle cx="99.03" cy="241.61" r="1.6" fill="#fc8d62" stroke="#ffffff" stroke-width="0.3" stroke-opacity="0.6"/>
<circle cx="144.79" cy="296.11" r="1.6" fill="#66c2a5" stroke="#ffffff" stroke-width="0.3" stroke-opacity="0.6"/>
<circle cx="117.62" cy="228.24" r="1.6" fill="#8da0cb" stroke="#ffffff" stroke-width="0.3" stroke-opacity="0.6"/>
<circle cx="154.68" cy="253.26" r="1.6" fill="#fc8d62" stroke="#ffffff" stroke-width="0.3" stroke-opacity="0.6"/>
<circle cx="92.22" cy="210.62" r="1.6" fill="#e78ac3" stroke="#ffffff" stroke-width="0.3" stroke-opacity="0.6"/>
<circle cx="105.26" cy="236.04" r="1.6" fill="#8da0cb" stroke="#ffffff" stroke-width="0.3" stroke-opacity="0.6"/>
<circle cx="146.87" cy="293.27" r="1.6" fill="#66c2a5" stroke="#ffffff" stroke-width="0.3" stroke-opacity="0.6"/>
<circle cx="85.30" cy="233.00" r="1.6" fill="#8da0cb" stroke="#ffffff" stroke-width="0.3" stroke-opacity="0.6"/>
<circle cx="92.22" cy="235.13" r="1.6" fill="#8da0cb" stroke="#ffffff" stroke-width="0.3" stroke-opacity="0.6"/>
<circle cx="70.18" cy="205.45" r="1.6" fill="#e78ac3" stroke="#ffffff" stroke-width="0.3" stroke-opacity="0.6"/>
<circle cx="92.91" cy="231.59" r="1.6" fill="#8da0cb" stroke="#ffffff" stroke-width="0.3" stroke-opacity="0.6"/>
<circle cx="101.22" cy="243.38" r="1.6" fill="#fc8d62" stroke="#ffffff" stroke-width="0.3" stroke-opacity="0.6"/>
<circle cx="104.25" cy="220.72" r="1.6" fill="#8da0cb" stroke="#ffffff" stroke-width="0.3" stroke-opacity="0.6"/>
<circle cx="68.36" cy="202.35" r="1.6" fill="#e78ac3" stroke="#ffffff" stroke-width="0.3" stroke-opacity="0.6"/>
<circle cx="80.55" cy="212.75" r="1.6" fill="#e78ac3" stroke="#ffffff" stroke-width="0.3" stroke-opacity="0.6"/>
<circle cx="146.87" cy="301.07" r="1.6" fill="#66c2a5" stroke="#ffffff" stroke-width="0.3" stroke-opacity="0.6"/>
<circle cx="85.99" cy="245.67" r="1.6" fill="#fc8d62" stroke="#ffffff" stroke-width="0.3" stroke-opacity="0.6"/>
<circle cx="97.54" cy="220.27" r="1.6" fill="#8da0cb" stroke="#ffffff" stroke-width="0.3" stroke-opacity="0.6"/>
<circle cx="122.42" cy="233.41" r="1.6" fill="#8da0cb" stroke="#ffffff" stroke-width="0.3" stroke-opacity="0.6"/>
<circle cx="116.92" cy="213.45" r="1.6" fill="#8da0cb" stroke="#ffffff" stroke-width="0.3" stroke-opacity="0.6"/>
<circle cx="116.23" cy="251.84" r="1.6" fill="#fc8d62" stroke="#ffffff" stroke-width="0.3" stroke-opacity="0.6"/>
<circle cx="75.02" cy="207.88" r="1.6" fill="#e78ac3" stroke="#ffffff" stroke-width="0.3" stroke-opacity="0.6"/>
<circle cx="143.02" cy="255.39" r="1.6" fill="#fc8d62" stroke="#ffffff" stroke-width="0.3" stroke-opacity="0.6"/>
<circle cx="130.66" cy="269.47" r="1.6" fill="#66c2a5" stroke="#ffffff" stroke-width="0.3" stroke-opacity="0.6"/>
<circle cx="105.14" cy="219.47" r="1.6" fill="#8da0cb" stroke="#ffffff" stroke-width="0.3" stroke-opacity="0.6"/>
<circle cx="144.16" cy="282.87" r="1.6" fill="#66c2a5" stroke="#ffffff" stroke-width="0.3" stroke-opacity="0.6"/>
<circle cx="132.44" cy="270.08" r="1.6" fill="#66c2a5" stroke="#ffffff" stroke-width="0.3" stroke-opacity="0.6"/>
<circle cx="81.24" cy="242.93" r="1.6" fill="#8da0cb" stroke="#ffffff" stroke-width="0.3" stroke-opacity="0.6"/>
<circle cx="131.35" cy="267.34" r="1.6" fill="#fc8d62" stroke="#ffffff" stroke-width="0.3" stroke-opacity="0.6"/>
<circle cx="152.70" cy="271.60" r="1.6" fill="#66c2a5" stroke="#ffffff" stroke-width="0.3" stroke-opacity="0.6"/>
<circle cx="123.71" cy="256.69" r="1.6" fill="#fc8d62" stroke="#ffffff" stroke-width="0.3" stroke-opacity="0.6"/>
<circle cx="92.97" cy="234.51" r="1.6" fill="#8da0cb" stroke="#ffffff" stroke-width="0.3" stroke-opacity="0.6"/>
<circle cx="94.94" cy="215.75" r="1.6" fill="#e78ac3" stroke="#ffffff" stroke-width="0.3" stroke-opacity="0.6"/>
<circle cx="83.87" cy="244.74" r="1.6" fill="#8da0cb" stroke="#ffffff" stroke-width="0.3" stroke-opacity="0.6"/>
<circle cx="112.08" cy="215.99" r="1.6" fill="#8da0cb" stroke="#ffffff" stroke-width="0.3" stroke-opacity="0.6"/>
<circle cx="144.10" cy="293.27" r="1.6" fill="#66c2a5" stroke="#ffffff" stroke-width="0.3" stroke-opacity="0.6"/>
<circle cx="103.19" cy="245.06" r="1.6" fill="#fc8d62" stroke="#ffffff" stroke-width="0.3" stroke-opacity="0.6"/>
<circle cx="149.64" cy="289.83" r="1.6" fill="#66c2a5" stroke="#ffffff" stroke-width="0.3" stroke-opacity="0.6"/>
<circle cx="50.90" cy="194.21" r="1.6" fill="#e78ac3" stroke="#ffffff" stroke-width="0.3" stroke-opacity="0.6"/>
<circle cx="90.14" cy="229.66" r="1.6" fill="#8da0cb" stroke="#ffffff" stroke-width="0.3" stroke-opacity="0.6"/>
<circle cx="101.74" cy="245.18" r="1.6" fill="#fc8d62" stroke="#ffffff" stroke-width="0.3" stroke-opacity="0.6"/>
<circle cx="104.24" cy="245.22" r="1.6" fill="#fc8d62" stroke="#ffffff" stroke-width="0.3" stroke-opacity="0.6"/>
<circle cx="97.55" cy="243.70" r="1.6" fill="#fc8d62" stroke="#ffffff" stroke-width="0.3" stroke-opacity="0.6"/>
<circle cx="84.38" cy="207.08" r="1.6" fill="#e78ac3" stroke="#ffffff" stroke-width="0.3" stroke-opacity="0.6"/>
<circle cx="61.97" cy="197.96" r="1.6" fill="#e78ac3" stroke="#ffffff" stroke-width="0.3" stroke-opacity="0.6"/>
<circle cx="86.14" cy="227.06" r="1.6" fill="#8da0cb" stroke="#ffffff" stroke-width="0.3" stroke-opacity="0.6"/>
<circle cx="141.63" cy="287.80" r="1.6" fill="#66c2a5" stroke="#ffffff" stroke-width="0.3" stroke-opacity="0.6"/>
<circle cx="100.42" cy="213.45" r="1.6" fill="#e78ac3" stroke="#ffffff" stroke-width="0.3" stroke-opacity="0.6"/>
<circle cx="125.13" cy="247.29" r="1.6" fill="#fc8d62" stroke="#ffffff" stroke-width="0.3" stroke-opacity="0.6"/>
<circle cx="109.11" cy="226.05" r="1.6" fill="#8da0cb" stroke="#ffffff" stroke-width="0.3" stroke-opacity="0.6"/>
<circle cx="128.59" cy="263.90" r="1.6" fill="#fc8d62" stroke="#ffffff" stroke-width="0.3" stroke-opacity="0.6"/>
<circle cx="112.90" cy="235.90" r="1.6" fill="#8da0cb" stroke="#ffffff" stroke-width="0.3" stroke-opacity="0.6"/>
<circle cx="94.29" cy="242.22" r="1.6" fill="#fc8d62" stroke="#ffffff" stroke-width="0.3" stroke-opacity="0.6"/>
<circle cx="108.41" cy="242.99" r="1.6" fill="#fc8d62" stroke="#ffffff" stroke-width="0.3" stroke-opacity="0.6"/>
<circle cx="125.68" cy="220.44" r="1.6" fill="#8da0cb" stroke="#ffffff" stroke-width="0.3" stroke-opacity="0.6"/>
<circle cx="127.20" cy="265.32" r="1.6" fill="#fc8d62" stroke="#ffffff" stroke-width="0.3" stroke-opacity="0.6"/>
<circle cx="95.16" cy="231.92" r="1.6" fill="#8da0cb" stroke="#ffffff" stroke-width="0.3" stroke-opacity="0.6"/>
<circle cx="99.05" cy="243.68" r="1.6" fill="#fc8d62" stroke="#ffffff" stroke-width="0.3" stroke-opacity="0.6"/>
<circle cx="142.82" cy="277.07" r="1.6" fill="#66c2a5" stroke="#ffffff" stroke-width="0.3" stroke-opacity="0.6"/>
<circle cx="107.52" cy="242.07" r="1.6" fill="#fc8d62" stroke="#ffffff" stroke-width="0.3" stroke-opacity="0.6"/>
<circle cx="79.95" cy="244.14" r="1.6" fill="#8da0cb" stroke="#ffffff" stroke-width="0.3" stroke-opacity="0.6"/>
<circle cx="114.85" cy="228.24" r="1.6" fill="#8da0cb" stroke="#ffffff" stroke-width="0.3" stroke-opacity="0.6"/>
<circle cx="82.21" cy="205.90" r="1.6" fill="#e78ac3" stroke="#ffffff" stroke-width="0.3" stroke-opacity="0.6"/>
<circle cx="73.63" cy="214.16" r="1.6" fill="#e78ac3" stroke="#ffffff" stroke-width="0.3" stroke-opacity="0.6"/>
<circle cx="119.00" cy="231.08" r="1.6" fill="#8da0cb" stroke="#ffffff" stroke-width="0.3" stroke-opacity="0.6"/>
<circle cx="135.50" cy="272.31" r="1.6" fill="#66c2a5" stroke="#ffffff" stroke-width="0.3" stroke-opacity="0.6"/>
<circle cx="57.13" cy="206.47" r="1.6" fill="#e78ac3" stroke="#ffffff" stroke-width="0.3" stroke-opacity="0.6"/>
<circle cx="120.50" cy="239.10" r="1.6" fill="#8da0cb" stroke="#ffffff" stroke-width="0.3" stroke-opacity="0.6"/>
<circle cx="86.68" cy="239.39" r="1.6" fill="#8da0cb" stroke="#ffffff" stroke-width="0.3" stroke-opacity="0.6"/>
<circle cx="74.33" cy="232.09" r="1.6" fill="#8da0cb" stroke="#ffffff" stroke-width="0.3" stroke-opacity="0.6"/>
<circle cx="128.59" cy="231.08" r="1.6" fill="#8da0cb" stroke="#ffffff" stroke-width="0.3" stroke-opacity="0.6"/>
<circle cx="121.27" cy="250.12" r="1.6" fill="#fc8d62" stroke="#ffffff" stroke-width="0.3" stroke-opacity="0.6"/>
<circle cx="93.05" cy="221.90" r="1.6" fill="#8da0cb" stroke="#ffffff" stroke-width="0.3" stroke-opacity="0.6"/>
<circle cx="96.88" cy="228.11" r="1.6" fill="#8da0cb" stroke="#ffffff" stroke-width="0.3" stroke-opacity="0.6"/>
<circle cx="156.06" cy="271.60" r="1.6" fill="#66c2a5" stroke="#ffffff" stroke-width="0.3" stroke-opacity="0.6"/>
<circle cx="147.86" cy="287.80" r="1.6" fill="#66c2a5" stroke="#ffffff" stroke-width="0.3" stroke-opacity="0.6"/>
<circle cx="141.63" cy="252.55" r="1.6" fill="#fc8d62" stroke="#ffffff" stroke-width="0.3" stroke-opacity="0.6"/>
<circle cx="144.10" cy="279.90" r="1.6" fill="#66c2a5" stroke="#ffffff" stroke-width="0.3" stroke-opacity="0.6"/>
<circle cx="92.83" cy="237.17" r="1.6" fill="#8da0cb" stroke="#ffffff" stroke-width="0.3" stroke-opacity="0.6"/>
<circle cx="149.24" cy="280.10" r="1.6" fill="#66c2a5" stroke="#ffffff" stroke-width="0.3" stroke-opacity="0.6"/>
<circle cx="115.36" cy="230.44" r="1.6" fill="#8da0cb" stroke="#ffffff" stroke-width="0.3" stroke-opacity="0.6"/>
<circle cx="95.67" cy="235.84" r="1.6" fill="#8da0cb" stroke="#ffffff" stroke-width="0.3" stroke-opacity="0.6"/>
<circle cx="98.01" cy="209.70" r="1.6" fill="#e78ac3" stroke="#ffffff" stroke-width="0.3" stroke-opacity="0.6"/>
<circle cx="100.14" cy="218.20" r="1.6" fill="#8da0cb" stroke="#ffffff" stroke-width="0.3" stroke-opacity="0.6"/>
<circle cx="119.00" cy="215.58" r="1.6" fill="#8da0cb" stroke="#ffffff" stroke-width="0.3" stroke-opacity="0.6"/>
<circle cx="84.61" cy="228.95" r="1.6" fill="#8da0cb" stroke="#ffffff" stroke-width="0.3" stroke-opacity="0.6"/>
<circle cx="87.00" cy="231.36" r="1.6" fill="#8da0cb" stroke="#ffffff" stroke-width="0.3" stroke-opacity="0.6"/>
<circle cx="140.25" cy="268.76" r="1.6" fill="#66c2a5" stroke="#ffffff" stroke-width="0.3" stroke-opacity="0.6"/>
<circle cx="148.55" cy="277.27" r="1.6" fill="#66c2a5" stroke="#ffffff" stroke-width="0.3" stroke-opacity="0.6"/>
<circle cx="145.34" cy="279.26" r="1.6" fill="#66c2a5" stroke="#ffffff" stroke-width="0.3" stroke-opacity="0.6"/>
<circle cx="73.63" cy="206.47" r="1.6" fill="#e78ac3" stroke="#ffffff" stroke-width="0.3" stroke-opacity="0.6"/>
<circle cx="121.77" cy="252.55" r="1.6" fill="#fc8d62" stroke="#ffffff" stroke-width="0.3" stroke-opacity="0.6"/>
<circle cx="99.73" cy="238.68" r="1.6" fill="#8da0cb" stroke="#ffffff" stroke-width="0.3" stroke-opacity="0.6"/>
<circle cx="93.60" cy="219.84" r="1.6" fill="#8da0cb" stroke="#ffffff" stroke-width="0.3" stroke-opacity="0.6"/>
<circle cx="138.93" cy="275.38" r="1.6" fill="#66c2a5" stroke="#ffffff" stroke-width="0.3" stroke-opacity="0.6"/>
<circle cx="121.07" cy="227.53" r="1.6" fill="#8da0cb" stroke="#ffffff" stroke-width="0.3" stroke-opacity="0.6"/>
<circle cx="119.00" cy="245.16" r="1.6" fill="#fc8d62" stroke="#ffffff" stroke-width="0.3" stroke-opacity="0.6"/>
<circle cx="142.33" cy="266.82" r="1.6" fill="#66c2a5" stroke="#ffffff" stroke-width="0.3" stroke-opacity="0.6"/>
<circle cx="149.93" cy="283.55" r="1.6" fill="#66c2a5" stroke="#ffffff" stroke-width="0.3" stroke-opacity="0.6"/>
<circle cx="122.57" cy="238.10" r="1.6" fill="#8da0cb" stroke="#ffffff" stroke-width="0.3" stroke-opacity="0.6"/>
<circle cx="75.84" cy="205.81" r="1.6" fill="#e78ac3" stroke="#ffffff" stroke-width="0.3" stroke-opacity="0.6"/>
<circle cx="119.89" cy="230.60" r="1.6" fill="#8da0cb" stroke="#ffffff" stroke-width="0.3" stroke-opacity="0.6"/>
<circle cx="140.14" cy="277.07" r="1.6" fill="#66c2a5" stroke="#ffffff" stroke-width="0.3" stroke-opacity="0.6"/>
<circle cx="90.14" cy="219.13" r="1.6" fill="#e78ac3" stroke="#ffffff" stroke-width="0.3" stroke-opacity="0.6"/>
<circle cx="90.82" cy="237.46" r="1.6" fill="#8da0cb" stroke="#ffffff" stroke-width="0.3" stroke-opacity="0.6"/>
<circle cx="125.54" cy="260.60" r="1.6" fill="#fc8d62" stroke="#ffffff" stroke-width="0.3" stroke-opacity="0.6"/>
<circle cx="105.43" cy="244.17" r="1.6" fill="#fc8d62" stroke="#ffffff" stroke-width="0.3" stroke-opacity="0.6"/>
<circle cx="106.93" cy="217.98" r="1.6" fill="#8da0cb" stroke="#ffffff" stroke-width="0.3" stroke-opacity="0.6"/>
<circle cx="102.49" cy="226.02" r="1.6" fill="#8da0cb" stroke="#ffffff" stroke-width="0.3" stroke-opacity="0.6"/>
<circle cx="127.89" cy="219.13" r="1.6" fill="#8da0cb" stroke="#ffffff" stroke-width="0.3" stroke-opacity="0.6"/>
<circle cx="142.51" cy="285.74" r="1.6" fill="#66c2a5" stroke="#ffffff" stroke-width="0.3" stroke-opacity="0.6"/>
<circle cx="124.08" cy="255.02" r="1.6" fill="#fc8d62" stroke="#ffffff" stroke-width="0.3" stroke-opacity="0.6"/>
<circle cx="131.35" cy="241.01" r="1.6" fill="#fc8d62" stroke="#ffffff" stroke-width="0.3" stroke-opacity="0.6"/>
<circle cx="105.81" cy="225.83" r="1.6" fill="#8da0cb" stroke="#ffffff" stroke-width="0.3" stroke-opacity="0.6"/>
<circle cx="133.43" cy="266.63" r="1.6" fill="#fc8d62" stroke="#ffffff" stroke-width="0.3" stroke-opacity="0.6"/>
<circle cx="88.86" cy="241.39" r="1.6" fill="#fc8d62" stroke="#ffffff" stroke-width="0.3" stroke-opacity="0.6"/>
<circle cx="135.17" cy="272.89" r="1.6" fill="#66c2a5" stroke="#ffffff" stroke-width="0.3" stroke-opacity="0.6"/>
<circle cx="104.57" cy="243.03" r="1.6" fill="#fc8d62" stroke="#ffffff" stroke-width="0.3" stroke-opacity="0.6"/>
<circle cx="68.79" cy="212.75" r="1.6" fill="#e78ac3" stroke="#ffffff" stroke-width="0.3" stroke-opacity="0.6"/>
<circle cx="142.95" cy="294.48" r="1.6" fill="#66c2a5" stroke="#ffffff" stroke-width="0.3" stroke-opacity="0.6"/>
<circle cx="102.49" cy="249.21" r="1.6" fill="#fc8d62" stroke="#ffffff" stroke-width="0.3" stroke-opacity="0.6"/>
<circle cx="139.56" cy="265.92" r="1.6" fill="#66c2a5" stroke="#ffffff" stroke-width="0.3" stroke-opacity="0.6"/>
<circle cx="99.65" cy="240.20" r="1.6" fill="#8da0cb" stroke="#ffffff" stroke-width="0.3" stroke-opacity="0.6"/>
<circle cx="94.29" cy="213.45" r="1.6" fill="#e78ac3" stroke="#ffffff" stroke-width="0.3" stroke-opacity="0.6"/>
<circle cx="129.97" cy="230.37" r="1.6" fill="#8da0cb" stroke="#ffffff" stroke-width="0.3" stroke-opacity="0.6"/>
<circle cx="142.84" cy="278.26" r="1.6" fill="#66c2a5" stroke="#ffffff" stroke-width="0.3" stroke-opacity="0.6"/>
<circle cx="127.27" cy="221.21" r="1.6" fill="#8da0cb" stroke="#ffffff" stroke-width="0.3" stroke-opacity="0.6"/>
<circle cx="79.17" cy="221.96" r="1.6" fill="#e78ac3" stroke="#ffffff" stroke-width="0.3" stroke-opacity="0.6"/>
<circle cx="121.07" cy="219.13" r="1.6" fill="#8da0cb" stroke="#ffffff" stroke-width="0.3" stroke-opacity="0.6"/>
<circle cx="125.13" cy="258.23" r="1.6" fill="#fc8d62" stroke="#ffffff" stroke-width="0.3" stroke-opacity="0.6"/>
<circle cx="103.19" cy="238.68" r="1.6" fill="#8da0cb" stroke="#ffffff" stroke-width="0.3" stroke-opacity="0.6"/>
<circle cx="100.67" cy="241.55" r="1.6" fill="#fc8d62" stroke="#ffffff" stroke-width="0.3" stroke-opacity="0.6"/>
<circle cx="103.19" cy="212.04" r="1.6" fill="#e78ac3" stroke="#ffffff" stroke-width="0.3" stroke-opacity="0.6"/>
<circle cx="82.20" cy="237.51" r="1.6" fill="#8da0cb" stroke="#ffffff" stroke-width="0.3" stroke-opacity="0.6"/>
<circle cx="55.05" cy="197.25" r="1.6" fill="#e78ac3" stroke="#ffffff" stroke-width="0.3" stroke-opacity="0.6"/>
<circle cx="66.72" cy="214.16" r="1.6" fill="#e78ac3" stroke="#ffffff" stroke-width="0.3" stroke-opacity="0.6"/>
<circle cx="138.86" cy="282.84" r="1.6" fill="#66c2a5" stroke="#ffffff" stroke-width="0.3" stroke-opacity="0.6"/>
<circle cx="90.83" cy="242.93" r="1.6" fill="#fc8d62" stroke="#ffffff" stroke-width="0.3" stroke-opacity="0.6"/>
<circle cx="64.91" cy="201.24" r="1.6" fill="#e78ac3" stroke="#ffffff" stroke-width="0.3" stroke-opacity="0.6"/>
<circle cx="157.44" cy="279.40" r="1.6" fill="#66c2a5" stroke="#ffffff" stroke-width="0.3" stroke-opacity="0.6"/>
<circle cx="117.74" cy="247.69" r="1.6" fill="#fc8d62" stroke="#ffffff" stroke-width="0.3" stroke-opacity="0.6"/>
<circle cx="117.60" cy="236.21" r="1.6" fill="#8da0cb" stroke="#ffffff" stroke-width="0.3" stroke-opacity="0.6"/>
<circle cx="85.99" cy="211.33" r="1.6" fill="#e78ac3" stroke="#ffffff" stroke-width="0.3" stroke-opacity="0.6"/>
<circle cx="140.05" cy="274.94" r="1.6" fill="#66c2a5" stroke="#ffffff" stroke-width="0.3" stroke-opacity="0.6"/>
<circle cx="130.66" cy="265.32" r="1.6" fill="#fc8d62" stroke="#ffffff" stroke-width="0.3" stroke-opacity="0.6"/>
<circle cx="106.31" cy="247.66" r="1.6" fill="#fc8d62" stroke="#ffffff" stroke-width="0.3" stroke-opacity="0.6"/>
<circle cx="112.29" cy="249.98" r="1.6" fill="#fc8d62" stroke="#ffffff" stroke-width="0.3" stroke-opacity="0.6"/>
<circle cx="150.63" cy="248.70" r="1.6" fill="#fc8d62" stroke="#ffffff" stroke-width="0.3" stroke-opacity="0.6"/>
<circle cx="112.08" cy="241.01" r="1.6" fill="#fc8d62" stroke="#ffffff" stroke-width="0.3" stroke-opacity="0.6"/>
<circle cx="90.83" cy="212.04" r="1.6" fill="#e78ac3" stroke="#ffffff" stroke-width="0.3" stroke-opacity="0.6"/>
<circle cx="141.61" cy="278.03" r="1.6" fill="#66c2a5" stroke="#ffffff" stroke-width="0.3" stroke-opacity="0.6"/>
<circle cx="102.49" cy="241.01" r="1.6" fill="#fc8d62" stroke="#ffffff" stroke-width="0.3" stroke-opacity="0.6"/>
<circle cx="104.14" cy="247.55" r="1.6" fill="#fc8d62" stroke="#ffffff" stroke-width="0.3" stroke-opacity="0.6"/>
<circle cx="88.13" cy="235.97" r="1.6" fill="#8da0cb" stroke="#ffffff" stroke-width="0.3" stroke-opacity="0.6"/>
<circle cx="85.56" cy="238.69" r="1.6" fill="#8da0cb" stroke="#ffffff" stroke-width="0.3" stroke-opacity="0.6"/>
<circle cx="91.27" cy="234.40" r="1.6" fill="#8da0cb" stroke="#ffffff" stroke-width="0.3" stroke-opacity="0.6"/>
<circle cx="96.73" cy="226.43" r="1.6" fill="#8da0cb" stroke="#ffffff" stroke-width="0.3" stroke-opacity="0.6"/>
<circle cx="142.32" cy="282.84" r="1.6" fill="#66c2a5" stroke="#ffffff" stroke-width="0.3" stroke-opacity="0.6"/>
<circle cx="99.43" cy="244.42" r="1.6" fill="#fc8d62" stroke="#ffffff" stroke-width="0.3" stroke-opacity="0.6"/>
<circle cx="111.39" cy="243.74" r="1.6" fill="#fc8d62" stroke="#ffffff" stroke-width="0.3" stroke-opacity="0.6"/>
<circle cx="123.05" cy="245.56" r="1.6" fill="#fc8d62" stroke="#ffffff" stroke-width="0.3" stroke-opacity="0.6"/>
<circle cx="123.74" cy="255.39" r="1.6" fill="#fc8d62" stroke="#ffffff" stroke-width="0.3" stroke-opacity="0.6"/>
<circle cx="94.98" cy="226.12" r="1.6" fill="#8da0cb" stroke="#ffffff" stroke-width="0.3" stroke-opacity="0.6"/>
<circle cx="116.93" cy="247.57" r="1.6" fill="#fc8d62" stroke="#ffffff" stroke-width="0.3" stroke-opacity="0.6"/>
<circle cx="148.25" cy="306.04" r="1.6" fill="#66c2a5" stroke="#ffffff" stroke-width="0.3" stroke-opacity="0.6"/>
<circle cx="121.92" cy="228.60" r="1.6" fill="#8da0cb" stroke="#ffffff" stroke-width="0.3" stroke-opacity="0.6"/>
<circle cx="47.74" cy="190.97" r="1.6" fill="#e78ac3" stroke="#ffffff" stroke-width="0.3" stroke-opacity="0.6"/>
<circle cx="98.01" cy="246.31" r="1.6" fill="#fc8d62" stroke="#ffffff" stroke-width="0.3" stroke-opacity="0.6"/>
<circle cx="134.81" cy="276.56" r="1.6" fill="#66c2a5" stroke="#ffffff" stroke-width="0.3" stroke-opacity="0.6"/>
<circle cx="109.31" cy="241.61" r="1.6" fill="#fc8d62" stroke="#ffffff" stroke-width="0.3" stroke-opacity="0.6"/>
<circle cx="136.20" cy="278.69" r="1.6" fill="#66c2a5" stroke="#ffffff" stroke-width="0.3" stroke-opacity="0.6"/>
<circle cx="101.11" cy="243.74" r="1.6" fill="#fc8d62" stroke="#ffffff" stroke-width="0.3" stroke-opacity="0.6"/>
<circle cx="117.18" cy="227.20" r="1.6" fill="#8da0cb" stroke="#ffffff" stroke-width="0.3" stroke-opacity="0.6"/>
<circle cx="120.38" cy="246.27" r="1.6" fill="#fc8d62" stroke="#ffffff" stroke-width="0.3" stroke-opacity="0.6"/>
<circle cx="87.37" cy="244.52" r="1.6" fill="#fc8d62" stroke="#ffffff" stroke-width="0.3" stroke-opacity="0.6"/>
<circle cx="106.55" cy="238.17" r="1.6" fill="#8da0cb" stroke="#ffffff" stroke-width="0.3" stroke-opacity="0.6"/>
<circle cx="88.87" cy="233.36" r="1.6" fill="#8da0cb" stroke="#ffffff" stroke-width="0.3" stroke-opacity="0.6"/>
<circle cx="90.14" cy="240.09" r="1.6" fill="#8da0cb" stroke="#ffffff" stroke-width="0.3" stroke-opacity="0.6"/>
<circle cx="105.98" cy="244.54" r="1.6" fill="#fc8d62" stroke="#ffffff" stroke-width="0.3" stroke-opacity="0.6"/>
<circle cx="100.42" cy="236.75" r="1.6" fill="#8da0cb" stroke="#ffffff" stroke-width="0.3" stroke-opacity="0.6"/>
<circle cx="145.49" cy="298.95" r="1.6" fill="#66c2a5" stroke="#ffffff" stroke-width="0.3" stroke-opacity="0.6"/>
<circle cx="143.71" cy="284.97" r="1.6" fill="#66c2a5" stroke="#ffffff" stroke-width="0.3" stroke-opacity="0.6"/>
<circle cx="99.73" cy="244.35" r="1.6" fill="#fc8d62" stroke="#ffffff" stroke-width="0.3" stroke-opacity="0.6"/>
<circle cx="88.76" cy="234.42" r="1.6" fill="#8da0cb" stroke="#ffffff" stroke-width="0.3" stroke-opacity="0.6"/>
<circle cx="107.93" cy="244.45" r="1.6" fill="#fc8d62" stroke="#ffffff" stroke-width="0.3" stroke-opacity="0.6"/>
<circle cx="78.48" cy="243.64" r="1.6" fill="#8da0cb" stroke="#ffffff" stroke-width="0.3" stroke-opacity="0.6"/>
<circle cx="103.06" cy="233.18" r="1.6" fill="#8da0cb" stroke="#ffffff" stroke-width="0.3" stroke-opacity="0.6"/>
<circle cx="60.59" cy="209.20" r="1.6" fill="#e78ac3" stroke="#ffffff" stroke-width="0.3" stroke-opacity="0.6"/>
<circle cx="147.56" cy="296.11" r="1.6" fill="#66c2a5" stroke="#ffffff" stroke-width="0.3" stroke-opacity="0.6"/>
<circle cx="126.51" cy="250.43" r="1.6" fill="#fc8d62" stroke="#ffffff" stroke-width="0.3" stroke-opacity="0.6"/>
<circle cx="91.76" cy="236.28" r="1.6" fill="#8da0cb" stroke="#ffffff" stroke-width="0.3" stroke-opacity="0.6"/>
<circle cx="119.00" cy="251.14" r="1.6" fill="#fc8d62" stroke="#ffffff" stroke-width="0.3" stroke-opacity="0.6"/>
<circle cx="104.42" cy="240.81" r="1.6" fill="#8da0cb" stroke="#ffffff" stroke-width="0.3" stroke-opacity="0.6"/>
<circle cx="145.09" cy="278.69" r="1.6" fill="#66c2a5" stroke="#ffffff" stroke-width="0.3" stroke-opacity="0.6"/>
<circle cx="119.81" cy="240.14" r="1.6" fill="#8da0cb" stroke="#ffffff" stroke-width="0.3" stroke-opacity="0.6"/>
<circle cx="140.05" cy="283.45" r="1.6" fill="#66c2a5" stroke="#ffffff" stroke-width="0.3" stroke-opacity="0.6"/>
<circle cx="144.82" cy="291.44" r="1.6" fill="#66c2a5" stroke="#ffffff" stroke-width="0.3" stroke-opacity="0.6"/>
<circle cx="102.49" cy="228.95" r="1.6" fill="#8da0cb" stroke="#ffffff" stroke-width="0.3" stroke-opacity="0.6"/>
<circle cx="114.49" cy="226.04" r="1.6" fill="#8da0cb" stroke="#ffffff" stroke-width="0.3" stroke-opacity="0.6"/>
<circle cx="63.36" cy="210.62" r="1.6" fill="#e78ac3" stroke="#ffffff" stroke-width="0.3" stroke-opacity="0.6"/>
<circle cx="125.31" cy="229.29" r="1.6" fill="#8da0cb" stroke="#ffffff" stroke-width="0.3" stroke-opacity="0.6"/>
<circle cx="109.12" cy="237.40" r="1.6" fill="#8da0cb" stroke="#ffffff" stroke-width="0.3" stroke-opacity="0.6"/>
<circle cx="132.64" cy="272.43" r="1.6" fill="#66c2a5" stroke="#ffffff" stroke-width="0.3" stroke-opacity="0.6"/>
<circle cx="77.79" cy="231.59" r="1.6" fill="#8da0cb" stroke="#ffffff" stroke-width="0.3" stroke-opacity="0.6"/>
<circle cx="122.36" cy="238.88" r="1.6" fill="#8da0cb" stroke="#ffffff" stroke-width="0.3" stroke-opacity="0.6"/>
<circle cx="62.66" cy="201.50" r="1.6" fill="#e78ac3" stroke="#ffffff" stroke-width="0.3" stroke-opacity="0.6"/>
<circle cx="78.48" cy="228.95" r="1.6" fill="#8da0cb" stroke="#ffffff" stroke-width="0.3" stroke-opacity="0.6"/>
<circle cx="140.25" cy="285.68" r="1.6" fill="#66c2a5" stroke="#ffffff" stroke-width="0.3" stroke-opacity="0.6"/>
<circle cx="136.89" cy="274.43" r="1.6" fill="#66c2a5" stroke="#ffffff" stroke-width="0.3" stroke-opacity="0.6"/>
<circle cx="110.01" cy="248.00" r="1.6" fill="#fc8d62" stroke="#ffffff" stroke-width="0.3" stroke-opacity="0.6"/>
<circle cx="132.99" cy="266.19" r="1.6" fill="#fc8d62" stroke="#ffffff" stroke-width="0.3" stroke-opacity="0.6"/>
<circle cx="83.60" cy="234.77" r="1.6" fill="#8da0cb" stroke="#ffffff" stroke-width="0.3" stroke-opacity="0.6"/>
<circle cx="119.18" cy="234.19" r="1.6" fill="#8da0cb" stroke="#ffffff" stroke-width="0.3" stroke-opacity="0.6"/>
<circle cx="120.22" cy="240.36" r="1.6" fill="#8da0cb" stroke="#ffffff" stroke-width="0.3" stroke-opacity="0.6"/>
<circle cx="99.73" cy="231.79" r="1.6" fill="#8da0cb" stroke="#ffffff" stroke-width="0.3" stroke-opacity="0.6"/>
<circle cx="112.75" cy="230.56" r="1.6" fill="#8da0cb" stroke="#ffffff" stroke-width="0.3" stroke-opacity="0.6"/>
<circle cx="83.22" cy="226.83" r="1.6" fill="#8da0cb" stroke="#ffffff" stroke-width="0.3" stroke-opacity="0.6"/>
<circle cx="123.98" cy="228.04" r="1.6" fill="#8da0cb" stroke="#ffffff" stroke-width="0.3" stroke-opacity="0.6"/>
<circle cx="109.18" cy="243.30" r="1.6" fill="#fc8d62" stroke="#ffffff" stroke-width="0.3" stroke-opacity="0.6"/>
<circle cx="145.52" cy="294.61" r="1.6" fill="#66c2a5" stroke="#ffffff" stroke-width="0.3" stroke-opacity="0.6"/>
<circle cx="101.74" cy="244.09" r="1.6" fill="#fc8d62" stroke="#ffffff" stroke-width="0.3" stroke-opacity="0.6"/>
<circle cx="114.74" cy="220.84" r="1.6" fill="#8da0cb" stroke="#ffffff" stroke-width="0.3" stroke-opacity="0.6"/>
<circle cx="123.05" cy="257.52" r="1.6" fill="#fc8d62" stroke="#ffffff" stroke-width="0.3" stroke-opacity="0.6"/>
<circle cx="92.91" cy="245.06" r="1.6" fill="#fc8d62" stroke="#ffffff" stroke-width="0.3" stroke-opacity="0.6"/>
<circle cx="119.84" cy="232.68" r="1.6" fill="#8da0cb" stroke="#ffffff" stroke-width="0.3" stroke-opacity="0.6"/>
<circle cx="110.09" cy="239.29" r="1.6" fill="#8da0cb" stroke="#ffffff" stroke-width="0.3" stroke-opacity="0.6"/>
<circle cx="123.37" cy="232.00" r="1.6" fill="#8da0cb" stroke="#ffffff" stroke-width="0.3" stroke-opacity="0.6"/>
<circle cx="97.65" cy="247.08" r="1.6" fill="#fc8d62" stroke="#ffffff" stroke-width="0.3" stroke-opacity="0.6"/>
<circle cx="145.49" cy="280.69" r="1.6" fill="#66c2a5" stroke="#ffffff" stroke-width="0.3" stroke-opacity="0.6"/>
<circle cx="72.25" cy="205.05" r="1.6" fill="#e78ac3" stroke="#ffffff" stroke-width="0.3" stroke-opacity="0.6"/>
<circle cx="119.12" cy="231.76" r="1.6" fill="#8da0cb" stroke="#ffffff" stroke-width="0.3" stroke-opacity="0.6"/>
<circle cx="121.77" cy="245.87" r="1.6" fill="#fc8d62" stroke="#ffffff" stroke-width="0.3" stroke-opacity="0.6"/>
<circle cx="103.70" cy="224.78" r="1.6" fill="#8da0cb" stroke="#ffffff" stroke-width="0.3" stroke-opacity="0.6"/>
<circle cx="67.41" cy="202.92" r="1.6" fill="#e78ac3" stroke="#ffffff" stroke-width="0.3" stroke-opacity="0.6"/>
<circle cx="116.88" cy="236.00" r="1.6" fill="#8da0cb" stroke="#ffffff" stroke-width="0.3" stroke-opacity="0.6"/>
<circle cx="85.08" cy="234.96" r="1.6" fill="#8da0cb" stroke="#ffffff" stroke-width="0.3" stroke-opacity="0.6"/>
<circle cx="145.34" cy="296.01" r="1.6" fill="#66c2a5" stroke="#ffffff" stroke-width="0.3" stroke-opacity="0.6"/>
<circle cx="102.49" cy="221.25" r="1.6" fill="#8da0cb" stroke="#ffffff" stroke-width="0.3" stroke-opacity="0.6"/>
<circle cx="93.71" cy="238.39" r="1.6" fill="#8da0cb" stroke="#ffffff" stroke-width="0.3" stroke-opacity="0.6"/>
<circle cx="99.40" cy="236.67" r="1.6" fill="#8da0cb" stroke="#ffffff" stroke-width="0.3" stroke-opacity="0.6"/>
<circle cx="110.34" cy="243.06" r="1.6" fill="#fc8d62" stroke="#ffffff" stroke-width="0.3" stroke-opacity="0.6"/>
<circle cx="144.40" cy="263.90" r="1.6" fill="#66c2a5" stroke="#ffffff" stroke-width="0.3" stroke-opacity="0.6"/>
<circle cx="138.17" cy="276.56" r="1.6" fill="#66c2a5" stroke="#ffffff" stroke-width="0.3" stroke-opacity="0.6"/>
<circle cx="125.13" cy="236.75" r="1.6" fill="#8da0cb" stroke="#ffffff" stroke-width="0.3" stroke-opacity="0.6"/>
<circle cx="101.11" cy="211.33" r="1.6" fill="#e78ac3" stroke="#ffffff" stroke-width="0.3" stroke-opacity="0.6"/>
<circle cx="160.71" cy="279.90" r="1.6" fill="#66c2a5" stroke="#ffffff" stroke-width="0.3" stroke-opacity="0.6"/>
<circle cx="89.02" cy="234.70" r="1.6" fill="#8da0cb" stroke="#ffffff" stroke-width="0.3" stroke-opacity="0.6"/>
<circle cx="144.03" cy="288.88" r="1.6" fill="#66c2a5" stroke="#ffffff" stroke-width="0.3" stroke-opacity="0.6"/>
<circle cx="114.72" cy="229.41" r="1.6" fill="#8da0cb" stroke="#ffffff" stroke-width="0.3" stroke-opacity="0.6"/>
<circle cx="75.71" cy="221.25" r="1.6" fill="#e78ac3" stroke="#ffffff" stroke-width="0.3" stroke-opacity="0.6"/>
<circle cx="60.47" cy="200.14" r="1.6" fill="#e78ac3" stroke="#ffffff" stroke-width="0.3" stroke-opacity="0.6"/>
<circle cx="125.82" cy="260.35" r="1.6" fill="#fc8d62" stroke="#ffffff" stroke-width="0.3" stroke-opacity="0.6"/>
<circle cx="125.13" cy="219.84" r="1.6" fill="#8da0cb" stroke="#ffffff" stroke-width="0.3" stroke-opacity="0.6"/>
<circle cx="124.43" cy="228.95" r="1.6" fill="#8da0cb" stroke="#ffffff" stroke-width="0.3" stroke-opacity="0.6"/>
<circle cx="151.32" cy="259.64" r="1.6" fill="#66c2a5" stroke="#ffffff" stroke-width="0.3" stroke-opacity="0.6"/>
<circle cx="83.22" cy="214.87" r="1.6" fill="#e78ac3" stroke="#ffffff" stroke-width="0.3" stroke-opacity="0.6"/>
<circle cx="113.51" cy="227.25" r="1.6" fill="#8da0cb" stroke="#ffffff" stroke-width="0.3" stroke-opacity="0.6"/>
<circle cx="146.87" cy="290.54" r="1.6" fill="#66c2a5" stroke="#ffffff" stroke-width="0.3" stroke-opacity="0.6"/>
<circle cx="83.11" cy="225.49" r="1.6" fill="#8da0cb" stroke="#ffffff" stroke-width="0.3" stroke-opacity="0.6"/>
<circle cx="58.51" cy="198.67" r="1.6" fill="#e78ac3" stroke="#ffffff" stroke-width="0.3" stroke-opacity="0.6"/>
<circle cx="102.49" cy="214.16" r="1.6" fill="#e78ac3" stroke="#ffffff" stroke-width="0.3" stroke-opacity="0.6"/>
<circle cx="88.54" cy="229.66" r="1.6" fill="#8da0cb" stroke="#ffffff" stroke-width="0.3" stroke-opacity="0.6"/>
<circle cx="156.75" cy="282.13" r="1.6" fill="#66c2a5" stroke="#ffffff" stroke-width="0.3" stroke-opacity="0.6"/>
<circle cx="117.15" cy="244.03" r="1.6" fill="#fc8d62" stroke="#ffffff" stroke-width="0.3" stroke-opacity="0.6"/>
<circle cx="114.14" cy="235.14" r="1.6" fill="#8da0cb" stroke="#ffffff" stroke-width="0.3" stroke-opacity="0.6"/>
<circle cx="88.05" cy="238.28" r="1.6" fill="#8da0cb" stroke="#ffffff" stroke-width="0.3" stroke-opacity="0.6"/>
<circle cx="88.06" cy="226.83" r="1.6" fill="#8da0cb" stroke="#ffffff" stroke-width="0.3" stroke-opacity="0.6"/>
<circle cx="113.71" cy="232.89" r="1.6" fill="#8da0cb" stroke="#ffffff" stroke-width="0.3" stroke-opacity="0.6"/>
<circle cx="116.23" cy="224.09" r="1.6" fill="#8da0cb" stroke="#ffffff" stroke-width="0.3" stroke-opacity="0.6"/>
<circle cx="118.50" cy="224.96" r="1.6" fill="#8da0cb" stroke="#ffffff" stroke-width="0.3" stroke-opacity="0.6"/>
<circle cx="124.86" cy="240.85" r="1.6" fill="#fc8d62" stroke="#ffffff" stroke-width="0.3" stroke-opacity="0.6"/>
<circle cx="108.20" cy="243.50" r="1.6" fill="#fc8d62" stroke="#ffffff" stroke-width="0.3" stroke-opacity="0.6"/>
<circle cx="108.63" cy="239.92" r="1.6" fill="#8da0cb" stroke="#ffffff" stroke-width="0.3" stroke-opacity="0.6"/>
<circle cx="130.81" cy="266.69" r="1.6" fill="#fc8d62" stroke="#ffffff" stroke-width="0.3" stroke-opacity="0.6"/>
<circle cx="117.62" cy="236.75" r="1.6" fill="#8da0cb" stroke="#ffffff" stroke-width="0.3" stroke-opacity="0.6"/>
<circle cx="152.70" cy="251.14" r="1.6" fill="#fc8d62" stroke="#ffffff" stroke-width="0.3" stroke-opacity="0.6"/>
<circle cx="63.36" cy="199.38" r="1.6" fill="#e78ac3" stroke="#ffffff" stroke-width="0.3" stroke-opacity="0.6"/>
<circle cx="116.94" cy="244.74" r="1.6" fill="#fc8d62" stroke="#ffffff" stroke-width="0.3" stroke-opacity="0.6"/>
<circle cx="124.86" cy="231.36" r="1.6" fill="#8da0cb" stroke="#ffffff" stroke-width="0.3" stroke-opacity="0.6"/>
<circle cx="138.17" cy="254.68" r="1.6" fill="#fc8d62" stroke="#ffffff" stroke-width="0.3" stroke-opacity="0.6"/>
<circle cx="114.41" cy="238.98" r="1.6" fill="#8da0cb" stroke="#ffffff" stroke-width="0.3" stroke-opacity="0.6"/>
<circle cx="99.03" cy="210.62" r="1.6" fill="#e78ac3" stroke="#ffffff" stroke-width="0.3" stroke-opacity="0.6"/>
<circle cx="146.47" cy="282.13" r="1.6" fill="#66c2a5" stroke="#ffffff" stroke-width="0.3" stroke-opacity="0.6"/>
<circle cx="89.45" cy="244.35" r="1.6" fill="#fc8d62" stroke="#ffffff" stroke-width="0.3" stroke-opacity="0.6"/>
<circle cx="94.29" cy="237.97" r="1.6" fill="#8da0cb" stroke="#ffffff" stroke-width="0.3" stroke-opacity="0.6"/>
<circle cx="143.84" cy="296.03" r="1.6" fill="#66c2a5" stroke="#ffffff" stroke-width="0.3" stroke-opacity="0.6"/>
<circle cx="103.19" cy="230.17" r="1.6" fill="#8da0cb" stroke="#ffffff" stroke-width="0.3" stroke-opacity="0.6"/>
<circle cx="101.05" cy="240.48" r="1.6" fill="#8da0cb" stroke="#ffffff" stroke-width="0.3" stroke-opacity="0.6"/>
<circle cx="110.70" cy="227.53" r="1.6" fill="#8da0cb" stroke="#ffffff" stroke-width="0.3" stroke-opacity="0.6"/>
<circle cx="86.68" cy="215.58" r="1.6" fill="#e78ac3" stroke="#ffffff" stroke-width="0.3" stroke-opacity="0.6"/>
<circle cx="87.18" cy="227.72" r="1.6" fill="#8da0cb" stroke="#ffffff" stroke-width="0.3" stroke-opacity="0.6"/>
<circle cx="112.08" cy="224.09" r="1.6" fill="#8da0cb" stroke="#ffffff" stroke-width="0.3" stroke-opacity="0.6"/>
<circle cx="85.35" cy="244.23" r="1.6" fill="#8da0cb" stroke="#ffffff" stroke-width="0.3" stroke-opacity="0.6"/>
<circle cx="139.56" cy="278.69" r="1.6" fill="#66c2a5" stroke="#ffffff" stroke-width="0.3" stroke-opacity="0.6"/>
<circle cx="132.04" cy="271.60" r="1.6" fill="#66c2a5" stroke="#ffffff" stroke-width="0.3" stroke-opacity="0.6"/>
<circle cx="132.76" cy="273.30" r="1.6" fill="#66c2a5" stroke="#ffffff" stroke-width="0.3" stroke-opacity="0.6"/>
<circle cx="59.90" cy="211.33" r="1.6" fill="#e78ac3" stroke="#ffffff" stroke-width="0.3" stroke-opacity="0.6"/>
<circle cx="100.80" cy="241.68" r="1.6" fill="#fc8d62" stroke="#ffffff" stroke-width="0.3" stroke-opacity="0.6"/>
<circle cx="110.21" cy="235.09" r="1.6" fill="#8da0cb" stroke="#ffffff" stroke-width="0.3" stroke-opacity="0.6"/>
<circle cx="78.66" cy="204.63" r="1.6" fill="#e78ac3" stroke="#ffffff" stroke-width="0.3" stroke-opacity="0.6"/>
<circle cx="73.63" cy="209.91" r="1.6" fill="#e78ac3" stroke="#ffffff" stroke-width="0.3" stroke-opacity="0.6"/>
<circle cx="98.33" cy="244.90" r="1.6" fill="#fc8d62" stroke="#ffffff" stroke-width="0.3" stroke-opacity="0.6"/>
<circle cx="75.02" cy="218.42" r="1.6" fill="#e78ac3" stroke="#ffffff" stroke-width="0.3" stroke-opacity="0.6"/>
<circle cx="96.37" cy="245.06" r="1.6" fill="#fc8d62" stroke="#ffffff" stroke-width="0.3" stroke-opacity="0.6"/>
<circle cx="113.46" cy="232.50" r="1.6" fill="#8da0cb" stroke="#ffffff" stroke-width="0.3" stroke-opacity="0.6"/>
<circle cx="121.63" cy="236.45" r="1.6" fill="#8da0cb" stroke="#ffffff" stroke-width="0.3" stroke-opacity="0.6"/>
<circle cx="111.12" cy="243.62" r="1.6" fill="#fc8d62" stroke="#ffffff" stroke-width="0.3" stroke-opacity="0.6"/>
<circle cx="140.94" cy="280.81" r="1.6" fill="#66c2a5" stroke="#ffffff" stroke-width="0.3" stroke-opacity="0.6"/>
<circle cx="57.13" cy="194.72" r="1.6" fill="#e78ac3" stroke="#ffffff" stroke-width="0.3" stroke-opacity="0.6"/>
<circle cx="101.83" cy="241.78" r="1.6" fill="#fc8d62" stroke="#ffffff" stroke-width="0.3" stroke-opacity="0.6"/>
<circle cx="111.17" cy="235.97" r="1.6" fill="#8da0cb" stroke="#ffffff" stroke-width="0.3" stroke-opacity="0.6"/>
<circle cx="115.95" cy="249.06" r="1.6" fill="#fc8d62" stroke="#ffffff" stroke-width="0.3" stroke-opacity="0.6"/>
<circle cx="144.40" cy="268.05" r="1.6" fill="#66c2a5" stroke="#ffffff" stroke-width="0.3" stroke-opacity="0.6"/>
<circle cx="102.49" cy="233.92" r="1.6" fill="#8da0cb" stroke="#ffffff" stroke-width="0.3" stroke-opacity="0.6"/>
<circle cx="88.06" cy="209.20" r="1.6" fill="#e78ac3" stroke="#ffffff" stroke-width="0.3" stroke-opacity="0.6"/>
<circle cx="121.07" cy="217.00" r="1.6" fill="#8da0cb" stroke="#ffffff" stroke-width="0.3" stroke-opacity="0.6"/>
<circle cx="120.38" cy="254.68" r="1.6" fill="#fc8d62" stroke="#ffffff" stroke-width="0.3" stroke-opacity="0.6"/>
<circle cx="151.32" cy="256.81" r="1.6" fill="#fc8d62" stroke="#ffffff" stroke-width="0.3" stroke-opacity="0.6"/>
<circle cx="79.17" cy="209.91" r="1.6" fill="#e78ac3" stroke="#ffffff" stroke-width="0.3" stroke-opacity="0.6"/>
<circle cx="105.95" cy="240.30" r="1.6" fill="#8da0cb" stroke="#ffffff" stroke-width="0.3" stroke-opacity="0.6"/>
<circle cx="127.20" cy="262.48" r="1.6" fill="#fc8d62" stroke="#ffffff" stroke-width="0.3" stroke-opacity="0.6"/>
<circle cx="159.52" cy="278.69" r="1.6" fill="#66c2a5" stroke="#ffffff" stroke-width="0.3" stroke-opacity="0.6"/>
<circle cx="130.90" cy="269.74" r="1.6" fill="#66c2a5" stroke="#ffffff" stroke-width="0.3" stroke-opacity="0.6"/>
<circle cx="111.19" cy="237.53" r="1.6" fill="#8da0cb" stroke="#ffffff" stroke-width="0.3" stroke-opacity="0.6"/>
<circle cx="72.94" cy="230.37" r="1.6" fill="#8da0cb" stroke="#ffffff" stroke-width="0.3" stroke-opacity="0.6"/>
<circle cx="54.36" cy="195.63" r="1.6" fill="#e78ac3" stroke="#ffffff" stroke-width="0.3" stroke-opacity="0.6"/>
<circle cx="143.02" cy="270.89" r="1.6" fill="#66c2a5" stroke="#ffffff" stroke-width="0.3" stroke-opacity="0.6"/>
<circle cx="96.41" cy="245.62" r="1.6" fill="#fc8d62" stroke="#ffffff" stroke-width="0.3" stroke-opacity="0.6"/>
<circle cx="118.29" cy="248.80" r="1.6" fill="#fc8d62" stroke="#ffffff" stroke-width="0.3" stroke-opacity="0.6"/>
<circle cx="116.23" cy="230.37" r="1.6" fill="#8da0cb" stroke="#ffffff" stroke-width="0.3" stroke-opacity="0.6"/>
<circle cx="143.95" cy="280.43" r="1.6" fill="#66c2a5" stroke="#ffffff" stroke-width="0.3" stroke-opacity="0.6"/>
<circle cx="142.32" cy="275.14" r="1.6" fill="#66c2a5" stroke="#ffffff" stroke-width="0.3" stroke-opacity="0.6"/>
<circle cx="75.71" cy="215.58" r="1.6" fill="#e78ac3" stroke="#ffffff" stroke-width="0.3" stroke-opacity="0.6"/>
<circle cx="114.85" cy="236.04" r="1.6" fill="#8da0cb" stroke="#ffffff" stroke-width="0.3" stroke-opacity="0.6"/>
<circle cx="100.35" cy="221.60" r="1.6" fill="#8da0cb" stroke="#ffffff" stroke-width="0.3" stroke-opacity="0.6"/>
<circle cx="102.02" cy="243.38" r="1.6" fill="#fc8d62" stroke="#ffffff" stroke-width="0.3" stroke-opacity="0.6"/>
<circle cx="123.74" cy="233.92" r="1.6" fill="#8da0cb" stroke="#ffffff" stroke-width="0.3" stroke-opacity="0.6"/>
<circle cx="96.37" cy="209.91" r="1.6" fill="#e78ac3" stroke="#ffffff" stroke-width="0.3" stroke-opacity="0.6"/>
<circle cx="98.34" cy="229.66" r="1.6" fill="#8da0cb" stroke="#ffffff" stroke-width="0.3" stroke-opacity="0.6"/>
<circle cx="133.82" cy="267.95" r="1.6" fill="#fc8d62" stroke="#ffffff" stroke-width="0.3" stroke-opacity="0.6"/>
<circle cx="153.39" cy="265.32" r="1.6" fill="#66c2a5" stroke="#ffffff" stroke-width="0.3" stroke-opacity="0.6"/>
<circle cx="83.22" cy="210.62" r="1.6" fill="#e78ac3" stroke="#ffffff" stroke-width="0.3" stroke-opacity="0.6"/>
<circle cx="142.32" cy="263.90" r="1.6" fill="#66c2a5" stroke="#ffffff" stroke-width="0.3" stroke-opacity="0.6"/>
<circle cx="106.29" cy="216.03" r="1.6" fill="#8da0cb" stroke="#ffffff" stroke-width="0.3" stroke-opacity="0.6"/>
<circle cx="133.43" cy="274.43" r="1.6" fill="#66c2a5" stroke="#ffffff" stroke-width="0.3" stroke-opacity="0.6"/>
<circle cx="102.36" cy="239.72" r="1.6" fill="#8da0cb" stroke="#ffffff" stroke-width="0.3" stroke-opacity="0.6"/>
<circle cx="52.29" cy="194.72" r="1.6" fill="#e78ac3" stroke="#ffffff" stroke-width="0.3" stroke-opacity="0.6"/>
<circle cx="72.94" cy="225.41" r="1.6" fill="#e78ac3" stroke="#ffffff" stroke-width="0.3" stroke-opacity="0.6"/>
<circle cx="82.53" cy="207.88" r="1.6" fill="#e78ac3" stroke="#ffffff" stroke-width="0.3" stroke-opacity="0.6"/>
<circle cx="90.61" cy="243.25" r="1.6" fill="#fc8d62" stroke="#ffffff" stroke-width="0.3" stroke-opacity="0.6"/>
<circle cx="115.38" cy="240.00" r="1.6" fill="#8da0cb" stroke="#ffffff" stroke-width="0.3" stroke-opacity="0.6"/>
<circle cx="103.19" cy="217.71" r="1.6" fill="#8da0cb" stroke="#ffffff" stroke-width="0.3" stroke-opacity="0.6"/>
<circle cx="144.13" cy="284.47" r="1.6" fill="#66c2a5" stroke="#ffffff" stroke-width="0.3" stroke-opacity="0.6"/>
<circle cx="113.46" cy="245.87" r="1.6" fill="#fc8d62" stroke="#ffffff" stroke-width="0.3" stroke-opacity="0.6"/>
<circle cx="78.80" cy="229.26" r="1.6" fill="#8da0cb" stroke="#ffffff" stroke-width="0.3" stroke-opacity="0.6"/>
<circle cx="70.64" cy="202.41" r="1.6" fill="#e78ac3" stroke="#ffffff" stroke-width="0.3" stroke-opacity="0.6"/>
<circle cx="145.78" cy="287.09" r="1.6" fill="#66c2a5" stroke="#ffffff" stroke-width="0.3" stroke-opacity="0.6"/>
<circle cx="127.89" cy="240.30" r="1.6" fill="#8da0cb" stroke="#ffffff" stroke-width="0.3" stroke-opacity="0.6"/>
<circle cx="114.46" cy="242.22" r="1.6" fill="#fc8d62" stroke="#ffffff" stroke-width="0.3" stroke-opacity="0.6"/>
<circle cx="132.71" cy="274.17" r="1.6" fill="#66c2a5" stroke="#ffffff" stroke-width="0.3" stroke-opacity="0.6"/>
<circle cx="142.15" cy="285.92" r="1.6" fill="#66c2a5" stroke="#ffffff" stroke-width="0.3" stroke-opacity="0.6"/>
<circle cx="120.38" cy="233.92" r="1.6" fill="#8da0cb" stroke="#ffffff" stroke-width="0.3" stroke-opacity="0.6"/>
<circle cx="102.96" cy="247.62" r="1.6" fill="#fc8d62" stroke="#ffffff" stroke-width="0.3" stroke-opacity="0.6"/>
<circle cx="102.49" cy="235.84" r="1.6" fill="#8da0cb" stroke="#ffffff" stroke-width="0.3" stroke-opacity="0.6"/>
<circle cx="108.62" cy="223.38" r="1.6" fill="#8da0cb" stroke="#ffffff" stroke-width="0.3" stroke-opacity="0.6"/>
<circle cx="152.70" cy="278.69" r="1.6" fill="#66c2a5" stroke="#ffffff" stroke-width="0.3" stroke-opacity="0.6"/>
<circle cx="126.51" cy="242.32" r="1.6" fill="#fc8d62" stroke="#ffffff" stroke-width="0.3" stroke-opacity="0.6"/>
<circle cx="116.92" cy="233.21" r="1.6" fill="#8da0cb" stroke="#ffffff" stroke-width="0.3" stroke-opacity="0.6"/>
<circle cx="141.05" cy="285.95" r="1.6" fill="#66c2a5" stroke="#ffffff" stroke-width="0.3" stroke-opacity="0.6"/>
<circle cx="103.11" cy="231.42" r="1.6" fill="#8da0cb" stroke="#ffffff" stroke-width="0.3" stroke-opacity="0.6"/>
<circle cx="134.52" cy="270.92" r="1.6" fill="#66c2a5" stroke="#ffffff" stroke-width="0.3" stroke-opacity="0.6"/>
<circle cx="90.83" cy="227.43" r="1.6" fill="#8da0cb" stroke="#ffffff" stroke-width="0.3" stroke-opacity="0.6"/>
<circle cx="74.33" cy="221.76" r="1.6" fill="#e78ac3" stroke="#ffffff" stroke-width="0.3" stroke-opacity="0.6"/>
<circle cx="138.17" cy="264.61" r="1.6" fill="#66c2a5" stroke="#ffffff" stroke-width="0.3" stroke-opacity="0.6"/>
<circle cx="96.37" cy="230.17" r="1.6" fill="#8da0cb" stroke="#ffffff" stroke-width="0.3" stroke-opacity="0.6"/>
<circle cx="96.45" cy="246.66" r="1.6" fill="#fc8d62" stroke="#ffffff" stroke-width="0.3" stroke-opacity="0.6"/>
<circle cx="99.03" cy="235.13" r="1.6" fill="#8da0cb" stroke="#ffffff" stroke-width="0.3" stroke-opacity="0.6"/>
<circle cx="153.39" cy="275.14" r="1.6" fill="#66c2a5" stroke="#ffffff" stroke-width="0.3" stroke-opacity="0.6"/>
<circle cx="87.37" cy="242.22" r="1.6" fill="#fc8d62" stroke="#ffffff" stroke-width="0.3" stroke-opacity="0.6"/>
<circle cx="99.73" cy="225.41" r="1.6" fill="#8da0cb" stroke="#ffffff" stroke-width="0.3" stroke-opacity="0.6"/>
<circle cx="114.16" cy="239.09" r="1.6" fill="#8da0cb" stroke="#ffffff" stroke-width="0.3" stroke-opacity="0.6"/>
<circle cx="104.73" cy="247.50" r="1.6" fill="#fc8d62" stroke="#ffffff" stroke-width="0.3" stroke-opacity="0.6"/>
<circle cx="154.68" cy="268.05" r="1.6" fill="#66c2a5" stroke="#ffffff" stroke-width="0.3" stroke-opacity="0.6"/>
<circle cx="141.75" cy="284.96" r="1.6" fill="#66c2a5" stroke="#ffffff" stroke-width="0.3" stroke-opacity="0.6"/>
<circle cx="118.34" cy="250.00" r="1.6" fill="#fc8d62" stroke="#ffffff" stroke-width="0.3" stroke-opacity="0.6"/>
<circle cx="101.09" cy="247.41" r="1.6" fill="#fc8d62" stroke="#ffffff" stroke-width="0.3" stroke-opacity="0.6"/>
<circle cx="144.05" cy="293.94" r="1.6" fill="#66c2a5" stroke="#ffffff" stroke-width="0.3" stroke-opacity="0.6"/>
<circle cx="108.55" cy="228.08" r="1.6" fill="#8da0cb" stroke="#ffffff" stroke-width="0.3" stroke-opacity="0.6"/>
<circle cx="108.62" cy="214.87" r="1.6" fill="#8da0cb" stroke="#ffffff" stroke-width="0.3" stroke-opacity="0.6"/>
<circle cx="102.49" cy="246.58" r="1.6" fill="#fc8d62" stroke="#ffffff" stroke-width="0.3" stroke-opacity="0.6"/>
<circle cx="127.20" cy="228.24" r="1.6" fill="#8da0cb" stroke="#ffffff" stroke-width="0.3" stroke-opacity="0.6"/>
<circle cx="101.98" cy="225.11" r="1.6" fill="#8da0cb" stroke="#ffffff" stroke-width="0.3" stroke-opacity="0.6"/>
<circle cx="137.58" cy="280.81" r="1.6" fill="#66c2a5" stroke="#ffffff" stroke-width="0.3" stroke-opacity="0.6"/>
<circle cx="75.90" cy="204.51" r="1.6" fill="#e78ac3" stroke="#ffffff" stroke-width="0.3" stroke-opacity="0.6"/>
<circle cx="122.94" cy="220.53" r="1.6" fill="#8da0cb" stroke="#ffffff" stroke-width="0.3" stroke-opacity="0.6"/>
<circle cx="99.73" cy="220.55" r="1.6" fill="#8da0cb" stroke="#ffffff" stroke-width="0.3" stroke-opacity="0.6"/>
<circle cx="108.62" cy="235.33" r="1.6" fill="#8da0cb" stroke="#ffffff" stroke-width="0.3" stroke-opacity="0.6"/>
<circle cx="81.84" cy="222.67" r="1.6" fill="#e78ac3" stroke="#ffffff" stroke-width="0.3" stroke-opacity="0.6"/>
<circle cx="114.05" cy="250.98" r="1.6" fill="#fc8d62" stroke="#ffffff" stroke-width="0.3" stroke-opacity="0.6"/>
<circle cx="89.45" cy="230.88" r="1.6" fill="#8da0cb" stroke="#ffffff" stroke-width="0.3" stroke-opacity="0.6"/>
<circle cx="70.87" cy="215.58" r="1.6" fill="#e78ac3" stroke="#ffffff" stroke-width="0.3" stroke-opacity="0.6"/>
<circle cx="68.10" cy="229.66" r="1.6" fill="#8da0cb" stroke="#ffffff" stroke-width="0.3" stroke-opacity="0.6"/>
<circle cx="102.47" cy="230.55" r="1.6" fill="#8da0cb" stroke="#ffffff" stroke-width="0.3" stroke-opacity="0.6"/>
<circle cx="103.88" cy="226.83" r="1.6" fill="#8da0cb" stroke="#ffffff" stroke-width="0.3" stroke-opacity="0.6"/>
<circle cx="101.11" cy="263.29" r="1.6" fill="#fc8d62" stroke="#ffffff" stroke-width="0.3" stroke-opacity="0.6"/>
<circle cx="81.27" cy="240.46" r="1.6" fill="#8da0cb" stroke="#ffffff" stroke-width="0.3" stroke-opacity="0.6"/>
<circle cx="92.05" cy="244.58" r="1.6" fill="#fc8d62" stroke="#ffffff" stroke-width="0.3" stroke-opacity="0.6"/>
<circle cx="101.30" cy="241.35" r="1.6" fill="#fc8d62" stroke="#ffffff" stroke-width="0.3" stroke-opacity="0.6"/>
<circle cx="78.48" cy="206.47" r="1.6" fill="#e78ac3" stroke="#ffffff" stroke-width="0.3" stroke-opacity="0.6"/>
<circle cx="119.43" cy="239.87" r="1.6" fill="#8da0cb" stroke="#ffffff" stroke-width="0.3" stroke-opacity="0.6"/>
<circle cx="64.74" cy="212.75" r="1.6" fill="#e78ac3" stroke="#ffffff" stroke-width="0.3" stroke-opacity="0.6"/>
<circle cx="99.46" cy="241.37" r="1.6" fill="#fc8d62" stroke="#ffffff" stroke-width="0.3" stroke-opacity="0.6"/>
<circle cx="129.28" cy="241.61" r="1.6" fill="#fc8d62" stroke="#ffffff" stroke-width="0.3" stroke-opacity="0.6"/>
<circle cx="106.55" cy="224.80" r="1.6" fill="#8da0cb" stroke="#ffffff" stroke-width="0.3" stroke-opacity="0.6"/>
<circle cx="151.32" cy="274.43" r="1.6" fill="#66c2a5" stroke="#ffffff" stroke-width="0.3" stroke-opacity="0.6"/>
<circle cx="110.12" cy="248.88" r="1.6" fill="#fc8d62" stroke="#ffffff" stroke-width="0.3" stroke-opacity="0.6"/>
<circle cx="120.38" cy="237.46" r="1.6" fill="#8da0cb" stroke="#ffffff" stroke-width="0.3" stroke-opacity="0.6"/>
<circle cx="106.26" cy="219.02" r="1.6" fill="#8da0cb" stroke="#ffffff" stroke-width="0.3" stroke-opacity="0.6"/>
<circle cx="77.79" cy="219.13" r="1.6" fill="#e78ac3" stroke="#ffffff" stroke-width="0.3" stroke-opacity="0.6"/>
<circle cx="88.39" cy="229.19" r="1.6" fill="#8da0cb" stroke="#ffffff" stroke-width="0.3" stroke-opacity="0.6"/>
<circle cx="150.33" cy="286.99" r="1.6" fill="#66c2a5" stroke="#ffffff" stroke-width="0.3" stroke-opacity="0.6"/>
<circle cx="142.72" cy="290.54" r="1.6" fill="#66c2a5" stroke="#ffffff" stroke-width="0.3" stroke-opacity="0.6"/>
<circle cx="144.40" cy="254.68" r="1.6" fill="#fc8d62" stroke="#ffffff" stroke-width="0.3" stroke-opacity="0.6"/>
<circle cx="125.60" cy="235.70" r="1.6" fill="#8da0cb" stroke="#ffffff" stroke-width="0.3" stroke-opacity="0.6"/>
<circle cx="101.11" cy="247.79" r="1.6" fill="#fc8d62" stroke="#ffffff" stroke-width="0.3" stroke-opacity="0.6"/>
<circle cx="117.62" cy="244.86" r="1.6" fill="#fc8d62" stroke="#ffffff" stroke-width="0.3" stroke-opacity="0.6"/>
<circle cx="106.55" cy="247.29" r="1.6" fill="#fc8d62" stroke="#ffffff" stroke-width="0.3" stroke-opacity="0.6"/>
<circle cx="86.54" cy="244.34" r="1.6" fill="#fc8d62" stroke="#ffffff" stroke-width="0.3" stroke-opacity="0.6"/>
<circle cx="110.01" cy="219.13" r="1.6" fill="#8da0cb" stroke="#ffffff" stroke-width="0.3" stroke-opacity="0.6"/>
<circle cx="137.28" cy="272.81" r="1.6" fill="#66c2a5" stroke="#ffffff" stroke-width="0.3" stroke-opacity="0.6"/>
<circle cx="134.12" cy="269.47" r="1.6" fill="#66c2a5" stroke="#ffffff" stroke-width="0.3" stroke-opacity="0.6"/>
<circle cx="140.58" cy="280.54" r="1.6" fill="#66c2a5" stroke="#ffffff" stroke-width="0.3" stroke-opacity="0.6"/>
<circle cx="83.22" cy="244.35" r="1.6" fill="#8da0cb" stroke="#ffffff" stroke-width="0.3" stroke-opacity="0.6"/>
<circle cx="146.47" cy="275.85" r="1.6" fill="#66c2a5" stroke="#ffffff" stroke-width="0.3" stroke-opacity="0.6"/>
<circle cx="147.56" cy="303.91" r="1.6" fill="#66c2a5" stroke="#ffffff" stroke-width="0.3" stroke-opacity="0.6"/>
<circle cx="55.75" cy="195.12" r="1.6" fill="#e78ac3" stroke="#ffffff" stroke-width="0.3" stroke-opacity="0.6"/>
<circle cx="122.36" cy="231.08" r="1.6" fill="#8da0cb" stroke="#ffffff" stroke-width="0.3" stroke-opacity="0.6"/>
<circle cx="87.67" cy="207.69" r="1.6" fill="#e78ac3" stroke="#ffffff" stroke-width="0.3" stroke-opacity="0.6"/>
<circle cx="105.95" cy="214.87" r="1.6" fill="#8da0cb" stroke="#ffffff" stroke-width="0.3" stroke-opacity="0.6"/>
<circle cx="62.02" cy="200.63" r="1.6" fill="#e78ac3" stroke="#ffffff" stroke-width="0.3" stroke-opacity="0.6"/>
<circle cx="138.06" cy="277.64" r="1.6" fill="#66c2a5" stroke="#ffffff" stroke-width="0.3" stroke-opacity="0.6"/>
<rect x="41.50" y="186.40" width="125.80" height="125.90" fill="none" stroke="#8c8c8c" stroke-width="0.8"/>
<line x1="42.70" y1="312.30" x2="42.70" y2="314.30" stroke="#8c8c8c" stroke-width="0.8"/>
<text x="42.70" y="324.10" font-size="10.8" text-anchor="middle" font-weight="normal" >-15</text>
<line x1="68.10" y1="312.30" x2="68.10" y2="314.30" stroke="#8c8c8c" stroke-width="0.8"/>
<text x="68.10" y="324.10" font-size="10.8" text-anchor="middle" font-weight="normal" >-10</text>
<line x1="93.50" y1="312.30" x2="93.50" y2="314.30" stroke="#8c8c8c" stroke-width="0.8"/>
<text x="93.50" y="324.10" font-size="10.8" text-anchor="middle" font-weight="normal" >-5</text>
<line x1="118.90" y1="312.30" x2="118.90" y2="314.30" stroke="#8c8c8c" stroke-width="0.8"/>
<text x="118.90" y="324.10" font-size="10.8" text-anchor="middle" font-weight="normal" >0</text>
<line x1="144.30" y1="312.30" x2="144.30" y2="314.30" stroke="#8c8c8c" stroke-width="0.8"/>
<text x="144.30" y="324.10" font-size="10.8" text-anchor="middle" font-weight="normal" >5</text>
<line x1="39.50" y1="193.46" x2="41.50" y2="193.46" stroke="#8c8c8c" stroke-width="0.8"/>
<text x="36.30" y="196.96" font-size="10.8" text-anchor="end" font-weight="normal" >20</text>
<line x1="39.50" y1="209.14" x2="41.50" y2="209.14" stroke="#8c8c8c" stroke-width="0.8"/>
<text x="36.30" y="212.64" font-size="10.8" text-anchor="end" font-weight="normal" >15</text>
<line x1="39.50" y1="224.83" x2="41.50" y2="224.83" stroke="#8c8c8c" stroke-width="0.8"/>
<text x="36.30" y="228.33" font-size="10.8" text-anchor="end" font-weight="normal" >10</text>
<line x1="39.50" y1="240.51" x2="41.50" y2="240.51" stroke="#8c8c8c" stroke-width="0.8"/>
<text x="36.30" y="244.01" font-size="10.8" text-anchor="end" font-weight="normal" >5</text>
<line x1="39.50" y1="256.20" x2="41.50" y2="256.20" stroke="#8c8c8c" stroke-width="0.8"/>
<text x="36.30" y="259.70" font-size="10.8" text-anchor="end" font-weight="normal" >0</text>
<line x1="39.50" y1="271.88" x2="41.50" y2="271.88" stroke="#8c8c8c" stroke-width="0.8"/>
<text x="36.30" y="275.38" font-size="10.8" text-anchor="end" font-weight="normal" >-5</text>
<line x1="39.50" y1="287.57" x2="41.50" y2="287.57" stroke="#8c8c8c" stroke-width="0.8"/>
<text x="36.30" y="291.07" font-size="10.8" text-anchor="end" font-weight="normal" >-10</text>
<line x1="39.50" y1="303.25" x2="41.50" y2="303.25" stroke="#8c8c8c" stroke-width="0.8"/>
<text x="36.30" y="306.75" font-size="10.8" text-anchor="end" font-weight="normal" >-15</text>
<text x="102.00" y="339.60" font-size="10.5" text-anchor="middle" font-weight="normal" >MDS1</text>
<text transform="translate(11.7,248.5) rotate(-90)" font-size="10.9" text-anchor="middle">MDS2</text>
<circle cx="48.3" cy="260.20" r="2.5" fill="#66c2a5"/>
<text x="53.20" y="264.00" font-size="10.75" text-anchor="start" font-weight="normal" >Cluster 0</text>
<circle cx="48.3" cy="275.00" r="2.5" fill="#fc8d62"/>
<text x="53.20" y="278.80" font-size="10.75" text-anchor="start" font-weight="normal" >Cluster 1</text>
<circle cx="48.3" cy="289.80" r="2.5" fill="#8da0cb"/>
<text x="53.20" y="293.60" font-size="10.75" text-anchor="start" font-weight="normal" >Cluster 2</text>
<circle cx="48.3" cy="304.60" r="2.5" fill="#e78ac3"/>
<text x="53.20" y="308.40" font-size="10.75" text-anchor="start" font-weight="normal" >Cluster 3</text>
<polygon points="268.00,132.40 274.60,131.40 279.00,129.20 281.90,125.60 284.80,119.80 286.20,114.00 287.70,109.60 289.10,106.70 292.00,103.80 294.90,100.90 297.10,98.00 300.00,95.50 302.20,91.50 305.00,89.00 307.20,88.40 308.50,89.50 310.70,93.90 315.40,98.60 323.00,99.50 326.70,98.60 330.50,94.80 333.00,92.10 335.20,91.00 337.40,90.40 338.80,91.00 338.80,132.40" fill="#66c2a5" fill-opacity="0.25"/>
<polygon points="223.30,132.40 226.00,131.20 250.00,131.10 271.70,129.90 276.10,128.50 279.70,125.60 282.60,119.80 284.80,112.50 287.00,103.80 288.40,96.60 289.90,89.30 291.30,85.00 293.70,77.00 296.00,72.00 297.20,70.30 299.50,66.00 300.50,63.00 302.60,54.80 304.30,47.00 306.00,40.00 308.90,36.00 310.80,29.50 313.70,26.60 320.50,23.70 328.30,20.40 330.60,19.20 334.10,23.70 338.00,27.60 338.80,28.50 338.80,132.40" fill="#fc8d62" fill-opacity="0.25"/>
<polyline points="223.30,132.60 328.10,132.30 331.60,130.60 333.90,127.40 334.50,128.20 335.60,122.70 336.20,120.40 336.80,121.60 337.40,117.00 338.50,110.00" fill="none" stroke="#66c2a5" stroke-width="1.1" stroke-linejoin="round"/>
<polyline points="223.30,132.60 240.00,132.40 246.00,132.00 250.00,131.70 254.30,129.90 258.70,127.80 263.00,125.60 266.70,123.00 269.60,120.50 271.70,118.30 273.90,118.60 276.10,114.70 277.50,116.20 279.70,113.30 281.90,111.10 284.80,109.60 287.70,106.00 290.60,102.40 293.50,99.50 296.40,95.90 297.80,95.40 300.30,95.60 326.10,95.90 327.40,93.90 328.70,94.70 330.40,93.00 332.10,88.60 333.90,80.00 334.70,73.90 335.60,78.20 336.50,69.50 337.40,60.80 338.60,51.30" fill="none" stroke="#fc8d62" stroke-width="1.1" stroke-linejoin="round"/>
<rect x="217.50" y="13.60" width="127.10" height="125.70" fill="none" stroke="#8c8c8c" stroke-width="0.8"/>
<line x1="223.30" y1="139.30" x2="223.30" y2="141.30" stroke="#8c8c8c" stroke-width="0.8"/>
<text x="223.30" y="153.00" font-size="10.8" text-anchor="middle" font-weight="normal" >0</text>
<line x1="249.45" y1="139.30" x2="249.45" y2="141.30" stroke="#8c8c8c" stroke-width="0.8"/>
<text x="249.45" y="153.00" font-size="10.8" text-anchor="middle" font-weight="normal" >10</text>
<line x1="275.60" y1="139.30" x2="275.60" y2="141.30" stroke="#8c8c8c" stroke-width="0.8"/>
<text x="275.60" y="153.00" font-size="10.8" text-anchor="middle" font-weight="normal" >20</text>
<line x1="301.75" y1="139.30" x2="301.75" y2="141.30" stroke="#8c8c8c" stroke-width="0.8"/>
<text x="301.75" y="153.00" font-size="10.8" text-anchor="middle" font-weight="normal" >30</text>
<line x1="327.90" y1="139.30" x2="327.90" y2="141.30" stroke="#8c8c8c" stroke-width="0.8"/>
<text x="327.90" y="153.00" font-size="10.8" text-anchor="middle" font-weight="normal" >40</text>
<line x1="215.50" y1="132.40" x2="217.50" y2="132.40" stroke="#8c8c8c" stroke-width="0.8"/>
<text x="211.20" y="135.90" font-size="10.8" text-anchor="end" font-weight="normal" >0.0</text>
<line x1="215.50" y1="112.58" x2="217.50" y2="112.58" stroke="#8c8c8c" stroke-width="0.8"/>
<text x="211.20" y="116.08" font-size="10.8" text-anchor="end" font-weight="normal" >0.2</text>
<line x1="215.50" y1="92.77" x2="217.50" y2="92.77" stroke="#8c8c8c" stroke-width="0.8"/>
<text x="211.20" y="96.27" font-size="10.8" text-anchor="end" font-weight="normal" >0.4</text>
<line x1="215.50" y1="72.95" x2="217.50" y2="72.95" stroke="#8c8c8c" stroke-width="0.8"/>
<text x="211.20" y="76.45" font-size="10.8" text-anchor="end" font-weight="normal" >0.6</text>
<line x1="215.50" y1="53.14" x2="217.50" y2="53.14" stroke="#8c8c8c" stroke-width="0.8"/>
<text x="211.20" y="56.64" font-size="10.8" text-anchor="end" font-weight="normal" >0.8</text>
<line x1="215.50" y1="33.32" x2="217.50" y2="33.32" stroke="#8c8c8c" stroke-width="0.8"/>
<text x="211.20" y="36.82" font-size="10.8" text-anchor="end" font-weight="normal" >1.0</text>
<text x="211.20" y="17.00" font-size="10.8" text-anchor="end" font-weight="normal" >1.2</text>
<text x="276.40" y="168.30" font-size="10.75" text-anchor="middle" font-weight="normal" >Time (h)</text>
<text transform="translate(185.9,70.3) rotate(-90)" font-size="10.9" text-anchor="middle">OD<tspan font-size="8" dy="2.3">600</tspan><tspan dy="-2.3"> (a.u.)</tspan></text>
<line x1="222.8" y1="24.6" x2="238.3" y2="24.6" stroke="#66c2a5" stroke-width="1.5"/>
<line x1="222.8" y1="39.6" x2="238.3" y2="39.6" stroke="#fc8d62" stroke-width="1.5"/>
<text x="242.20" y="28.40" font-size="10.75" text-anchor="start" font-weight="normal" >Cluster 0</text>
<text x="242.20" y="43.40" font-size="10.75" text-anchor="start" font-weight="normal" >Cluster 1</text>
<polygon points="278.00,306.80 281.80,300.30 285.40,296.70 289.00,291.30 292.60,284.10 296.20,275.10 298.00,270.60 301.50,269.70 305.10,267.10 308.70,264.40 311.40,263.50 314.10,265.30 315.90,268.00 321.30,268.90 326.70,269.70 332.10,269.70 334.80,267.10 337.50,266.20 340.10,266.50 340.70,266.50 340.70,306.80" fill="#66c2a5" fill-opacity="0.25"/>
<polygon points="278.00,306.80 285.00,303.00 290.00,298.00 295.00,285.00 298.00,262.00 300.00,252.00 305.00,249.00 310.00,247.00 312.00,240.00 312.50,215.00 313.50,206.00 316.00,204.50 322.00,203.60 327.80,198.70 333.50,199.70 338.00,203.00 340.40,206.50 340.70,207.00 340.70,306.80" fill="#fc8d62" fill-opacity="0.25"/>
<polygon points="277.00,306.80 278.30,305.60 280.00,295.20 281.20,283.60 281.80,272.00 283.00,262.00 285.00,255.00 287.10,249.00 289.00,246.00 291.30,245.60 293.00,247.30 294.80,250.00 297.00,248.00 299.00,240.00 300.50,225.00 301.50,212.00 303.50,203.00 306.60,200.10 311.00,198.00 316.70,195.80 320.40,194.30 322.50,196.50 324.70,199.40 330.00,204.00 335.00,210.00 340.40,215.00 340.40,306.80" fill="#8da0cb" fill-opacity="0.25"/>
<polygon points="240.00,306.80 250.00,306.00 253.90,304.50 257.40,301.00 259.10,295.20 260.30,283.60 260.90,272.00 262.80,262.00 263.30,255.30 264.50,253.60 265.70,256.40 267.50,252.00 269.10,242.00 269.70,239.60 270.80,232.80 271.90,228.20 275.40,222.40 278.30,217.80 281.20,216.00 282.90,215.40 284.10,216.60 285.80,219.50 288.10,222.40 292.80,223.60 298.60,223.00 308.30,220.00 318.00,219.10 327.80,217.20 340.40,217.20 340.40,243.00 330.00,246.00 320.00,249.00 310.00,251.00 305.00,255.00 300.00,262.00 296.00,272.00 292.00,288.00 289.00,300.00 287.00,306.80" fill="#e78ac3" fill-opacity="0.25"/>
<polyline points="226.10,306.60 333.40,306.50 337.60,302.60 339.70,294.20 340.70,284.80" fill="none" stroke="#66c2a5" stroke-width="1.1" stroke-linejoin="round"/>
<polyline points="226.10,306.80 257.40,306.60 269.00,305.60 274.80,304.50 280.60,302.70 286.40,299.80 290.00,297.50 293.80,292.10 300.00,282.80 304.20,278.60 310.50,276.50 320.90,276.50 322.00,278.00 323.00,275.80 331.40,275.50 334.50,272.30 336.60,267.10 338.70,256.70 339.70,248.30 340.70,240.00 341.00,228.00" fill="none" stroke="#fc8d62" stroke-width="1.1" stroke-linejoin="round"/>
<polyline points="226.10,306.60 251.60,306.20 257.40,305.60 263.20,303.30 269.00,301.00 273.60,298.90 278.30,294.00 281.20,290.60 283.50,287.10 284.10,282.40 284.70,285.90 286.40,284.80 290.00,282.40 294.80,274.40 300.00,266.10 305.30,260.90 310.50,254.60 316.80,250.40 322.00,249.40 326.10,247.30 328.20,243.10 329.30,240.00 329.70,236.60 330.70,220.00 331.60,236.00 332.60,239.50 336.50,239.50 338.40,242.00 339.40,248.30 340.40,252.00" fill="none" stroke="#8da0cb" stroke-width="1.1" stroke-linejoin="round"/>
<polyline points="226.10,306.60 240.00,306.20 249.30,305.60 252.80,304.50 255.10,302.70 257.40,300.40 259.70,295.80 261.50,290.60 263.20,285.30 264.90,282.40 266.70,277.80 268.40,272.00 269.70,268.60 271.40,262.80 273.20,257.60 274.90,253.60 277.20,249.50 279.60,247.80 281.90,245.40 284.20,242.00 285.40,240.80 290.00,240.20 322.90,240.30 326.80,232.70 327.80,224.90 328.70,230.00 330.70,230.80 335.50,232.70 338.40,238.50 340.40,246.30" fill="none" stroke="#e78ac3" stroke-width="1.1" stroke-linejoin="round"/>
<rect x="220.50" y="188.50" width="126.10" height="124.10" fill="none" stroke="#8c8c8c" stroke-width="0.8"/>
<line x1="226.10" y1="312.60" x2="226.10" y2="314.60" stroke="#8c8c8c" stroke-width="0.8"/>
<text x="226.10" y="327.00" font-size="10.8" text-anchor="middle" font-weight="normal" >0</text>
<line x1="252.18" y1="312.60" x2="252.18" y2="314.60" stroke="#8c8c8c" stroke-width="0.8"/>
<text x="252.18" y="327.00" font-size="10.8" text-anchor="middle" font-weight="normal" >10</text>
<line x1="278.26" y1="312.60" x2="278.26" y2="314.60" stroke="#8c8c8c" stroke-width="0.8"/>
<text x="278.26" y="327.00" font-size="10.8" text-anchor="middle" font-weight="normal" >20</text>
<line x1="304.34" y1="312.60" x2="304.34" y2="314.60" stroke="#8c8c8c" stroke-width="0.8"/>
<text x="304.34" y="327.00" font-size="10.8" text-anchor="middle" font-weight="normal" >30</text>
<line x1="330.42" y1="312.60" x2="330.42" y2="314.60" stroke="#8c8c8c" stroke-width="0.8"/>
<text x="330.42" y="327.00" font-size="10.8" text-anchor="middle" font-weight="normal" >40</text>
<line x1="218.50" y1="307.20" x2="220.50" y2="307.20" stroke="#8c8c8c" stroke-width="0.8"/>
<text x="214.20" y="310.70" font-size="10.8" text-anchor="end" font-weight="normal" >0.0</text>
<line x1="218.50" y1="287.38" x2="220.50" y2="287.38" stroke="#8c8c8c" stroke-width="0.8"/>
<text x="214.20" y="290.88" font-size="10.8" text-anchor="end" font-weight="normal" >0.2</text>
<line x1="218.50" y1="267.57" x2="220.50" y2="267.57" stroke="#8c8c8c" stroke-width="0.8"/>
<text x="214.20" y="271.07" font-size="10.8" text-anchor="end" font-weight="normal" >0.4</text>
<line x1="218.50" y1="247.75" x2="220.50" y2="247.75" stroke="#8c8c8c" stroke-width="0.8"/>
<text x="214.20" y="251.25" font-size="10.8" text-anchor="end" font-weight="normal" >0.6</text>
<line x1="218.50" y1="227.94" x2="220.50" y2="227.94" stroke="#8c8c8c" stroke-width="0.8"/>
<text x="214.20" y="231.44" font-size="10.8" text-anchor="end" font-weight="normal" >0.8</text>
<line x1="218.50" y1="208.12" x2="220.50" y2="208.12" stroke="#8c8c8c" stroke-width="0.8"/>
<text x="214.20" y="211.62" font-size="10.8" text-anchor="end" font-weight="normal" >1.0</text>
<text x="214.20" y="191.80" font-size="10.8" text-anchor="end" font-weight="normal" >1.2</text>
<text x="279.20" y="341.90" font-size="10.75" text-anchor="middle" font-weight="normal" >Time (h)</text>
<text transform="translate(188.1,245.2) rotate(-90)" font-size="10.9" text-anchor="middle">OD<tspan font-size="8" dy="2.3">600</tspan><tspan dy="-2.3"> (a.u.)</tspan></text>
<line x1="224.8" y1="197.20" x2="240.6" y2="197.20" stroke="#66c2a5" stroke-width="1.5"/>
<text x="246.30" y="200.90" font-size="10.75" text-anchor="start" font-weight="normal" >Cluster 0</text>
<line x1="224.8" y1="210.15" x2="240.6" y2="210.15" stroke="#fc8d62" stroke-width="1.5"/>
<text x="246.30" y="213.85" font-size="10.75" text-anchor="start" font-weight="normal" >Cluster 1</text>
<line x1="224.8" y1="223.10" x2="240.6" y2="223.10" stroke="#8da0cb" stroke-width="1.5"/>
<text x="246.30" y="226.80" font-size="10.75" text-anchor="start" font-weight="normal" >Cluster 2</text>
<line x1="224.8" y1="236.05" x2="240.6" y2="236.05" stroke="#e78ac3" stroke-width="1.5"/>
<text x="246.30" y="239.75" font-size="10.75" text-anchor="start" font-weight="normal" >Cluster 3</text>
<rect x="387.10" y="27.00" width="10.27" height="25.15" fill="#66c2a5"/>
<rect x="397.32" y="27.00" width="10.27" height="25.15" fill="#66c2a5"/>
<rect x="407.55" y="27.00" width="10.27" height="25.15" fill="#fc8d62"/>
<rect x="417.77" y="27.00" width="10.27" height="25.15" fill="#fc8d62"/>
<rect x="428.00" y="27.00" width="10.27" height="25.15" fill="#fc8d62"/>
<rect x="438.22" y="27.00" width="10.27" height="25.15" fill="#66c2a5"/>
<rect x="448.44" y="27.00" width="10.27" height="25.15" fill="#66c2a5"/>
<rect x="458.67" y="27.00" width="10.27" height="25.15" fill="#fc8d62"/>
<rect x="468.89" y="27.00" width="10.27" height="25.15" fill="#fc8d62"/>
<rect x="479.12" y="27.00" width="10.27" height="25.15" fill="#fc8d62"/>
<rect x="489.34" y="27.00" width="10.27" height="25.15" fill="#fc8d62"/>
<rect x="499.57" y="27.00" width="10.27" height="25.15" fill="#fc8d62"/>
<rect x="509.79" y="27.00" width="10.27" height="25.15" fill="#fc8d62"/>
<rect x="520.01" y="27.00" width="10.27" height="25.15" fill="#fc8d62"/>
<rect x="530.24" y="27.00" width="10.27" height="25.15" fill="#fc8d62"/>
<rect x="540.46" y="27.00" width="10.27" height="25.15" fill="#fc8d62"/>
<rect x="550.69" y="27.00" width="10.27" height="25.15" fill="#fc8d62"/>
<rect x="560.91" y="27.00" width="10.27" height="25.15" fill="#fc8d62"/>
<rect x="571.13" y="27.00" width="10.27" height="25.15" fill="#fc8d62"/>
<rect x="581.36" y="27.00" width="10.27" height="25.15" fill="#fc8d62"/>
<rect x="591.58" y="27.00" width="10.27" height="25.15" fill="#66c2a5"/>
<rect x="601.81" y="27.00" width="10.27" height="25.15" fill="#66c2a5"/>
<rect x="612.03" y="27.00" width="10.27" height="25.15" fill="#fc8d62"/>
<rect x="622.26" y="27.00" width="10.27" height="25.15" fill="#fc8d62"/>
<rect x="632.48" y="27.00" width="10.27" height="25.15" fill="#fc8d62"/>
<rect x="642.70" y="27.00" width="10.27" height="25.15" fill="#66c2a5"/>
<rect x="652.93" y="27.00" width="10.27" height="25.15" fill="#66c2a5"/>
<rect x="663.15" y="27.00" width="10.27" height="25.15" fill="#66c2a5"/>
<rect x="673.38" y="27.00" width="10.27" height="25.15" fill="#fc8d62"/>
<rect x="387.10" y="52.10" width="10.27" height="25.15" fill="#fc8d62"/>
<rect x="397.32" y="52.10" width="10.27" height="25.15" fill="#fc8d62"/>
<rect x="407.55" y="52.10" width="10.27" height="25.15" fill="#fc8d62"/>
<rect x="417.77" y="52.10" width="10.27" height="25.15" fill="#fc8d62"/>
<rect x="428.00" y="52.10" width="10.27" height="25.15" fill="#fc8d62"/>
<rect x="438.22" y="52.10" width="10.27" height="25.15" fill="#66c2a5"/>
<rect x="448.44" y="52.10" width="10.27" height="25.15" fill="#66c2a5"/>
<rect x="458.67" y="52.10" width="10.27" height="25.15" fill="#fc8d62"/>
<rect x="468.89" y="52.10" width="10.27" height="25.15" fill="#fc8d62"/>
<rect x="479.12" y="52.10" width="10.27" height="25.15" fill="#66c2a5"/>
<rect x="489.34" y="52.10" width="10.27" height="25.15" fill="#fc8d62"/>
<rect x="499.57" y="52.10" width="10.27" height="25.15" fill="#fc8d62"/>
<rect x="509.79" y="52.10" width="10.27" height="25.15" fill="#fc8d62"/>
<rect x="520.01" y="52.10" width="10.27" height="25.15" fill="#fc8d62"/>
<rect x="530.24" y="52.10" width="10.27" height="25.15" fill="#fc8d62"/>
<rect x="540.46" y="52.10" width="10.27" height="25.15" fill="#fc8d62"/>
<rect x="550.69" y="52.10" width="10.27" height="25.15" fill="#fc8d62"/>
<rect x="560.91" y="52.10" width="10.27" height="25.15" fill="#fc8d62"/>
<rect x="571.13" y="52.10" width="10.27" height="25.15" fill="#fc8d62"/>
<rect x="581.36" y="52.10" width="10.27" height="25.15" fill="#fc8d62"/>
<rect x="591.58" y="52.10" width="10.27" height="25.15" fill="#fc8d62"/>
<rect x="601.81" y="52.10" width="10.27" height="25.15" fill="#66c2a5"/>
<rect x="612.03" y="52.10" width="10.27" height="25.15" fill="#fc8d62"/>
<rect x="622.26" y="52.10" width="10.27" height="25.15" fill="#fc8d62"/>
<rect x="632.48" y="52.10" width="10.27" height="25.15" fill="#fc8d62"/>
<rect x="642.70" y="52.10" width="10.27" height="25.15" fill="#66c2a5"/>
<rect x="652.93" y="52.10" width="10.27" height="25.15" fill="#66c2a5"/>
<rect x="663.15" y="52.10" width="10.27" height="25.15" fill="#66c2a5"/>
<rect x="673.38" y="52.10" width="10.27" height="25.15" fill="#fc8d62"/>
<rect x="387.10" y="77.20" width="10.27" height="25.15" fill="#fc8d62"/>
<rect x="397.32" y="77.20" width="10.27" height="25.15" fill="#fc8d62"/>
<rect x="407.55" y="77.20" width="10.27" height="25.15" fill="#fc8d62"/>
<rect x="417.77" y="77.20" width="10.27" height="25.15" fill="#fc8d62"/>
<rect x="428.00" y="77.20" width="10.27" height="25.15" fill="#fc8d62"/>
<rect x="438.22" y="77.20" width="10.27" height="25.15" fill="#66c2a5"/>
<rect x="448.44" y="77.20" width="10.27" height="25.15" fill="#66c2a5"/>
<rect x="458.67" y="77.20" width="10.27" height="25.15" fill="#fc8d62"/>
<rect x="468.89" y="77.20" width="10.27" height="25.15" fill="#66c2a5"/>
<rect x="479.12" y="77.20" width="10.27" height="25.15" fill="#66c2a5"/>
<rect x="489.34" y="77.20" width="10.27" height="25.15" fill="#fc8d62"/>
<rect x="499.57" y="77.20" width="10.27" height="25.15" fill="#fc8d62"/>
<rect x="509.79" y="77.20" width="10.27" height="25.15" fill="#fc8d62"/>
<rect x="520.01" y="77.20" width="10.27" height="25.15" fill="#fc8d62"/>
<rect x="530.24" y="77.20" width="10.27" height="25.15" fill="#fc8d62"/>
<rect x="540.46" y="77.20" width="10.27" height="25.15" fill="#fc8d62"/>
<rect x="550.69" y="77.20" width="10.27" height="25.15" fill="#fc8d62"/>
<rect x="560.91" y="77.20" width="10.27" height="25.15" fill="#fc8d62"/>
<rect x="571.13" y="77.20" width="10.27" height="25.15" fill="#fc8d62"/>
<rect x="581.36" y="77.20" width="10.27" height="25.15" fill="#fc8d62"/>
<rect x="591.58" y="77.20" width="10.27" height="25.15" fill="#66c2a5"/>
<rect x="601.81" y="77.20" width="10.27" height="25.15" fill="#66c2a5"/>
<rect x="612.03" y="77.20" width="10.27" height="25.15" fill="#66c2a5"/>
<rect x="622.26" y="77.20" width="10.27" height="25.15" fill="#fc8d62"/>
<rect x="632.48" y="77.20" width="10.27" height="25.15" fill="#fc8d62"/>
<rect x="642.70" y="77.20" width="10.27" height="25.15" fill="#66c2a5"/>
<rect x="652.93" y="77.20" width="10.27" height="25.15" fill="#66c2a5"/>
<rect x="663.15" y="77.20" width="10.27" height="25.15" fill="#66c2a5"/>
<rect x="673.38" y="77.20" width="10.27" height="25.15" fill="#fc8d62"/>
<rect x="387.10" y="102.30" width="10.27" height="25.15" fill="#66c2a5"/>
<rect x="397.32" y="102.30" width="10.27" height="25.15" fill="#66c2a5"/>
<rect x="407.55" y="102.30" width="10.27" height="25.15" fill="#66c2a5"/>
<rect x="417.77" y="102.30" width="10.27" height="25.15" fill="#fc8d62"/>
<rect x="428.00" y="102.30" width="10.27" height="25.15" fill="#fc8d62"/>
<rect x="438.22" y="102.30" width="10.27" height="25.15" fill="#66c2a5"/>
<rect x="448.44" y="102.30" width="10.27" height="25.15" fill="#66c2a5"/>
<rect x="458.67" y="102.30" width="10.27" height="25.15" fill="#fc8d62"/>
<rect x="468.89" y="102.30" width="10.27" height="25.15" fill="#66c2a5"/>
<rect x="479.12" y="102.30" width="10.27" height="25.15" fill="#66c2a5"/>
<rect x="489.34" y="102.30" width="10.27" height="25.15" fill="#66c2a5"/>
<rect x="499.57" y="102.30" width="10.27" height="25.15" fill="#fc8d62"/>
<rect x="509.79" y="102.30" width="10.27" height="25.15" fill="#fc8d62"/>
<rect x="520.01" y="102.30" width="10.27" height="25.15" fill="#fc8d62"/>
<rect x="530.24" y="102.30" width="10.27" height="25.15" fill="#fc8d62"/>
<rect x="540.46" y="102.30" width="10.27" height="25.15" fill="#fc8d62"/>
<rect x="550.69" y="102.30" width="10.27" height="25.15" fill="#fc8d62"/>
<rect x="560.91" y="102.30" width="10.27" height="25.15" fill="#fc8d62"/>
<rect x="571.13" y="102.30" width="10.27" height="25.15" fill="#fc8d62"/>
<rect x="581.36" y="102.30" width="10.27" height="25.15" fill="#66c2a5"/>
<rect x="591.58" y="102.30" width="10.27" height="25.15" fill="#66c2a5"/>
<rect x="601.81" y="102.30" width="10.27" height="25.15" fill="#66c2a5"/>
<rect x="612.03" y="102.30" width="10.27" height="25.15" fill="#66c2a5"/>
<rect x="622.26" y="102.30" width="10.27" height="25.15" fill="#fc8d62"/>
<rect x="632.48" y="102.30" width="10.27" height="25.15" fill="#fc8d62"/>
<rect x="642.70" y="102.30" width="10.27" height="25.15" fill="#66c2a5"/>
<rect x="652.93" y="102.30" width="10.27" height="25.15" fill="#66c2a5"/>
<rect x="663.15" y="102.30" width="10.27" height="25.15" fill="#66c2a5"/>
<rect x="673.38" y="102.30" width="10.27" height="25.15" fill="#66c2a5"/>
<rect x="387.10" y="127.40" width="10.27" height="25.15" fill="#66c2a5"/>
<rect x="397.32" y="127.40" width="10.27" height="25.15" fill="#66c2a5"/>
<rect x="407.55" y="127.40" width="10.27" height="25.15" fill="#fc8d62"/>
<rect x="417.77" y="127.40" width="10.27" height="25.15" fill="#fc8d62"/>
<rect x="428.00" y="127.40" width="10.27" height="25.15" fill="#fc8d62"/>
<rect x="438.22" y="127.40" width="10.27" height="25.15" fill="#66c2a5"/>
<rect x="448.44" y="127.40" width="10.27" height="25.15" fill="#66c2a5"/>
<rect x="458.67" y="127.40" width="10.27" height="25.15" fill="#fc8d62"/>
<rect x="468.89" y="127.40" width="10.27" height="25.15" fill="#66c2a5"/>
<rect x="479.12" y="127.40" width="10.27" height="25.15" fill="#66c2a5"/>
<rect x="489.34" y="127.40" width="10.27" height="25.15" fill="#66c2a5"/>
<rect x="499.57" y="127.40" width="10.27" height="25.15" fill="#fc8d62"/>
<rect x="509.79" y="127.40" width="10.27" height="25.15" fill="#fc8d62"/>
<rect x="520.01" y="127.40" width="10.27" height="25.15" fill="#fc8d62"/>
<rect x="530.24" y="127.40" width="10.27" height="25.15" fill="#fc8d62"/>
<rect x="540.46" y="127.40" width="10.27" height="25.15" fill="#fc8d62"/>
<rect x="550.69" y="127.40" width="10.27" height="25.15" fill="#fc8d62"/>
<rect x="560.91" y="127.40" width="10.27" height="25.15" fill="#66c2a5"/>
<rect x="571.13" y="127.40" width="10.27" height="25.15" fill="#fc8d62"/>
<rect x="581.36" y="127.40" width="10.27" height="25.15" fill="#66c2a5"/>
<rect x="591.58" y="127.40" width="10.27" height="25.15" fill="#66c2a5"/>
<rect x="601.81" y="127.40" width="10.27" height="25.15" fill="#66c2a5"/>
<rect x="612.03" y="127.40" width="10.27" height="25.15" fill="#fc8d62"/>
<rect x="622.26" y="127.40" width="10.27" height="25.15" fill="#fc8d62"/>
<rect x="632.48" y="127.40" width="10.27" height="25.15" fill="#fc8d62"/>
<rect x="642.70" y="127.40" width="10.27" height="25.15" fill="#66c2a5"/>
<rect x="652.93" y="127.40" width="10.27" height="25.15" fill="#66c2a5"/>
<rect x="663.15" y="127.40" width="10.27" height="25.15" fill="#66c2a5"/>
<rect x="673.38" y="127.40" width="10.27" height="25.15" fill="#66c2a5"/>
<line x1="397.32" y1="27.00" x2="397.32" y2="152.50" stroke="#7f7f7f" stroke-width="0.7"/>
<line x1="407.55" y1="27.00" x2="407.55" y2="152.50" stroke="#7f7f7f" stroke-width="0.7"/>
<line x1="417.77" y1="27.00" x2="417.77" y2="152.50" stroke="#7f7f7f" stroke-width="0.7"/>
<line x1="428.00" y1="27.00" x2="428.00" y2="152.50" stroke="#7f7f7f" stroke-width="0.7"/>
<line x1="438.22" y1="27.00" x2="438.22" y2="152.50" stroke="#7f7f7f" stroke-width="0.7"/>
<line x1="448.44" y1="27.00" x2="448.44" y2="152.50" stroke="#7f7f7f" stroke-width="0.7"/>
<line x1="458.67" y1="27.00" x2="458.67" y2="152.50" stroke="#7f7f7f" stroke-width="0.7"/>
<line x1="468.89" y1="27.00" x2="468.89" y2="152.50" stroke="#7f7f7f" stroke-width="0.7"/>
<line x1="479.12" y1="27.00" x2="479.12" y2="152.50" stroke="#7f7f7f" stroke-width="0.7"/>
<line x1="489.34" y1="27.00" x2="489.34" y2="152.50" stroke="#7f7f7f" stroke-width="0.7"/>
<line x1="499.57" y1="27.00" x2="499.57" y2="152.50" stroke="#7f7f7f" stroke-width="0.7"/>
<line x1="509.79" y1="27.00" x2="509.79" y2="152.50" stroke="#7f7f7f" stroke-width="0.7"/>
<line x1="520.01" y1="27.00" x2="520.01" y2="152.50" stroke="#7f7f7f" stroke-width="0.7"/>
<line x1="530.24" y1="27.00" x2="530.24" y2="152.50" stroke="#7f7f7f" stroke-width="0.7"/>
<line x1="540.46" y1="27.00" x2="540.46" y2="152.50" stroke="#7f7f7f" stroke-width="0.7"/>
<line x1="550.69" y1="27.00" x2="550.69" y2="152.50" stroke="#7f7f7f" stroke-width="0.7"/>
<line x1="560.91" y1="27.00" x2="560.91" y2="152.50" stroke="#7f7f7f" stroke-width="0.7"/>
<line x1="571.13" y1="27.00" x2="571.13" y2="152.50" stroke="#7f7f7f" stroke-width="0.7"/>
<line x1="581.36" y1="27.00" x2="581.36" y2="152.50" stroke="#7f7f7f" stroke-width="0.7"/>
<line x1="591.58" y1="27.00" x2="591.58" y2="152.50" stroke="#7f7f7f" stroke-width="0.7"/>
<line x1="601.81" y1="27.00" x2="601.81" y2="152.50" stroke="#7f7f7f" stroke-width="0.7"/>
<line x1="612.03" y1="27.00" x2="612.03" y2="152.50" stroke="#7f7f7f" stroke-width="0.7"/>
<line x1="622.26" y1="27.00" x2="622.26" y2="152.50" stroke="#7f7f7f" stroke-width="0.7"/>
<line x1="632.48" y1="27.00" x2="632.48" y2="152.50" stroke="#7f7f7f" stroke-width="0.7"/>
<line x1="642.70" y1="27.00" x2="642.70" y2="152.50" stroke="#7f7f7f" stroke-width="0.7"/>
<line x1="652.93" y1="27.00" x2="652.93" y2="152.50" stroke="#7f7f7f" stroke-width="0.7"/>
<line x1="663.15" y1="27.00" x2="663.15" y2="152.50" stroke="#7f7f7f" stroke-width="0.7"/>
<line x1="673.38" y1="27.00" x2="673.38" y2="152.50" stroke="#7f7f7f" stroke-width="0.7"/>
<line x1="387.10" y1="52.10" x2="683.60" y2="52.10" stroke="#7f7f7f" stroke-width="0.7"/>
<line x1="387.10" y1="77.20" x2="683.60" y2="77.20" stroke="#7f7f7f" stroke-width="0.7"/>
<line x1="387.10" y1="102.30" x2="683.60" y2="102.30" stroke="#7f7f7f" stroke-width="0.7"/>
<line x1="387.10" y1="127.40" x2="683.60" y2="127.40" stroke="#7f7f7f" stroke-width="0.7"/>
<line x1="385.30" y1="39.55" x2="387.10" y2="39.55" stroke="#c8c8c8" stroke-width="0.6"/>
<text x="383.30" y="43.25" font-size="10.3" text-anchor="end" font-weight="normal" >N28</text>
<line x1="385.30" y1="64.65" x2="387.10" y2="64.65" stroke="#c8c8c8" stroke-width="0.6"/>
<text x="383.30" y="68.35" font-size="10.3" text-anchor="end" font-weight="normal" >N20</text>
<line x1="385.30" y1="89.75" x2="387.10" y2="89.75" stroke="#c8c8c8" stroke-width="0.6"/>
<text x="383.30" y="93.45" font-size="10.3" text-anchor="end" font-weight="normal" >N14</text>
<line x1="385.30" y1="114.85" x2="387.10" y2="114.85" stroke="#c8c8c8" stroke-width="0.6"/>
<text x="383.30" y="118.55" font-size="10.3" text-anchor="end" font-weight="normal" >N7</text>
<line x1="385.30" y1="139.95" x2="387.10" y2="139.95" stroke="#c8c8c8" stroke-width="0.6"/>
<text x="383.30" y="143.65" font-size="10.3" text-anchor="end" font-weight="normal" >N0</text>
<line x1="392.21" y1="152.50" x2="392.21" y2="154.10" stroke="#c8c8c8" stroke-width="0.6"/>
<line x1="402.44" y1="152.50" x2="402.44" y2="154.10" stroke="#c8c8c8" stroke-width="0.6"/>
<line x1="412.66" y1="152.50" x2="412.66" y2="154.10" stroke="#c8c8c8" stroke-width="0.6"/>
<line x1="422.88" y1="152.50" x2="422.88" y2="154.10" stroke="#c8c8c8" stroke-width="0.6"/>
<line x1="433.11" y1="152.50" x2="433.11" y2="154.10" stroke="#c8c8c8" stroke-width="0.6"/>
<line x1="443.33" y1="152.50" x2="443.33" y2="154.10" stroke="#c8c8c8" stroke-width="0.6"/>
<line x1="453.56" y1="152.50" x2="453.56" y2="154.10" stroke="#c8c8c8" stroke-width="0.6"/>
<line x1="463.78" y1="152.50" x2="463.78" y2="154.10" stroke="#c8c8c8" stroke-width="0.6"/>
<line x1="474.01" y1="152.50" x2="474.01" y2="154.10" stroke="#c8c8c8" stroke-width="0.6"/>
<line x1="484.23" y1="152.50" x2="484.23" y2="154.10" stroke="#c8c8c8" stroke-width="0.6"/>
<line x1="494.45" y1="152.50" x2="494.45" y2="154.10" stroke="#c8c8c8" stroke-width="0.6"/>
<line x1="504.68" y1="152.50" x2="504.68" y2="154.10" stroke="#c8c8c8" stroke-width="0.6"/>
<line x1="514.90" y1="152.50" x2="514.90" y2="154.10" stroke="#c8c8c8" stroke-width="0.6"/>
<line x1="525.13" y1="152.50" x2="525.13" y2="154.10" stroke="#c8c8c8" stroke-width="0.6"/>
<line x1="535.35" y1="152.50" x2="535.35" y2="154.10" stroke="#c8c8c8" stroke-width="0.6"/>
<line x1="545.57" y1="152.50" x2="545.57" y2="154.10" stroke="#c8c8c8" stroke-width="0.6"/>
<line x1="555.80" y1="152.50" x2="555.80" y2="154.10" stroke="#c8c8c8" stroke-width="0.6"/>
<line x1="566.02" y1="152.50" x2="566.02" y2="154.10" stroke="#c8c8c8" stroke-width="0.6"/>
<line x1="576.25" y1="152.50" x2="576.25" y2="154.10" stroke="#c8c8c8" stroke-width="0.6"/>
<line x1="586.47" y1="152.50" x2="586.47" y2="154.10" stroke="#c8c8c8" stroke-width="0.6"/>
<line x1="596.69" y1="152.50" x2="596.69" y2="154.10" stroke="#c8c8c8" stroke-width="0.6"/>
<line x1="606.92" y1="152.50" x2="606.92" y2="154.10" stroke="#c8c8c8" stroke-width="0.6"/>
<line x1="617.14" y1="152.50" x2="617.14" y2="154.10" stroke="#c8c8c8" stroke-width="0.6"/>
<line x1="627.37" y1="152.50" x2="627.37" y2="154.10" stroke="#c8c8c8" stroke-width="0.6"/>
<line x1="637.59" y1="152.50" x2="637.59" y2="154.10" stroke="#c8c8c8" stroke-width="0.6"/>
<line x1="647.82" y1="152.50" x2="647.82" y2="154.10" stroke="#c8c8c8" stroke-width="0.6"/>
<line x1="658.04" y1="152.50" x2="658.04" y2="154.10" stroke="#c8c8c8" stroke-width="0.6"/>
<line x1="668.26" y1="152.50" x2="668.26" y2="154.10" stroke="#c8c8c8" stroke-width="0.6"/>
<line x1="678.49" y1="152.50" x2="678.49" y2="154.10" stroke="#c8c8c8" stroke-width="0.6"/>
<rect x="388.00" y="155.60" width="10.26" height="25.25" fill="#66c2a5"/>
<rect x="398.21" y="155.60" width="10.26" height="25.25" fill="#66c2a5"/>
<rect x="408.41" y="155.60" width="10.26" height="25.25" fill="#fc8d62"/>
<rect x="418.62" y="155.60" width="10.26" height="25.25" fill="#fc8d62"/>
<rect x="428.83" y="155.60" width="10.26" height="25.25" fill="#fc8d62"/>
<rect x="439.03" y="155.60" width="10.26" height="25.25" fill="#66c2a5"/>
<rect x="449.24" y="155.60" width="10.26" height="25.25" fill="#fc8d62"/>
<rect x="459.45" y="155.60" width="10.26" height="25.25" fill="#fc8d62"/>
<rect x="469.66" y="155.60" width="10.26" height="25.25" fill="#fc8d62"/>
<rect x="479.86" y="155.60" width="10.26" height="25.25" fill="#fc8d62"/>
<rect x="490.07" y="155.60" width="10.26" height="25.25" fill="#fc8d62"/>
<rect x="500.28" y="155.60" width="10.26" height="25.25" fill="#fc8d62"/>
<rect x="510.48" y="155.60" width="10.26" height="25.25" fill="#fc8d62"/>
<rect x="520.69" y="155.60" width="10.26" height="25.25" fill="#fc8d62"/>
<rect x="530.90" y="155.60" width="10.26" height="25.25" fill="#fc8d62"/>
<rect x="541.10" y="155.60" width="10.26" height="25.25" fill="#fc8d62"/>
<rect x="551.31" y="155.60" width="10.26" height="25.25" fill="#fc8d62"/>
<rect x="561.52" y="155.60" width="10.26" height="25.25" fill="#fc8d62"/>
<rect x="571.72" y="155.60" width="10.26" height="25.25" fill="#fc8d62"/>
<rect x="581.93" y="155.60" width="10.26" height="25.25" fill="#fc8d62"/>
<rect x="592.14" y="155.60" width="10.26" height="25.25" fill="#66c2a5"/>
<rect x="602.34" y="155.60" width="10.26" height="25.25" fill="#66c2a5"/>
<rect x="612.55" y="155.60" width="10.26" height="25.25" fill="#fc8d62"/>
<rect x="622.76" y="155.60" width="10.26" height="25.25" fill="#fc8d62"/>
<rect x="632.97" y="155.60" width="10.26" height="25.25" fill="#fc8d62"/>
<rect x="643.17" y="155.60" width="10.26" height="25.25" fill="#66c2a5"/>
<rect x="653.38" y="155.60" width="10.26" height="25.25" fill="#66c2a5"/>
<rect x="663.59" y="155.60" width="10.26" height="25.25" fill="#66c2a5"/>
<rect x="673.79" y="155.60" width="10.26" height="25.25" fill="#fc8d62"/>
<rect x="388.00" y="180.80" width="10.26" height="25.25" fill="#8da0cb"/>
<rect x="398.21" y="180.80" width="10.26" height="25.25" fill="#8da0cb"/>
<rect x="408.41" y="180.80" width="10.26" height="25.25" fill="#e78ac3"/>
<rect x="418.62" y="180.80" width="10.26" height="25.25" fill="#e78ac3"/>
<rect x="428.83" y="180.80" width="10.26" height="25.25" fill="#e78ac3"/>
<rect x="439.03" y="180.80" width="10.26" height="25.25" fill="#66c2a5"/>
<rect x="449.24" y="180.80" width="10.26" height="25.25" fill="#66c2a5"/>
<rect x="459.45" y="180.80" width="10.26" height="25.25" fill="#8da0cb"/>
<rect x="469.66" y="180.80" width="10.26" height="25.25" fill="#e78ac3"/>
<rect x="479.86" y="180.80" width="10.26" height="25.25" fill="#66c2a5"/>
<rect x="490.07" y="180.80" width="10.26" height="25.25" fill="#fc8d62"/>
<rect x="500.28" y="180.80" width="10.26" height="25.25" fill="#e78ac3"/>
<rect x="510.48" y="180.80" width="10.26" height="25.25" fill="#e78ac3"/>
<rect x="520.69" y="180.80" width="10.26" height="25.25" fill="#8da0cb"/>
<rect x="530.90" y="180.80" width="10.26" height="25.25" fill="#e78ac3"/>
<rect x="541.10" y="180.80" width="10.26" height="25.25" fill="#e78ac3"/>
<rect x="551.31" y="180.80" width="10.26" height="25.25" fill="#e78ac3"/>
<rect x="561.52" y="180.80" width="10.26" height="25.25" fill="#e78ac3"/>
<rect x="571.72" y="180.80" width="10.26" height="25.25" fill="#e78ac3"/>
<rect x="581.93" y="180.80" width="10.26" height="25.25" fill="#8da0cb"/>
<rect x="592.14" y="180.80" width="10.26" height="25.25" fill="#8da0cb"/>
<rect x="602.34" y="180.80" width="10.26" height="25.25" fill="#66c2a5"/>
<rect x="612.55" y="180.80" width="10.26" height="25.25" fill="#fc8d62"/>
<rect x="622.76" y="180.80" width="10.26" height="25.25" fill="#e78ac3"/>
<rect x="632.97" y="180.80" width="10.26" height="25.25" fill="#8da0cb"/>
<rect x="643.17" y="180.80" width="10.26" height="25.25" fill="#66c2a5"/>
<rect x="653.38" y="180.80" width="10.26" height="25.25" fill="#66c2a5"/>
<rect x="663.59" y="180.80" width="10.26" height="25.25" fill="#66c2a5"/>
<rect x="673.79" y="180.80" width="10.26" height="25.25" fill="#8da0cb"/>
<rect x="388.00" y="206.00" width="10.26" height="25.25" fill="#8da0cb"/>
<rect x="398.21" y="206.00" width="10.26" height="25.25" fill="#8da0cb"/>
<rect x="408.41" y="206.00" width="10.26" height="25.25" fill="#8da0cb"/>
<rect x="418.62" y="206.00" width="10.26" height="25.25" fill="#8da0cb"/>
<rect x="428.83" y="206.00" width="10.26" height="25.25" fill="#8da0cb"/>
<rect x="439.03" y="206.00" width="10.26" height="25.25" fill="#66c2a5"/>
<rect x="449.24" y="206.00" width="10.26" height="25.25" fill="#66c2a5"/>
<rect x="459.45" y="206.00" width="10.26" height="25.25" fill="#8da0cb"/>
<rect x="469.66" y="206.00" width="10.26" height="25.25" fill="#66c2a5"/>
<rect x="479.86" y="206.00" width="10.26" height="25.25" fill="#66c2a5"/>
<rect x="490.07" y="206.00" width="10.26" height="25.25" fill="#fc8d62"/>
<rect x="500.28" y="206.00" width="10.26" height="25.25" fill="#8da0cb"/>
<rect x="510.48" y="206.00" width="10.26" height="25.25" fill="#8da0cb"/>
<rect x="520.69" y="206.00" width="10.26" height="25.25" fill="#8da0cb"/>
<rect x="530.90" y="206.00" width="10.26" height="25.25" fill="#8da0cb"/>
<rect x="541.10" y="206.00" width="10.26" height="25.25" fill="#8da0cb"/>
<rect x="551.31" y="206.00" width="10.26" height="25.25" fill="#8da0cb"/>
<rect x="561.52" y="206.00" width="10.26" height="25.25" fill="#8da0cb"/>
<rect x="571.72" y="206.00" width="10.26" height="25.25" fill="#8da0cb"/>
<rect x="581.93" y="206.00" width="10.26" height="25.25" fill="#fc8d62"/>
<rect x="592.14" y="206.00" width="10.26" height="25.25" fill="#66c2a5"/>
<rect x="602.34" y="206.00" width="10.26" height="25.25" fill="#66c2a5"/>
<rect x="612.55" y="206.00" width="10.26" height="25.25" fill="#66c2a5"/>
<rect x="622.76" y="206.00" width="10.26" height="25.25" fill="#e78ac3"/>
<rect x="632.97" y="206.00" width="10.26" height="25.25" fill="#e78ac3"/>
<rect x="643.17" y="206.00" width="10.26" height="25.25" fill="#66c2a5"/>
<rect x="653.38" y="206.00" width="10.26" height="25.25" fill="#66c2a5"/>
<rect x="663.59" y="206.00" width="10.26" height="25.25" fill="#66c2a5"/>
<rect x="673.79" y="206.00" width="10.26" height="25.25" fill="#fc8d62"/>
<rect x="388.00" y="231.20" width="10.26" height="25.25" fill="#66c2a5"/>
<rect x="398.21" y="231.20" width="10.26" height="25.25" fill="#66c2a5"/>
<rect x="408.41" y="231.20" width="10.26" height="25.25" fill="#66c2a5"/>
<rect x="418.62" y="231.20" width="10.26" height="25.25" fill="#fc8d62"/>
<rect x="428.83" y="231.20" width="10.26" height="25.25" fill="#fc8d62"/>
<rect x="439.03" y="231.20" width="10.26" height="25.25" fill="#66c2a5"/>
<rect x="449.24" y="231.20" width="10.26" height="25.25" fill="#66c2a5"/>
<rect x="459.45" y="231.20" width="10.26" height="25.25" fill="#fc8d62"/>
<rect x="469.66" y="231.20" width="10.26" height="25.25" fill="#66c2a5"/>
<rect x="479.86" y="231.20" width="10.26" height="25.25" fill="#66c2a5"/>
<rect x="490.07" y="231.20" width="10.26" height="25.25" fill="#66c2a5"/>
<rect x="500.28" y="231.20" width="10.26" height="25.25" fill="#fc8d62"/>
<rect x="510.48" y="231.20" width="10.26" height="25.25" fill="#fc8d62"/>
<rect x="520.69" y="231.20" width="10.26" height="25.25" fill="#fc8d62"/>
<rect x="530.90" y="231.20" width="10.26" height="25.25" fill="#fc8d62"/>
<rect x="541.10" y="231.20" width="10.26" height="25.25" fill="#fc8d62"/>
<rect x="551.31" y="231.20" width="10.26" height="25.25" fill="#8da0cb"/>
<rect x="561.52" y="231.20" width="10.26" height="25.25" fill="#8da0cb"/>
<rect x="571.72" y="231.20" width="10.26" height="25.25" fill="#fc8d62"/>
<rect x="581.93" y="231.20" width="10.26" height="25.25" fill="#66c2a5"/>
<rect x="592.14" y="231.20" width="10.26" height="25.25" fill="#66c2a5"/>
<rect x="602.34" y="231.20" width="10.26" height="25.25" fill="#66c2a5"/>
<rect x="612.55" y="231.20" width="10.26" height="25.25" fill="#66c2a5"/>
<rect x="622.76" y="231.20" width="10.26" height="25.25" fill="#8da0cb"/>
<rect x="632.97" y="231.20" width="10.26" height="25.25" fill="#fc8d62"/>
<rect x="643.17" y="231.20" width="10.26" height="25.25" fill="#66c2a5"/>
<rect x="653.38" y="231.20" width="10.26" height="25.25" fill="#66c2a5"/>
<rect x="663.59" y="231.20" width="10.26" height="25.25" fill="#66c2a5"/>
<rect x="673.79" y="231.20" width="10.26" height="25.25" fill="#66c2a5"/>
<rect x="388.00" y="256.40" width="10.26" height="25.25" fill="#66c2a5"/>
<rect x="398.21" y="256.40" width="10.26" height="25.25" fill="#66c2a5"/>
<rect x="408.41" y="256.40" width="10.26" height="25.25" fill="#fc8d62"/>
<rect x="418.62" y="256.40" width="10.26" height="25.25" fill="#fc8d62"/>
<rect x="428.83" y="256.40" width="10.26" height="25.25" fill="#fc8d62"/>
<rect x="439.03" y="256.40" width="10.26" height="25.25" fill="#66c2a5"/>
<rect x="449.24" y="256.40" width="10.26" height="25.25" fill="#66c2a5"/>
<rect x="459.45" y="256.40" width="10.26" height="25.25" fill="#fc8d62"/>
<rect x="469.66" y="256.40" width="10.26" height="25.25" fill="#66c2a5"/>
<rect x="479.86" y="256.40" width="10.26" height="25.25" fill="#66c2a5"/>
<rect x="490.07" y="256.40" width="10.26" height="25.25" fill="#fc8d62"/>
<rect x="500.28" y="256.40" width="10.26" height="25.25" fill="#fc8d62"/>
<rect x="510.48" y="256.40" width="10.26" height="25.25" fill="#fc8d62"/>
<rect x="520.69" y="256.40" width="10.26" height="25.25" fill="#fc8d62"/>
<rect x="530.90" y="256.40" width="10.26" height="25.25" fill="#fc8d62"/>
<rect x="541.10" y="256.40" width="10.26" height="25.25" fill="#fc8d62"/>
<rect x="551.31" y="256.40" width="10.26" height="25.25" fill="#fc8d62"/>
<rect x="561.52" y="256.40" width="10.26" height="25.25" fill="#66c2a5"/>
<rect x="571.72" y="256.40" width="10.26" height="25.25" fill="#8da0cb"/>
<rect x="581.93" y="256.40" width="10.26" height="25.25" fill="#fc8d62"/>
<rect x="592.14" y="256.40" width="10.26" height="25.25" fill="#66c2a5"/>
<rect x="602.34" y="256.40" width="10.26" height="25.25" fill="#66c2a5"/>
<rect x="612.55" y="256.40" width="10.26" height="25.25" fill="#fc8d62"/>
<rect x="622.76" y="256.40" width="10.26" height="25.25" fill="#fc8d62"/>
<rect x="632.97" y="256.40" width="10.26" height="25.25" fill="#fc8d62"/>
<rect x="643.17" y="256.40" width="10.26" height="25.25" fill="#66c2a5"/>
<rect x="653.38" y="256.40" width="10.26" height="25.25" fill="#66c2a5"/>
<rect x="663.59" y="256.40" width="10.26" height="25.25" fill="#66c2a5"/>
<rect x="673.79" y="256.40" width="10.26" height="25.25" fill="#66c2a5"/>
<line x1="398.21" y1="155.60" x2="398.21" y2="281.60" stroke="#7f7f7f" stroke-width="0.7"/>
<line x1="408.41" y1="155.60" x2="408.41" y2="281.60" stroke="#7f7f7f" stroke-width="0.7"/>
<line x1="418.62" y1="155.60" x2="418.62" y2="281.60" stroke="#7f7f7f" stroke-width="0.7"/>
<line x1="428.83" y1="155.60" x2="428.83" y2="281.60" stroke="#7f7f7f" stroke-width="0.7"/>
<line x1="439.03" y1="155.60" x2="439.03" y2="281.60" stroke="#7f7f7f" stroke-width="0.7"/>
<line x1="449.24" y1="155.60" x2="449.24" y2="281.60" stroke="#7f7f7f" stroke-width="0.7"/>
<line x1="459.45" y1="155.60" x2="459.45" y2="281.60" stroke="#7f7f7f" stroke-width="0.7"/>
<line x1="469.66" y1="155.60" x2="469.66" y2="281.60" stroke="#7f7f7f" stroke-width="0.7"/>
<line x1="479.86" y1="155.60" x2="479.86" y2="281.60" stroke="#7f7f7f" stroke-width="0.7"/>
<line x1="490.07" y1="155.60" x2="490.07" y2="281.60" stroke="#7f7f7f" stroke-width="0.7"/>
<line x1="500.28" y1="155.60" x2="500.28" y2="281.60" stroke="#7f7f7f" stroke-width="0.7"/>
<line x1="510.48" y1="155.60" x2="510.48" y2="281.60" stroke="#7f7f7f" stroke-width="0.7"/>
<line x1="520.69" y1="155.60" x2="520.69" y2="281.60" stroke="#7f7f7f" stroke-width="0.7"/>
<line x1="530.90" y1="155.60" x2="530.90" y2="281.60" stroke="#7f7f7f" stroke-width="0.7"/>
<line x1="541.10" y1="155.60" x2="541.10" y2="281.60" stroke="#7f7f7f" stroke-width="0.7"/>
<line x1="551.31" y1="155.60" x2="551.31" y2="281.60" stroke="#7f7f7f" stroke-width="0.7"/>
<line x1="561.52" y1="155.60" x2="561.52" y2="281.60" stroke="#7f7f7f" stroke-width="0.7"/>
<line x1="571.72" y1="155.60" x2="571.72" y2="281.60" stroke="#7f7f7f" stroke-width="0.7"/>
<line x1="581.93" y1="155.60" x2="581.93" y2="281.60" stroke="#7f7f7f" stroke-width="0.7"/>
<line x1="592.14" y1="155.60" x2="592.14" y2="281.60" stroke="#7f7f7f" stroke-width="0.7"/>
<line x1="602.34" y1="155.60" x2="602.34" y2="281.60" stroke="#7f7f7f" stroke-width="0.7"/>
<line x1="612.55" y1="155.60" x2="612.55" y2="281.60" stroke="#7f7f7f" stroke-width="0.7"/>
<line x1="622.76" y1="155.60" x2="622.76" y2="281.60" stroke="#7f7f7f" stroke-width="0.7"/>
<line x1="632.97" y1="155.60" x2="632.97" y2="281.60" stroke="#7f7f7f" stroke-width="0.7"/>
<line x1="643.17" y1="155.60" x2="643.17" y2="281.60" stroke="#7f7f7f" stroke-width="0.7"/>
<line x1="653.38" y1="155.60" x2="653.38" y2="281.60" stroke="#7f7f7f" stroke-width="0.7"/>
<line x1="663.59" y1="155.60" x2="663.59" y2="281.60" stroke="#7f7f7f" stroke-width="0.7"/>
<line x1="673.79" y1="155.60" x2="673.79" y2="281.60" stroke="#7f7f7f" stroke-width="0.7"/>
<line x1="388.00" y1="180.80" x2="684.00" y2="180.80" stroke="#7f7f7f" stroke-width="0.7"/>
<line x1="388.00" y1="206.00" x2="684.00" y2="206.00" stroke="#7f7f7f" stroke-width="0.7"/>
<line x1="388.00" y1="231.20" x2="684.00" y2="231.20" stroke="#7f7f7f" stroke-width="0.7"/>
<line x1="388.00" y1="256.40" x2="684.00" y2="256.40" stroke="#7f7f7f" stroke-width="0.7"/>
<line x1="386.20" y1="168.20" x2="388.00" y2="168.20" stroke="#c8c8c8" stroke-width="0.6"/>
<text x="384.20" y="171.90" font-size="10.3" text-anchor="end" font-weight="normal" >N28</text>
<line x1="386.20" y1="193.40" x2="388.00" y2="193.40" stroke="#c8c8c8" stroke-width="0.6"/>
<text x="384.20" y="197.10" font-size="10.3" text-anchor="end" font-weight="normal" >N20</text>
<line x1="386.20" y1="218.60" x2="388.00" y2="218.60" stroke="#c8c8c8" stroke-width="0.6"/>
<text x="384.20" y="222.30" font-size="10.3" text-anchor="end" font-weight="normal" >N14</text>
<line x1="386.20" y1="243.80" x2="388.00" y2="243.80" stroke="#c8c8c8" stroke-width="0.6"/>
<text x="384.20" y="247.50" font-size="10.3" text-anchor="end" font-weight="normal" >N7</text>
<line x1="386.20" y1="269.00" x2="388.00" y2="269.00" stroke="#c8c8c8" stroke-width="0.6"/>
<text x="384.20" y="272.70" font-size="10.3" text-anchor="end" font-weight="normal" >N0</text>
<line x1="393.10" y1="281.60" x2="393.10" y2="283.20" stroke="#c8c8c8" stroke-width="0.6"/>
<line x1="403.31" y1="281.60" x2="403.31" y2="283.20" stroke="#c8c8c8" stroke-width="0.6"/>
<line x1="413.52" y1="281.60" x2="413.52" y2="283.20" stroke="#c8c8c8" stroke-width="0.6"/>
<line x1="423.72" y1="281.60" x2="423.72" y2="283.20" stroke="#c8c8c8" stroke-width="0.6"/>
<line x1="433.93" y1="281.60" x2="433.93" y2="283.20" stroke="#c8c8c8" stroke-width="0.6"/>
<line x1="444.14" y1="281.60" x2="444.14" y2="283.20" stroke="#c8c8c8" stroke-width="0.6"/>
<line x1="454.34" y1="281.60" x2="454.34" y2="283.20" stroke="#c8c8c8" stroke-width="0.6"/>
<line x1="464.55" y1="281.60" x2="464.55" y2="283.20" stroke="#c8c8c8" stroke-width="0.6"/>
<line x1="474.76" y1="281.60" x2="474.76" y2="283.20" stroke="#c8c8c8" stroke-width="0.6"/>
<line x1="484.97" y1="281.60" x2="484.97" y2="283.20" stroke="#c8c8c8" stroke-width="0.6"/>
<line x1="495.17" y1="281.60" x2="495.17" y2="283.20" stroke="#c8c8c8" stroke-width="0.6"/>
<line x1="505.38" y1="281.60" x2="505.38" y2="283.20" stroke="#c8c8c8" stroke-width="0.6"/>
<line x1="515.59" y1="281.60" x2="515.59" y2="283.20" stroke="#c8c8c8" stroke-width="0.6"/>
<line x1="525.79" y1="281.60" x2="525.79" y2="283.20" stroke="#c8c8c8" stroke-width="0.6"/>
<line x1="536.00" y1="281.60" x2="536.00" y2="283.20" stroke="#c8c8c8" stroke-width="0.6"/>
<line x1="546.21" y1="281.60" x2="546.21" y2="283.20" stroke="#c8c8c8" stroke-width="0.6"/>
<line x1="556.41" y1="281.60" x2="556.41" y2="283.20" stroke="#c8c8c8" stroke-width="0.6"/>
<line x1="566.62" y1="281.60" x2="566.62" y2="283.20" stroke="#c8c8c8" stroke-width="0.6"/>
<line x1="576.83" y1="281.60" x2="576.83" y2="283.20" stroke="#c8c8c8" stroke-width="0.6"/>
<line x1="587.03" y1="281.60" x2="587.03" y2="283.20" stroke="#c8c8c8" stroke-width="0.6"/>
<line x1="597.24" y1="281.60" x2="597.24" y2="283.20" stroke="#c8c8c8" stroke-width="0.6"/>
<line x1="607.45" y1="281.60" x2="607.45" y2="283.20" stroke="#c8c8c8" stroke-width="0.6"/>
<line x1="617.66" y1="281.60" x2="617.66" y2="283.20" stroke="#c8c8c8" stroke-width="0.6"/>
<line x1="627.86" y1="281.60" x2="627.86" y2="283.20" stroke="#c8c8c8" stroke-width="0.6"/>
<line x1="638.07" y1="281.60" x2="638.07" y2="283.20" stroke="#c8c8c8" stroke-width="0.6"/>
<line x1="648.28" y1="281.60" x2="648.28" y2="283.20" stroke="#c8c8c8" stroke-width="0.6"/>
<line x1="658.48" y1="281.60" x2="658.48" y2="283.20" stroke="#c8c8c8" stroke-width="0.6"/>
<line x1="668.69" y1="281.60" x2="668.69" y2="283.20" stroke="#c8c8c8" stroke-width="0.6"/>
<line x1="678.90" y1="281.60" x2="678.90" y2="283.20" stroke="#c8c8c8" stroke-width="0.6"/>
<text transform="translate(396.70,286.6) rotate(-90)" font-size="10" text-anchor="end" style="stroke-width:0.05px">M1</text>
<text transform="translate(406.91,286.6) rotate(-90)" font-size="10" text-anchor="end" style="stroke-width:0.05px">M2</text>
<text transform="translate(417.12,286.6) rotate(-90)" font-size="10" text-anchor="end" style="stroke-width:0.05px">M3</text>
<text transform="translate(427.32,286.6) rotate(-90)" font-size="10" text-anchor="end" style="stroke-width:0.05px">M4</text>
<text transform="translate(437.53,286.6) rotate(-90)" font-size="10" text-anchor="end" style="stroke-width:0.05px">M5</text>
<text transform="translate(447.74,286.6) rotate(-90)" font-size="10" text-anchor="end" style="stroke-width:0.05px">M6</text>
<text transform="translate(457.94,286.6) rotate(-90)" font-size="10" text-anchor="end" style="stroke-width:0.05px">M7</text>
<text transform="translate(468.15,286.6) rotate(-90)" font-size="10" text-anchor="end" style="stroke-width:0.05px">M8</text>
<text transform="translate(478.36,286.6) rotate(-90)" font-size="10" text-anchor="end" style="stroke-width:0.05px">M9</text>
<text transform="translate(488.57,286.6) rotate(-90)" font-size="10" text-anchor="end" style="stroke-width:0.05px">M10</text>
<text transform="translate(498.77,286.6) rotate(-90)" font-size="10" text-anchor="end" style="stroke-width:0.05px">M11</text>
<text transform="translate(508.98,286.6) rotate(-90)" font-size="10" text-anchor="end" style="stroke-width:0.05px">M12</text>
<text transform="translate(519.19,286.6) rotate(-90)" font-size="10" text-anchor="end" style="stroke-width:0.05px">M13</text>
<text transform="translate(529.39,286.6) rotate(-90)" font-size="10" text-anchor="end" style="stroke-width:0.05px">M14</text>
<text transform="translate(539.60,286.6) rotate(-90)" font-size="10" text-anchor="end" style="stroke-width:0.05px">M15</text>
<text transform="translate(549.81,286.6) rotate(-90)" font-size="10" text-anchor="end" style="stroke-width:0.05px">M16</text>
<text transform="translate(560.01,286.6) rotate(-90)" font-size="10" text-anchor="end" style="stroke-width:0.05px">M17</text>
<text transform="translate(570.22,286.6) rotate(-90)" font-size="10" text-anchor="end" style="stroke-width:0.05px">M18</text>
<text transform="translate(580.43,286.6) rotate(-90)" font-size="10" text-anchor="end" style="stroke-width:0.05px">M19</text>
<text transform="translate(590.63,286.6) rotate(-90)" font-size="10" text-anchor="end" style="stroke-width:0.05px">M20</text>
<text transform="translate(600.84,286.6) rotate(-90)" font-size="10" text-anchor="end" style="stroke-width:0.05px">M21</text>
<text transform="translate(611.05,286.6) rotate(-90)" font-size="10" text-anchor="end" style="stroke-width:0.05px">M22</text>
<text transform="translate(621.26,286.6) rotate(-90)" font-size="10" text-anchor="end" style="stroke-width:0.05px">M23</text>
<text transform="translate(631.46,286.6) rotate(-90)" font-size="10" text-anchor="end" style="stroke-width:0.05px">M24</text>
<text transform="translate(641.67,286.6) rotate(-90)" font-size="10" text-anchor="end" style="stroke-width:0.05px">M25</text>
<text transform="translate(651.88,286.6) rotate(-90)" font-size="10" text-anchor="end" style="stroke-width:0.05px">M26</text>
<text transform="translate(662.08,286.6) rotate(-90)" font-size="10" text-anchor="end" style="stroke-width:0.05px">M27</text>
<text transform="translate(672.29,286.6) rotate(-90)" font-size="10" text-anchor="end" style="stroke-width:0.05px">M28</text>
<text transform="translate(682.50,286.6) rotate(-90)" font-size="10" text-anchor="end" style="stroke-width:0.05px">M29</text>
</svg>
</body></html>
